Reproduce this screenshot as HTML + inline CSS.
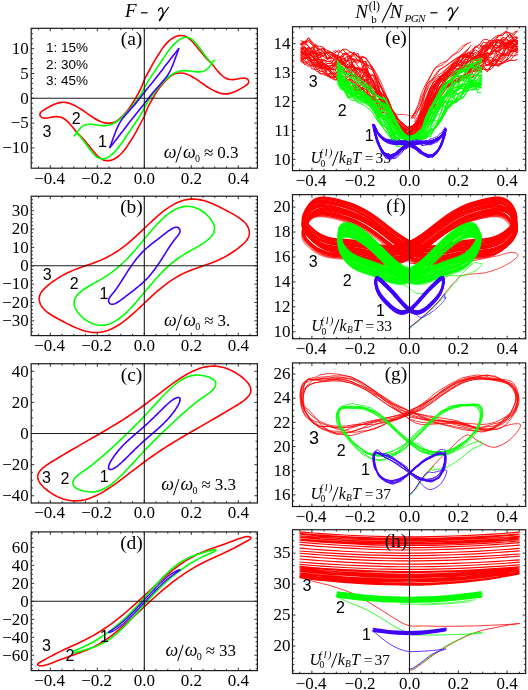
<!DOCTYPE html>
<html><head><meta charset="utf-8"><title>figure</title><style>
html,body{margin:0;padding:0;background:#fff}
svg{display:block;will-change:transform}
text{font-family:"Liberation Serif",serif;fill:#000}
.tk{font-size:17px}
.lg{font-family:"Liberation Sans",sans-serif;font-size:13.5px;fill:#000}
.nm{font-family:"Liberation Sans",sans-serif;font-size:16px;fill:#000}
.pl{font-size:19.5px}
.om{font-size:18px;font-style:italic}
.sl{font-size:20px}
.sub{font-size:10px}
.ti{font-size:19px;font-style:italic}
.tn{font-size:19px}
.tsup{font-size:12px}
.tsub{font-size:11px}
.tsubi{font-size:11.2px;font-style:italic;letter-spacing:-0.75px}
.tsl{font-size:25px}
.ui{font-size:16px;font-style:italic}
.usup{font-size:10px;font-style:italic;letter-spacing:1.5px}
.usub{font-size:9.5px}
.usubi{font-size:9.5px;font-style:italic}
.usl{font-size:17px}
.un{font-size:15.5px}
</style></head>
<body><svg width="528" height="690" viewBox="0 0 528 690">
<rect width="528" height="690" fill="#fff"/>
<g id="pa">
<clipPath id="clipa"><rect x="31.20" y="28.30" width="226.20" height="139.90"/></clipPath>
<g clip-path="url(#clipa)">
</g>
<path d="M144.30 80.00C145.20 77.97 146.00 76.62 147.00 74.70C148.00 72.78 149.05 70.82 150.30 68.50C151.55 66.18 153.10 63.18 154.50 60.80C155.90 58.42 157.32 56.35 158.70 54.20C160.08 52.05 161.42 49.78 162.80 47.90C164.18 46.02 165.60 44.35 167.00 42.90C168.40 41.45 169.82 40.23 171.20 39.20C172.58 38.17 173.92 37.30 175.30 36.70C176.68 36.10 178.10 35.75 179.50 35.60C180.90 35.45 182.73 35.69 183.70 35.80C184.67 35.91 184.47 35.83 185.30 36.25C186.13 36.67 187.58 37.47 188.70 38.30C189.82 39.13 190.90 40.13 192.00 41.25C193.10 42.37 194.18 43.67 195.30 45.00C196.42 46.33 197.58 47.82 198.70 49.20C199.82 50.58 200.90 51.98 202.00 53.30C203.10 54.62 204.18 55.87 205.30 57.10C206.42 58.33 207.58 59.55 208.70 60.70C209.82 61.85 210.90 62.75 212.00 64.00C213.10 65.25 214.18 66.83 215.30 68.20C216.42 69.57 217.58 70.98 218.70 72.20C219.82 73.42 220.90 74.53 222.00 75.50C223.10 76.47 224.18 77.38 225.30 78.00C226.42 78.62 227.58 78.93 228.70 79.20C229.82 79.47 230.90 79.58 232.00 79.60C233.10 79.62 234.18 79.44 235.30 79.30C236.42 79.16 237.58 78.93 238.70 78.75C239.82 78.57 240.90 78.29 242.00 78.20C243.10 78.11 244.40 78.03 245.30 78.20C246.20 78.37 246.83 78.69 247.40 79.20C247.97 79.71 248.60 80.49 248.70 81.25C248.80 82.01 248.57 82.99 248.00 83.75C247.43 84.51 246.30 85.11 245.30 85.80C244.30 86.49 243.10 87.24 242.00 87.90C240.90 88.56 239.82 89.17 238.70 89.75C237.58 90.33 236.42 90.90 235.30 91.40C234.18 91.90 233.10 92.38 232.00 92.75C230.90 93.12 229.82 93.41 228.70 93.60C227.58 93.79 226.42 93.90 225.30 93.90C224.18 93.90 223.10 93.80 222.00 93.60C220.90 93.40 219.82 93.09 218.70 92.70C217.58 92.31 216.42 91.77 215.30 91.25C214.18 90.73 213.38 90.36 212.00 89.60C210.62 88.84 208.53 87.67 207.00 86.70C205.47 85.73 204.18 84.73 202.80 83.75C201.42 82.77 200.08 81.74 198.70 80.80C197.32 79.86 195.90 78.95 194.50 78.10C193.10 77.25 191.68 76.38 190.30 75.70C188.92 75.02 187.30 74.40 186.20 74.00C185.10 73.60 184.68 73.47 183.70 73.30C182.72 73.13 181.42 73.00 180.30 73.00C179.18 73.00 178.10 73.08 177.00 73.30C175.90 73.52 174.82 73.78 173.70 74.30C172.58 74.82 171.42 75.57 170.30 76.40C169.18 77.23 168.10 78.25 167.00 79.30C165.90 80.35 164.82 81.45 163.70 82.70C162.58 83.95 161.42 85.35 160.30 86.80C159.18 88.25 158.10 89.73 157.00 91.40C155.90 93.07 154.82 94.92 153.70 96.80C152.58 98.68 151.42 100.62 150.30 102.70C149.18 104.78 148.00 107.05 147.00 109.30C146.00 111.55 145.20 114.17 144.30 116.20C143.40 118.23 142.60 119.58 141.60 121.50C140.60 123.42 139.55 125.38 138.30 127.70C137.05 130.02 135.50 133.02 134.10 135.40C132.70 137.78 131.28 139.85 129.90 142.00C128.52 144.15 127.18 146.42 125.80 148.30C124.42 150.18 123.00 151.85 121.60 153.30C120.20 154.75 118.78 155.97 117.40 157.00C116.02 158.03 114.68 158.90 113.30 159.50C111.92 160.10 110.50 160.45 109.10 160.60C107.70 160.75 105.87 160.51 104.90 160.40C103.93 160.29 104.13 160.37 103.30 159.95C102.47 159.53 101.02 158.73 99.90 157.90C98.78 157.07 97.70 156.07 96.60 154.95C95.50 153.83 94.42 152.52 93.30 151.20C92.18 149.88 91.02 148.38 89.90 147.00C88.78 145.62 87.70 144.22 86.60 142.90C85.50 141.58 84.42 140.33 83.30 139.10C82.18 137.87 81.02 136.65 79.90 135.50C78.78 134.35 77.70 133.45 76.60 132.20C75.50 130.95 74.42 129.37 73.30 128.00C72.18 126.63 71.02 125.22 69.90 124.00C68.78 122.78 67.70 121.67 66.60 120.70C65.50 119.73 64.42 118.82 63.30 118.20C62.18 117.58 61.02 117.27 59.90 117.00C58.78 116.73 57.70 116.62 56.60 116.60C55.50 116.58 54.42 116.76 53.30 116.90C52.18 117.04 51.02 117.27 49.90 117.45C48.78 117.63 47.70 117.91 46.60 118.00C45.50 118.09 44.20 118.17 43.30 118.00C42.40 117.83 41.77 117.51 41.20 117.00C40.63 116.49 40.00 115.71 39.90 114.95C39.80 114.19 40.03 113.21 40.60 112.45C41.17 111.69 42.30 111.09 43.30 110.40C44.30 109.71 45.50 108.96 46.60 108.30C47.70 107.64 48.78 107.03 49.90 106.45C51.02 105.87 52.18 105.30 53.30 104.80C54.42 104.30 55.50 103.82 56.60 103.45C57.70 103.08 58.78 102.79 59.90 102.60C61.02 102.41 62.18 102.30 63.30 102.30C64.42 102.30 65.50 102.40 66.60 102.60C67.70 102.80 68.78 103.11 69.90 103.50C71.02 103.89 72.18 104.43 73.30 104.95C74.42 105.47 75.22 105.84 76.60 106.60C77.98 107.36 80.07 108.52 81.60 109.50C83.13 110.47 84.42 111.47 85.80 112.45C87.18 113.43 88.52 114.46 89.90 115.40C91.28 116.34 92.70 117.25 94.10 118.10C95.50 118.95 96.92 119.82 98.30 120.50C99.68 121.18 101.30 121.80 102.40 122.20C103.50 122.60 103.92 122.73 104.90 122.90C105.88 123.07 107.18 123.20 108.30 123.20C109.42 123.20 110.50 123.12 111.60 122.90C112.70 122.68 113.78 122.42 114.90 121.90C116.02 121.38 117.18 120.63 118.30 119.80C119.42 118.97 120.50 117.95 121.60 116.90C122.70 115.85 123.78 114.75 124.90 113.50C126.02 112.25 127.18 110.85 128.30 109.40C129.42 107.95 130.50 106.47 131.60 104.80C132.70 103.13 133.78 101.28 134.90 99.40C136.02 97.52 137.18 95.58 138.30 93.50C139.42 91.42 140.60 89.15 141.60 86.90C142.60 84.65 143.40 82.03 144.30 80.00Z" fill="none" stroke="#ff0000" stroke-width="1.6" stroke-linejoin="round" stroke-linecap="round" />
<path d="M212.40 63.50C212.20 63.33 211.82 63.08 211.20 62.50C210.58 61.92 209.68 61.12 208.70 60.00C207.72 58.88 206.42 57.26 205.30 55.80C204.18 54.34 203.10 52.77 202.00 51.25C200.90 49.73 199.82 48.16 198.70 46.70C197.58 45.24 196.42 43.73 195.30 42.50C194.18 41.27 193.10 40.10 192.00 39.30C190.90 38.50 189.82 38.03 188.70 37.70C187.58 37.37 186.42 37.22 185.30 37.30C184.18 37.38 183.25 37.62 182.00 38.20C180.75 38.78 179.18 39.73 177.80 40.80C176.42 41.87 175.08 43.13 173.70 44.60C172.32 46.07 170.90 47.80 169.50 49.60C168.10 51.40 166.68 53.38 165.30 55.40C163.92 57.42 162.45 59.83 161.20 61.70C159.95 63.57 158.92 64.95 157.80 66.60C156.68 68.25 155.60 69.97 154.50 71.60C153.40 73.23 152.32 74.70 151.20 76.40C150.08 78.10 148.95 79.87 147.80 81.80C146.65 83.73 145.33 86.12 144.30 88.00C143.27 89.88 142.60 91.42 141.60 93.10C140.60 94.78 139.42 96.50 138.30 98.10C137.18 99.70 136.02 101.23 134.90 102.70C133.78 104.17 132.70 105.53 131.60 106.90C130.50 108.27 129.42 109.67 128.30 110.90C127.18 112.13 126.02 113.18 124.90 114.30C123.78 115.42 122.70 116.57 121.60 117.60C120.50 118.63 119.42 119.63 118.30 120.50C117.18 121.37 116.02 122.17 114.90 122.80C113.78 123.43 112.70 123.90 111.60 124.30C110.50 124.70 109.42 124.98 108.30 125.20C107.18 125.42 105.88 125.53 104.90 125.60C103.92 125.67 103.50 125.67 102.40 125.60C101.30 125.53 99.68 125.37 98.30 125.20C96.92 125.03 95.50 124.75 94.10 124.60C92.70 124.45 91.28 124.27 89.90 124.30C88.52 124.33 87.05 124.45 85.80 124.80C84.55 125.15 83.38 125.75 82.40 126.40C81.42 127.05 80.66 127.90 79.90 128.70C79.14 129.50 78.47 130.37 77.85 131.20C77.23 132.03 76.76 132.93 76.20 133.70C75.64 134.47 74.78 135.45 74.50 135.80" fill="none" stroke="#00ff00" stroke-width="1.6" stroke-linejoin="round" stroke-linecap="round" />
<path d="M76.20 132.70C76.40 132.87 76.78 133.12 77.40 133.70C78.02 134.28 78.92 135.08 79.90 136.20C80.88 137.32 82.18 138.94 83.30 140.40C84.42 141.86 85.50 143.43 86.60 144.95C87.70 146.47 88.78 148.04 89.90 149.50C91.02 150.96 92.18 152.47 93.30 153.70C94.42 154.93 95.50 156.10 96.60 156.90C97.70 157.70 98.78 158.17 99.90 158.50C101.02 158.83 102.18 158.98 103.30 158.90C104.42 158.82 105.35 158.58 106.60 158.00C107.85 157.42 109.42 156.47 110.80 155.40C112.18 154.33 113.52 153.07 114.90 151.60C116.28 150.13 117.70 148.40 119.10 146.60C120.50 144.80 121.92 142.82 123.30 140.80C124.68 138.78 126.15 136.37 127.40 134.50C128.65 132.63 129.68 131.25 130.80 129.60C131.92 127.95 133.00 126.23 134.10 124.60C135.20 122.97 136.28 121.50 137.40 119.80C138.52 118.10 139.65 116.33 140.80 114.40C141.95 112.47 143.27 110.08 144.30 108.20C145.33 106.32 146.00 104.78 147.00 103.10C148.00 101.42 149.18 99.70 150.30 98.10C151.42 96.50 152.58 94.97 153.70 93.50C154.82 92.03 155.90 90.67 157.00 89.30C158.10 87.93 159.18 86.53 160.30 85.30C161.42 84.07 162.58 83.02 163.70 81.90C164.82 80.78 165.90 79.63 167.00 78.60C168.10 77.57 169.18 76.57 170.30 75.70C171.42 74.83 172.58 74.03 173.70 73.40C174.82 72.77 175.90 72.30 177.00 71.90C178.10 71.50 179.18 71.22 180.30 71.00C181.42 70.78 182.72 70.67 183.70 70.60C184.68 70.53 185.10 70.53 186.20 70.60C187.30 70.67 188.92 70.83 190.30 71.00C191.68 71.17 193.10 71.45 194.50 71.60C195.90 71.75 197.32 71.93 198.70 71.90C200.08 71.87 201.55 71.75 202.80 71.40C204.05 71.05 205.22 70.45 206.20 69.80C207.18 69.15 207.94 68.30 208.70 67.50C209.46 66.70 210.13 65.83 210.75 65.00C211.37 64.17 211.84 63.27 212.40 62.50C212.96 61.73 213.82 60.75 214.10 60.40" fill="none" stroke="#00ff00" stroke-width="1.6" stroke-linejoin="round" stroke-linecap="round" />
<path d="M109.90 147.50C110.12 146.87 110.63 145.30 111.20 143.70C111.77 142.10 112.53 139.98 113.30 137.90C114.07 135.82 114.97 133.25 115.80 131.20C116.63 129.15 117.47 127.27 118.30 125.60C119.13 123.93 119.97 122.53 120.80 121.20C121.63 119.87 122.62 118.50 123.30 117.60C123.98 116.70 124.07 116.75 124.90 115.80C125.73 114.85 127.18 113.18 128.30 111.90C129.42 110.62 130.50 109.35 131.60 108.10C132.70 106.85 133.78 105.72 134.90 104.40C136.02 103.08 137.18 101.60 138.30 100.20C139.42 98.80 140.60 97.28 141.60 96.00C142.60 94.72 143.27 93.82 144.30 92.50C145.33 91.18 146.65 89.53 147.80 88.10C148.95 86.67 150.08 85.29 151.20 83.90C152.32 82.51 153.40 81.13 154.50 79.75C155.60 78.37 156.68 77.01 157.80 75.60C158.92 74.19 159.95 72.93 161.20 71.30C162.45 69.67 163.92 67.62 165.30 65.80C166.68 63.98 168.10 62.20 169.50 60.40C170.90 58.60 172.45 56.60 173.70 55.00C174.95 53.40 176.17 51.85 177.00 50.80C177.83 49.75 178.42 49.05 178.70 48.70" fill="none" stroke="#4000ff" stroke-width="1.6" stroke-linejoin="round" stroke-linecap="round" />
<path d="M178.70 48.70C178.48 49.33 177.97 50.90 177.40 52.50C176.83 54.10 176.07 56.22 175.30 58.30C174.53 60.38 173.63 62.95 172.80 65.00C171.97 67.05 171.13 68.93 170.30 70.60C169.47 72.27 168.63 73.67 167.80 75.00C166.97 76.33 165.98 77.70 165.30 78.60C164.62 79.50 164.53 79.45 163.70 80.40C162.87 81.35 161.42 83.02 160.30 84.30C159.18 85.58 158.10 86.85 157.00 88.10C155.90 89.35 154.82 90.48 153.70 91.80C152.58 93.12 151.42 94.60 150.30 96.00C149.18 97.40 148.00 98.92 147.00 100.20C146.00 101.48 145.33 102.38 144.30 103.70C143.27 105.02 141.95 106.67 140.80 108.10C139.65 109.53 138.52 110.91 137.40 112.30C136.28 113.69 135.20 115.07 134.10 116.45C133.00 117.83 131.92 119.19 130.80 120.60C129.68 122.01 128.65 123.27 127.40 124.90C126.15 126.53 124.68 128.58 123.30 130.40C121.92 132.22 120.50 134.00 119.10 135.80C117.70 137.60 116.15 139.60 114.90 141.20C113.65 142.80 112.43 144.35 111.60 145.40C110.77 146.45 110.18 147.15 109.90 147.50" fill="none" stroke="#4000ff" stroke-width="1.6" stroke-linejoin="round" stroke-linecap="round" />
<text x="46" y="51.6" class="lg">1: 15%</text>
<text x="46" y="68.6" class="lg">2: 30%</text>
<text x="46" y="85.4" class="lg">3: 45%</text>
<text x="102.5" y="147.3" class="nm" text-anchor="middle">1</text>
<text x="76.2" y="123.7" class="nm" text-anchor="middle">2</text>
<text x="47" y="136.5" class="nm" text-anchor="middle">3</text>
<path d="M38.55 168.20v-1.8M38.55 28.30v1.8M50.30 168.20v-3.0M50.30 28.30v3.0M62.05 168.20v-1.8M62.05 28.30v1.8M73.80 168.20v-1.8M73.80 28.30v1.8M85.55 168.20v-1.8M85.55 28.30v1.8M97.30 168.20v-3.0M97.30 28.30v3.0M109.05 168.20v-1.8M109.05 28.30v1.8M120.80 168.20v-1.8M120.80 28.30v1.8M132.55 168.20v-1.8M132.55 28.30v1.8M144.30 168.20v-3.0M144.30 28.30v3.0M156.05 168.20v-1.8M156.05 28.30v1.8M167.80 168.20v-1.8M167.80 28.30v1.8M179.55 168.20v-1.8M179.55 28.30v1.8M191.30 168.20v-3.0M191.30 28.30v3.0M203.05 168.20v-1.8M203.05 28.30v1.8M214.80 168.20v-1.8M214.80 28.30v1.8M226.55 168.20v-1.8M226.55 28.30v1.8M238.30 168.20v-3.0M238.30 28.30v3.0M250.05 168.20v-1.8M250.05 28.30v1.8M31.20 162.78h1.8M257.40 162.78h-1.8M31.20 157.82h1.8M257.40 157.82h-1.8M31.20 152.86h1.8M257.40 152.86h-1.8M31.20 147.90h3.0M257.40 147.90h-3.0M31.20 142.94h1.8M257.40 142.94h-1.8M31.20 137.98h1.8M257.40 137.98h-1.8M31.20 133.02h1.8M257.40 133.02h-1.8M31.20 128.06h1.8M257.40 128.06h-1.8M31.20 123.10h3.0M257.40 123.10h-3.0M31.20 118.14h1.8M257.40 118.14h-1.8M31.20 113.18h1.8M257.40 113.18h-1.8M31.20 108.22h1.8M257.40 108.22h-1.8M31.20 103.26h1.8M257.40 103.26h-1.8M31.20 98.30h3.0M257.40 98.30h-3.0M31.20 93.34h1.8M257.40 93.34h-1.8M31.20 88.38h1.8M257.40 88.38h-1.8M31.20 83.42h1.8M257.40 83.42h-1.8M31.20 78.46h1.8M257.40 78.46h-1.8M31.20 73.50h3.0M257.40 73.50h-3.0M31.20 68.54h1.8M257.40 68.54h-1.8M31.20 63.58h1.8M257.40 63.58h-1.8M31.20 58.62h1.8M257.40 58.62h-1.8M31.20 53.66h1.8M257.40 53.66h-1.8M31.20 48.70h3.0M257.40 48.70h-3.0M31.20 43.74h1.8M257.40 43.74h-1.8M31.20 38.78h1.8M257.40 38.78h-1.8M31.20 33.82h1.8M257.40 33.82h-1.8M31.20 28.86h1.8M257.40 28.86h-1.8" stroke="#1c1c1c" stroke-width="0.9" fill="none"/>
<path d="M144.30 28.30V168.20" stroke="#1c1c1c" stroke-width="1.1"/>
<path d="M31.20 98.30H257.40" stroke="#1c1c1c" stroke-width="1.1"/>
<rect x="31.20" y="28.30" width="226.20" height="139.90" fill="none" stroke="#1c1c1c" stroke-width="1.2"/>
<text x="49.60" y="183.50" text-anchor="middle" class="tk">−0.4</text>
<text x="96.60" y="183.50" text-anchor="middle" class="tk">−0.2</text>
<text x="144.30" y="183.50" text-anchor="middle" class="tk">0.0</text>
<text x="191.30" y="183.50" text-anchor="middle" class="tk">0.2</text>
<text x="238.30" y="183.50" text-anchor="middle" class="tk">0.4</text>
<text x="28.80" y="153.20" text-anchor="end" class="tk">−10</text>
<text x="28.80" y="128.40" text-anchor="end" class="tk">−5</text>
<text x="28.80" y="103.60" text-anchor="end" class="tk">0</text>
<text x="28.80" y="78.80" text-anchor="end" class="tk">5</text>
<text x="28.80" y="54.00" text-anchor="end" class="tk">10</text>
</g>
<g id="pb">
<clipPath id="clipb"><rect x="31.20" y="196.20" width="226.20" height="139.40"/></clipPath>
<g clip-path="url(#clipb)">
</g>
<path d="M144.30 228.38L148.43 224.46L152.55 220.60L156.65 216.89L160.74 213.39L164.80 210.18L168.84 207.31L172.83 204.84L176.78 202.79L180.68 201.20L184.52 200.05L188.30 199.35L192.01 199.06L195.65 199.17L199.21 199.61L202.69 200.35L206.08 201.32L209.37 202.48L212.56 203.78L215.64 205.15L218.62 206.57L221.48 207.99L224.22 209.40L226.84 210.78L229.33 212.12L231.69 213.41L233.91 214.66L236.00 215.89L237.94 217.10L239.75 218.31L241.40 219.53L242.90 220.76L244.26 222.02L245.45 223.31L246.50 224.63L247.38 225.97L248.11 227.34L248.67 228.71L249.08 230.09L249.32 231.45L249.40 232.80L249.32 234.13L249.08 235.43L248.67 236.71L248.11 237.98L247.38 239.22L246.50 240.47L245.45 241.72L244.26 242.99L242.90 244.28L241.40 245.61L239.75 246.97L237.94 248.38L236.00 249.82L233.91 251.28L231.69 252.77L229.33 254.25L226.84 255.73L224.22 257.17L221.48 258.58L218.62 259.93L215.64 261.23L212.56 262.47L209.37 263.67L206.08 264.83L202.69 265.98L199.21 267.17L195.65 268.41L192.01 269.75L188.30 271.23L184.52 272.90L180.68 274.79L176.78 276.93L172.83 279.34L168.84 282.04L164.80 285.02L160.74 288.28L156.65 291.77L152.55 295.46L148.43 299.30L144.30 303.22L140.17 307.14L136.05 311.00L131.95 314.71L127.86 318.21L123.80 321.42L119.76 324.29L115.77 326.76L111.82 328.81L107.92 330.40L104.08 331.55L100.30 332.25L96.59 332.54L92.95 332.43L89.39 331.99L85.91 331.25L82.52 330.28L79.23 329.12L76.04 327.82L72.96 326.45L69.98 325.03L67.12 323.61L64.38 322.20L61.76 320.82L59.27 319.48L56.91 318.19L54.69 316.94L52.60 315.71L50.66 314.50L48.85 313.29L47.20 312.07L45.70 310.84L44.34 309.58L43.15 308.29L42.10 306.97L41.22 305.63L40.49 304.26L39.93 302.89L39.52 301.51L39.28 300.15L39.20 298.80L39.28 297.47L39.52 296.17L39.93 294.89L40.49 293.62L41.22 292.38L42.10 291.13L43.15 289.88L44.34 288.61L45.70 287.32L47.20 285.99L48.85 284.63L50.66 283.22L52.60 281.78L54.69 280.32L56.91 278.83L59.27 277.35L61.76 275.87L64.38 274.43L67.12 273.02L69.98 271.67L72.96 270.37L76.04 269.13L79.23 267.93L82.52 266.77L85.91 265.62L89.39 264.43L92.95 263.19L96.59 261.85L100.30 260.37L104.08 258.70L107.92 256.81L111.82 254.67L115.77 252.26L119.76 249.56L123.80 246.58L127.86 243.32L131.95 239.83L136.05 236.14L140.17 232.30Z" fill="none" stroke="#ff0000" stroke-width="1.6" stroke-linejoin="round" stroke-linecap="round" />
<path d="M144.30 239.11L147.06 235.80L149.81 232.53L152.55 229.34L155.28 226.26L158.00 223.33L160.69 220.58L163.36 218.03L165.99 215.70L168.60 213.62L171.16 211.80L173.69 210.24L176.17 208.95L178.60 207.93L180.98 207.16L183.30 206.65L185.56 206.36L187.76 206.30L189.89 206.45L191.95 206.77L193.94 207.26L195.85 207.89L197.68 208.65L199.43 209.52L201.09 210.47L202.67 211.50L204.16 212.59L205.55 213.73L206.85 214.89L208.05 216.08L209.16 217.28L210.16 218.49L211.06 219.70L211.86 220.90L212.56 222.08L213.15 223.25L213.64 224.40L214.01 225.52L214.28 226.63L214.45 227.71L214.50 228.77L214.45 229.81L214.28 230.83L214.01 231.84L213.64 232.83L213.15 233.82L212.56 234.80L211.86 235.77L211.06 236.74L210.16 237.72L209.16 238.69L208.05 239.67L206.85 240.65L205.55 241.63L204.16 242.62L202.67 243.61L201.09 244.61L199.43 245.62L197.68 246.65L195.85 247.69L193.94 248.76L191.95 249.86L189.89 251.02L187.76 252.23L185.56 253.52L183.30 254.90L180.98 256.39L178.60 258.00L176.17 259.74L173.69 261.64L171.16 263.70L168.60 265.92L165.99 268.32L163.36 270.88L160.69 273.62L158.00 276.50L155.28 279.52L152.55 282.66L149.81 285.88L147.06 289.17L144.30 292.49L141.54 295.80L138.79 299.07L136.05 302.26L133.32 305.34L130.60 308.27L127.91 311.02L125.24 313.57L122.61 315.90L120.00 317.98L117.44 319.80L114.91 321.36L112.43 322.65L110.00 323.67L107.62 324.44L105.30 324.95L103.04 325.24L100.84 325.30L98.71 325.15L96.65 324.83L94.66 324.34L92.75 323.71L90.92 322.95L89.17 322.08L87.51 321.13L85.93 320.10L84.44 319.01L83.05 317.87L81.75 316.71L80.55 315.52L79.44 314.32L78.44 313.11L77.54 311.90L76.74 310.70L76.04 309.52L75.45 308.35L74.96 307.20L74.59 306.08L74.32 304.97L74.15 303.89L74.10 302.83L74.15 301.79L74.32 300.77L74.59 299.76L74.96 298.77L75.45 297.78L76.04 296.80L76.74 295.83L77.54 294.86L78.44 293.88L79.44 292.91L80.55 291.93L81.75 290.95L83.05 289.97L84.44 288.98L85.93 287.99L87.51 286.99L89.17 285.98L90.92 284.95L92.75 283.91L94.66 282.84L96.65 281.74L98.71 280.58L100.84 279.37L103.04 278.08L105.30 276.70L107.62 275.21L110.00 273.60L112.43 271.86L114.91 269.96L117.44 267.90L120.00 265.68L122.61 263.28L125.24 260.72L127.91 257.98L130.60 255.10L133.32 252.08L136.05 248.94L138.79 245.72L141.54 242.43Z" fill="none" stroke="#00ff00" stroke-width="1.6" stroke-linejoin="round" stroke-linecap="round" />
<path d="M144.30 250.30L145.70 248.98L147.10 247.73L148.50 246.52L149.88 245.36L151.26 244.24L152.63 243.15L153.99 242.09L155.33 241.05L156.66 240.03L157.96 239.03L159.25 238.04L160.51 237.07L161.74 236.11L162.95 235.18L164.13 234.26L165.28 233.38L166.40 232.53L167.49 231.72L168.53 230.96L169.54 230.25L170.52 229.61L171.45 229.03L172.34 228.53L173.18 228.11L173.98 227.78L174.74 227.52L175.45 227.36L176.11 227.28L176.72 227.28L177.28 227.36L177.79 227.52L178.25 227.74L178.66 228.02L179.01 228.35L179.31 228.73L179.56 229.14L179.75 229.57L179.89 230.03L179.97 230.51L180.00 230.99L179.97 231.47L179.89 231.97L179.75 232.46L179.56 232.96L179.31 233.46L179.01 233.98L178.66 234.51L178.25 235.07L177.79 235.66L177.28 236.30L176.72 236.99L176.11 237.74L175.45 238.56L174.74 239.45L173.98 240.44L173.18 241.51L172.34 242.68L171.45 243.94L170.52 245.30L169.54 246.75L168.53 248.30L167.49 249.92L166.40 251.63L165.28 253.40L164.13 255.22L162.95 257.09L161.74 258.99L160.51 260.91L159.25 262.83L157.96 264.74L156.66 266.63L155.33 268.48L153.99 270.29L152.63 272.06L151.26 273.76L149.88 275.40L148.50 276.98L147.10 278.48L145.70 279.93L144.30 281.30L142.90 282.62L141.50 283.87L140.10 285.08L138.72 286.24L137.34 287.36L135.97 288.45L134.61 289.51L133.27 290.55L131.94 291.57L130.64 292.57L129.35 293.56L128.09 294.53L126.86 295.49L125.65 296.42L124.47 297.34L123.32 298.22L122.20 299.07L121.11 299.88L120.07 300.64L119.06 301.35L118.08 301.99L117.15 302.57L116.26 303.07L115.42 303.49L114.62 303.82L113.86 304.08L113.15 304.24L112.49 304.32L111.88 304.32L111.32 304.24L110.81 304.08L110.35 303.86L109.94 303.58L109.59 303.25L109.29 302.87L109.04 302.46L108.85 302.03L108.71 301.57L108.63 301.09L108.60 300.61L108.63 300.13L108.71 299.63L108.85 299.14L109.04 298.64L109.29 298.14L109.59 297.62L109.94 297.09L110.35 296.53L110.81 295.94L111.32 295.30L111.88 294.61L112.49 293.86L113.15 293.04L113.86 292.15L114.62 291.16L115.42 290.09L116.26 288.92L117.15 287.66L118.08 286.30L119.06 284.85L120.07 283.30L121.11 281.68L122.20 279.97L123.32 278.20L124.47 276.38L125.65 274.51L126.86 272.61L128.09 270.69L129.35 268.77L130.64 266.86L131.94 264.97L133.27 263.12L134.61 261.31L135.97 259.54L137.34 257.84L138.72 256.20L140.10 254.62L141.50 253.12L142.90 251.67Z" fill="none" stroke="#4000ff" stroke-width="1.6" stroke-linejoin="round" stroke-linecap="round" />
<text x="104" y="299.4" class="nm" text-anchor="middle">1</text>
<text x="74.1" y="288.7" class="nm" text-anchor="middle">2</text>
<text x="47.2" y="280.1" class="nm" text-anchor="middle">3</text>
<path d="M38.55 335.60v-1.8M38.55 196.20v1.8M50.30 335.60v-3.0M50.30 196.20v3.0M62.05 335.60v-1.8M62.05 196.20v1.8M73.80 335.60v-1.8M73.80 196.20v1.8M85.55 335.60v-1.8M85.55 196.20v1.8M97.30 335.60v-3.0M97.30 196.20v3.0M109.05 335.60v-1.8M109.05 196.20v1.8M120.80 335.60v-1.8M120.80 196.20v1.8M132.55 335.60v-1.8M132.55 196.20v1.8M144.30 335.60v-3.0M144.30 196.20v3.0M156.05 335.60v-1.8M156.05 196.20v1.8M167.80 335.60v-1.8M167.80 196.20v1.8M179.55 335.60v-1.8M179.55 196.20v1.8M191.30 335.60v-3.0M191.30 196.20v3.0M203.05 335.60v-1.8M203.05 196.20v1.8M214.80 335.60v-1.8M214.80 196.20v1.8M226.55 335.60v-1.8M226.55 196.20v1.8M238.30 335.60v-3.0M238.30 196.20v3.0M250.05 335.60v-1.8M250.05 196.20v1.8M31.20 331.86h1.8M257.40 331.86h-1.8M31.20 328.19h1.8M257.40 328.19h-1.8M31.20 324.52h1.8M257.40 324.52h-1.8M31.20 320.85h3.0M257.40 320.85h-3.0M31.20 317.18h1.8M257.40 317.18h-1.8M31.20 313.51h1.8M257.40 313.51h-1.8M31.20 309.84h1.8M257.40 309.84h-1.8M31.20 306.17h1.8M257.40 306.17h-1.8M31.20 302.50h3.0M257.40 302.50h-3.0M31.20 298.83h1.8M257.40 298.83h-1.8M31.20 295.16h1.8M257.40 295.16h-1.8M31.20 291.49h1.8M257.40 291.49h-1.8M31.20 287.82h1.8M257.40 287.82h-1.8M31.20 284.15h3.0M257.40 284.15h-3.0M31.20 280.48h1.8M257.40 280.48h-1.8M31.20 276.81h1.8M257.40 276.81h-1.8M31.20 273.14h1.8M257.40 273.14h-1.8M31.20 269.47h1.8M257.40 269.47h-1.8M31.20 265.80h3.0M257.40 265.80h-3.0M31.20 262.13h1.8M257.40 262.13h-1.8M31.20 258.46h1.8M257.40 258.46h-1.8M31.20 254.79h1.8M257.40 254.79h-1.8M31.20 251.12h1.8M257.40 251.12h-1.8M31.20 247.45h3.0M257.40 247.45h-3.0M31.20 243.78h1.8M257.40 243.78h-1.8M31.20 240.11h1.8M257.40 240.11h-1.8M31.20 236.44h1.8M257.40 236.44h-1.8M31.20 232.77h1.8M257.40 232.77h-1.8M31.20 229.10h3.0M257.40 229.10h-3.0M31.20 225.43h1.8M257.40 225.43h-1.8M31.20 221.76h1.8M257.40 221.76h-1.8M31.20 218.09h1.8M257.40 218.09h-1.8M31.20 214.42h1.8M257.40 214.42h-1.8M31.20 210.75h3.0M257.40 210.75h-3.0M31.20 207.08h1.8M257.40 207.08h-1.8M31.20 203.41h1.8M257.40 203.41h-1.8M31.20 199.74h1.8M257.40 199.74h-1.8" stroke="#1c1c1c" stroke-width="0.9" fill="none"/>
<path d="M144.30 196.20V335.60" stroke="#1c1c1c" stroke-width="1.1"/>
<path d="M31.20 265.80H257.40" stroke="#1c1c1c" stroke-width="1.1"/>
<rect x="31.20" y="196.20" width="226.20" height="139.40" fill="none" stroke="#1c1c1c" stroke-width="1.2"/>
<text x="49.60" y="350.90" text-anchor="middle" class="tk">−0.4</text>
<text x="96.60" y="350.90" text-anchor="middle" class="tk">−0.2</text>
<text x="144.30" y="350.90" text-anchor="middle" class="tk">0.0</text>
<text x="191.30" y="350.90" text-anchor="middle" class="tk">0.2</text>
<text x="238.30" y="350.90" text-anchor="middle" class="tk">0.4</text>
<text x="28.80" y="326.15" text-anchor="end" class="tk">−30</text>
<text x="28.80" y="307.80" text-anchor="end" class="tk">−20</text>
<text x="28.80" y="289.45" text-anchor="end" class="tk">−10</text>
<text x="28.80" y="271.10" text-anchor="end" class="tk">0</text>
<text x="28.80" y="252.75" text-anchor="end" class="tk">10</text>
<text x="28.80" y="234.40" text-anchor="end" class="tk">20</text>
<text x="28.80" y="216.05" text-anchor="end" class="tk">30</text>
</g>
<g id="pc">
<clipPath id="clipc"><rect x="31.20" y="363.75" width="226.20" height="139.25"/></clipPath>
<g clip-path="url(#clipc)">
</g>
<path d="M144.30 405.00L148.49 401.88L152.66 398.71L156.83 395.52L160.98 392.33L165.10 389.19L169.19 386.12L173.24 383.16L177.24 380.35L181.20 377.72L185.09 375.31L188.93 373.15L192.70 371.26L196.39 369.65L200.00 368.34L203.52 367.34L206.96 366.65L210.30 366.25L213.53 366.14L216.66 366.29L219.68 366.68L222.58 367.28L225.36 368.07L228.01 369.02L230.54 370.10L232.93 371.27L235.19 372.52L237.31 373.82L239.28 375.15L241.11 376.50L242.79 377.84L244.31 379.18L245.68 380.50L246.90 381.80L247.95 383.07L248.85 384.32L249.59 385.55L250.16 386.75L250.57 387.93L250.82 389.09L250.90 390.24L250.82 391.36L250.57 392.48L250.16 393.58L249.59 394.68L248.85 395.77L247.95 396.86L246.90 397.95L245.68 399.05L244.31 400.17L242.79 401.31L241.11 402.48L239.28 403.70L237.31 404.95L235.19 406.26L232.93 407.63L230.54 409.06L228.01 410.56L225.36 412.13L222.58 413.76L219.68 415.46L216.66 417.22L213.53 419.05L210.30 420.93L206.96 422.86L203.52 424.84L200.00 426.86L196.39 428.94L192.70 431.06L188.93 433.22L185.09 435.45L181.20 437.73L177.24 440.08L173.24 442.50L169.19 445.01L165.10 447.60L160.98 450.29L156.83 453.08L152.66 455.97L148.49 458.94L144.30 462.00L140.11 465.12L135.94 468.29L131.77 471.48L127.62 474.67L123.50 477.81L119.41 480.88L115.36 483.84L111.36 486.65L107.40 489.28L103.51 491.69L99.67 493.85L95.90 495.74L92.21 497.35L88.60 498.66L85.08 499.66L81.64 500.35L78.30 500.75L75.07 500.86L71.94 500.71L68.92 500.32L66.02 499.72L63.24 498.93L60.59 497.98L58.06 496.90L55.67 495.73L53.41 494.48L51.29 493.18L49.32 491.85L47.49 490.50L45.81 489.16L44.29 487.82L42.92 486.50L41.70 485.20L40.65 483.93L39.75 482.68L39.01 481.45L38.44 480.25L38.03 479.07L37.78 477.91L37.70 476.76L37.78 475.64L38.03 474.52L38.44 473.42L39.01 472.32L39.75 471.23L40.65 470.14L41.70 469.05L42.92 467.95L44.29 466.83L45.81 465.69L47.49 464.52L49.32 463.30L51.29 462.05L53.41 460.74L55.67 459.37L58.06 457.94L60.59 456.44L63.24 454.87L66.02 453.24L68.92 451.54L71.94 449.78L75.07 447.95L78.30 446.07L81.64 444.14L85.08 442.16L88.60 440.14L92.21 438.06L95.90 435.94L99.67 433.78L103.51 431.55L107.40 429.27L111.36 426.92L115.36 424.50L119.41 421.99L123.50 419.40L127.62 416.71L131.77 413.92L135.94 411.03L140.11 408.06Z" fill="none" stroke="#ff0000" stroke-width="1.6" stroke-linejoin="round" stroke-linecap="round" />
<path d="M144.30 416.19L147.10 413.20L149.90 410.19L152.69 407.15L155.47 404.12L158.23 401.12L160.97 398.18L163.68 395.31L166.36 392.56L169.01 389.96L171.62 387.51L174.19 385.26L176.71 383.22L179.19 381.41L181.61 379.83L183.97 378.50L186.27 377.40L188.50 376.53L190.67 375.88L192.77 375.43L194.79 375.16L196.73 375.05L198.59 375.07L200.37 375.21L202.06 375.43L203.67 375.73L205.18 376.07L206.60 376.45L207.92 376.87L209.14 377.30L210.26 377.76L211.29 378.23L212.21 378.73L213.02 379.25L213.73 379.79L214.33 380.38L214.82 380.99L215.21 381.65L215.48 382.35L215.64 383.08L215.70 383.85L215.64 384.64L215.48 385.46L215.21 386.29L214.82 387.14L214.33 387.99L213.73 388.83L213.02 389.68L212.21 390.52L211.29 391.36L210.26 392.21L209.14 393.07L207.92 393.96L206.60 394.88L205.18 395.85L203.67 396.88L202.06 398.00L200.37 399.19L198.59 400.49L196.73 401.89L194.79 403.40L192.77 405.03L190.67 406.76L188.50 408.60L186.27 410.54L183.97 412.58L181.61 414.71L179.19 416.91L176.71 419.18L174.19 421.52L171.62 423.91L169.01 426.35L166.36 428.85L163.68 431.40L160.97 434.00L158.23 436.66L155.47 439.37L152.69 442.14L149.90 444.98L147.10 447.87L144.30 450.81L141.50 453.80L138.70 456.81L135.91 459.85L133.13 462.88L130.37 465.88L127.63 468.82L124.92 471.69L122.24 474.44L119.59 477.04L116.98 479.49L114.41 481.74L111.89 483.78L109.41 485.59L106.99 487.17L104.63 488.50L102.33 489.60L100.10 490.47L97.93 491.12L95.83 491.57L93.81 491.84L91.87 491.95L90.01 491.93L88.23 491.79L86.54 491.57L84.93 491.27L83.42 490.93L82.00 490.55L80.68 490.13L79.46 489.70L78.34 489.24L77.31 488.77L76.39 488.27L75.58 487.75L74.87 487.21L74.27 486.62L73.78 486.01L73.39 485.35L73.12 484.65L72.96 483.92L72.90 483.15L72.96 482.36L73.12 481.54L73.39 480.71L73.78 479.86L74.27 479.01L74.87 478.17L75.58 477.32L76.39 476.48L77.31 475.64L78.34 474.79L79.46 473.93L80.68 473.04L82.00 472.12L83.42 471.15L84.93 470.12L86.54 469.00L88.23 467.81L90.01 466.51L91.87 465.11L93.81 463.60L95.83 461.97L97.93 460.24L100.10 458.40L102.33 456.46L104.63 454.42L106.99 452.29L109.41 450.09L111.89 447.82L114.41 445.48L116.98 443.09L119.59 440.65L122.24 438.15L124.92 435.60L127.63 433.00L130.37 430.34L133.13 427.63L135.91 424.86L138.70 422.02L141.50 419.13Z" fill="none" stroke="#00ff00" stroke-width="1.6" stroke-linejoin="round" stroke-linecap="round" />
<path d="M144.30 426.36L145.71 425.10L147.11 423.82L148.51 422.53L149.90 421.22L151.28 419.90L152.66 418.58L154.02 417.26L155.36 415.93L156.69 414.62L158.00 413.31L159.29 412.03L160.55 410.76L161.79 409.53L163.01 408.34L164.19 407.18L165.34 406.08L166.46 405.03L167.55 404.03L168.60 403.10L169.61 402.24L170.59 401.44L171.52 400.71L172.41 400.06L173.26 399.48L174.07 398.98L174.82 398.55L175.54 398.20L176.20 397.91L176.81 397.70L177.37 397.56L177.89 397.48L178.35 397.47L178.76 397.52L179.11 397.63L179.41 397.80L179.66 398.02L179.85 398.31L179.99 398.64L180.07 399.03L180.10 399.47L180.07 399.96L179.99 400.50L179.85 401.08L179.66 401.72L179.41 402.40L179.11 403.13L178.76 403.91L178.35 404.72L177.89 405.58L177.37 406.48L176.81 407.42L176.20 408.40L175.54 409.41L174.82 410.45L174.07 411.51L173.26 412.60L172.41 413.71L171.52 414.84L170.59 415.98L169.61 417.13L168.60 418.29L167.55 419.45L166.46 420.62L165.34 421.79L164.19 422.95L163.01 424.12L161.79 425.28L160.55 426.43L159.29 427.59L158.00 428.74L156.69 429.90L155.36 431.06L154.02 432.22L152.66 433.39L151.28 434.56L149.90 435.75L148.51 436.95L147.11 438.17L145.71 439.40L144.30 440.64L142.89 441.90L141.49 443.18L140.09 444.47L138.70 445.78L137.32 447.10L135.94 448.42L134.58 449.74L133.24 451.07L131.91 452.38L130.60 453.69L129.31 454.97L128.05 456.24L126.81 457.47L125.59 458.66L124.41 459.82L123.26 460.92L122.14 461.97L121.05 462.97L120.00 463.90L118.99 464.76L118.01 465.56L117.08 466.29L116.19 466.94L115.34 467.52L114.53 468.02L113.78 468.45L113.06 468.80L112.40 469.09L111.79 469.30L111.23 469.44L110.71 469.52L110.25 469.53L109.84 469.48L109.49 469.37L109.19 469.20L108.94 468.98L108.75 468.69L108.61 468.36L108.53 467.97L108.50 467.53L108.53 467.04L108.61 466.50L108.75 465.92L108.94 465.28L109.19 464.60L109.49 463.87L109.84 463.09L110.25 462.28L110.71 461.42L111.23 460.52L111.79 459.58L112.40 458.60L113.06 457.59L113.78 456.55L114.53 455.49L115.34 454.40L116.19 453.29L117.08 452.16L118.01 451.02L118.99 449.87L120.00 448.71L121.05 447.55L122.14 446.38L123.26 445.21L124.41 444.05L125.59 442.88L126.81 441.72L128.05 440.57L129.31 439.41L130.60 438.26L131.91 437.10L133.24 435.94L134.58 434.78L135.94 433.61L137.32 432.44L138.70 431.25L140.09 430.05L141.49 428.83L142.89 427.60Z" fill="none" stroke="#4000ff" stroke-width="1.6" stroke-linejoin="round" stroke-linecap="round" />
<text x="104.1" y="482.3" class="nm" text-anchor="middle">1</text>
<text x="65" y="484.0" class="nm" text-anchor="middle">2</text>
<text x="46.5" y="482.9" class="nm" text-anchor="middle">3</text>
<path d="M38.55 503.00v-1.8M38.55 363.75v1.8M50.30 503.00v-3.0M50.30 363.75v3.0M62.05 503.00v-1.8M62.05 363.75v1.8M73.80 503.00v-1.8M73.80 363.75v1.8M85.55 503.00v-1.8M85.55 363.75v1.8M97.30 503.00v-3.0M97.30 363.75v3.0M109.05 503.00v-1.8M109.05 363.75v1.8M120.80 503.00v-1.8M120.80 363.75v1.8M132.55 503.00v-1.8M132.55 363.75v1.8M144.30 503.00v-3.0M144.30 363.75v3.0M156.05 503.00v-1.8M156.05 363.75v1.8M167.80 503.00v-1.8M167.80 363.75v1.8M179.55 503.00v-1.8M179.55 363.75v1.8M191.30 503.00v-3.0M191.30 363.75v3.0M203.05 503.00v-1.8M203.05 363.75v1.8M214.80 503.00v-1.8M214.80 363.75v1.8M226.55 503.00v-1.8M226.55 363.75v1.8M238.30 503.00v-3.0M238.30 363.75v3.0M250.05 503.00v-1.8M250.05 363.75v1.8M31.20 495.74h3.0M257.40 495.74h-3.0M31.20 487.96h1.8M257.40 487.96h-1.8M31.20 480.18h1.8M257.40 480.18h-1.8M31.20 472.40h1.8M257.40 472.40h-1.8M31.20 464.62h3.0M257.40 464.62h-3.0M31.20 456.84h1.8M257.40 456.84h-1.8M31.20 449.06h1.8M257.40 449.06h-1.8M31.20 441.28h1.8M257.40 441.28h-1.8M31.20 433.50h3.0M257.40 433.50h-3.0M31.20 425.72h1.8M257.40 425.72h-1.8M31.20 417.94h1.8M257.40 417.94h-1.8M31.20 410.16h1.8M257.40 410.16h-1.8M31.20 402.38h3.0M257.40 402.38h-3.0M31.20 394.60h1.8M257.40 394.60h-1.8M31.20 386.82h1.8M257.40 386.82h-1.8M31.20 379.04h1.8M257.40 379.04h-1.8M31.20 371.26h3.0M257.40 371.26h-3.0" stroke="#1c1c1c" stroke-width="0.9" fill="none"/>
<path d="M144.30 363.75V503.00" stroke="#1c1c1c" stroke-width="1.1"/>
<path d="M31.20 433.50H257.40" stroke="#1c1c1c" stroke-width="1.1"/>
<rect x="31.20" y="363.75" width="226.20" height="139.25" fill="none" stroke="#1c1c1c" stroke-width="1.2"/>
<text x="49.60" y="518.30" text-anchor="middle" class="tk">−0.4</text>
<text x="96.60" y="518.30" text-anchor="middle" class="tk">−0.2</text>
<text x="144.30" y="518.30" text-anchor="middle" class="tk">0.0</text>
<text x="191.30" y="518.30" text-anchor="middle" class="tk">0.2</text>
<text x="238.30" y="518.30" text-anchor="middle" class="tk">0.4</text>
<text x="28.80" y="501.04" text-anchor="end" class="tk">−40</text>
<text x="28.80" y="469.92" text-anchor="end" class="tk">−20</text>
<text x="28.80" y="438.80" text-anchor="end" class="tk">0</text>
<text x="28.80" y="407.68" text-anchor="end" class="tk">20</text>
<text x="28.80" y="376.56" text-anchor="end" class="tk">40</text>
</g>
<g id="pd">
<clipPath id="clipd"><rect x="31.20" y="531.90" width="226.20" height="138.70"/></clipPath>
<g clip-path="url(#clipd)">
</g>
<path d="M144.30 595.66L148.49 591.74L152.67 587.83L156.84 583.96L160.99 580.18L165.12 576.52L169.21 573.02L173.26 569.71L177.27 566.61L181.23 563.75L185.13 561.15L188.97 558.79L192.74 556.68L196.44 554.79L200.05 553.12L203.58 551.63L207.02 550.28L210.36 549.06L213.60 547.92L216.73 546.84L219.75 545.79L222.65 544.77L225.44 543.77L228.09 542.78L230.62 541.81L233.02 540.89L235.28 540.01L237.40 539.21L239.37 538.50L241.20 537.90L242.88 537.41L244.41 537.04L245.78 536.80L246.99 536.67L248.05 536.66L248.95 536.73L249.69 536.88L250.26 537.09L250.67 537.35L250.92 537.64L251.00 537.95L250.92 538.28L250.67 538.64L250.26 539.02L249.69 539.44L248.95 539.91L248.05 540.44L246.99 541.03L245.78 541.71L244.41 542.47L242.88 543.31L241.20 544.23L239.37 545.23L237.40 546.30L235.28 547.42L233.02 548.59L230.62 549.80L228.09 551.04L225.44 552.31L222.65 553.61L219.75 554.94L216.73 556.31L213.60 557.74L210.36 559.23L207.02 560.82L203.58 562.51L200.05 564.33L196.44 566.29L192.74 568.41L188.97 570.69L185.13 573.15L181.23 575.79L177.27 578.62L173.26 581.62L169.21 584.80L165.12 588.14L160.99 591.64L156.84 595.27L152.67 599.01L148.49 602.84L144.30 606.74L140.11 610.66L135.93 614.57L131.76 618.44L127.61 622.22L123.48 625.88L119.39 629.38L115.34 632.69L111.33 635.79L107.37 638.65L103.47 641.25L99.63 643.61L95.86 645.72L92.16 647.61L88.55 649.28L85.02 650.77L81.58 652.12L78.24 653.34L75.00 654.48L71.87 655.56L68.85 656.61L65.95 657.63L63.16 658.63L60.51 659.62L57.98 660.59L55.58 661.51L53.32 662.39L51.20 663.19L49.23 663.90L47.40 664.50L45.72 664.99L44.19 665.36L42.82 665.60L41.61 665.73L40.55 665.74L39.65 665.67L38.91 665.52L38.34 665.31L37.93 665.05L37.68 664.76L37.60 664.45L37.68 664.12L37.93 663.76L38.34 663.38L38.91 662.96L39.65 662.49L40.55 661.96L41.61 661.37L42.82 660.69L44.19 659.93L45.72 659.09L47.40 658.17L49.23 657.17L51.20 656.10L53.32 654.98L55.58 653.81L57.98 652.60L60.51 651.36L63.16 650.09L65.95 648.79L68.85 647.46L71.87 646.09L75.00 644.66L78.24 643.17L81.58 641.58L85.02 639.89L88.55 638.07L92.16 636.11L95.86 633.99L99.63 631.71L103.47 629.25L107.37 626.61L111.33 623.78L115.34 620.78L119.39 617.60L123.48 614.26L127.61 610.76L131.76 607.13L135.93 603.39L140.11 599.56Z" fill="none" stroke="#ff0000" stroke-width="1.6" stroke-linejoin="round" stroke-linecap="round" />
<path d="M144.30 597.91L147.11 594.71L149.93 591.51L152.73 588.33L155.52 585.20L158.29 582.15L161.04 579.21L163.76 576.39L166.46 573.72L169.12 571.21L171.74 568.89L174.32 566.75L176.85 564.81L179.33 563.06L181.76 561.49L184.13 560.10L186.44 558.88L188.69 557.79L190.87 556.84L192.97 556.00L195.00 555.26L196.95 554.59L198.82 553.99L200.61 553.44L202.31 552.92L203.92 552.45L205.43 552.00L206.86 551.58L208.19 551.19L209.41 550.83L210.54 550.50L211.57 550.22L212.49 549.98L213.31 549.79L214.02 549.66L214.62 549.57L215.12 549.55L215.50 549.57L215.78 549.65L215.94 549.77L216.00 549.94L215.94 550.15L215.78 550.39L215.50 550.65L215.12 550.95L214.62 551.26L214.02 551.60L213.31 551.96L212.49 552.34L211.57 552.75L210.54 553.19L209.41 553.67L208.19 554.19L206.86 554.77L205.43 555.40L203.92 556.09L202.31 556.86L200.61 557.70L198.82 558.62L196.95 559.62L195.00 560.71L192.97 561.89L190.87 563.16L188.69 564.53L186.44 565.99L184.13 567.56L181.76 569.22L179.33 570.99L176.85 572.87L174.32 574.87L171.74 576.98L169.12 579.21L166.46 581.57L163.76 584.05L161.04 586.66L158.29 589.39L155.52 592.23L152.73 595.18L149.93 598.22L147.11 601.33L144.30 604.49L141.49 607.69L138.67 610.89L135.87 614.07L133.08 617.20L130.31 620.25L127.56 623.19L124.84 626.01L122.14 628.68L119.48 631.19L116.86 633.51L114.28 635.65L111.75 637.59L109.27 639.34L106.84 640.91L104.47 642.30L102.16 643.52L99.91 644.61L97.73 645.56L95.63 646.40L93.60 647.14L91.65 647.81L89.78 648.41L87.99 648.96L86.29 649.48L84.68 649.95L83.17 650.40L81.74 650.82L80.41 651.21L79.19 651.57L78.06 651.90L77.03 652.18L76.11 652.42L75.29 652.61L74.58 652.74L73.98 652.83L73.48 652.85L73.10 652.83L72.82 652.75L72.66 652.63L72.60 652.46L72.66 652.25L72.82 652.01L73.10 651.75L73.48 651.45L73.98 651.14L74.58 650.80L75.29 650.44L76.11 650.06L77.03 649.65L78.06 649.21L79.19 648.73L80.41 648.21L81.74 647.63L83.17 647.00L84.68 646.31L86.29 645.54L87.99 644.70L89.78 643.78L91.65 642.78L93.60 641.69L95.63 640.51L97.73 639.24L99.91 637.87L102.16 636.41L104.47 634.84L106.84 633.18L109.27 631.41L111.75 629.53L114.28 627.53L116.86 625.42L119.48 623.19L122.14 620.83L124.84 618.35L127.56 615.74L130.31 613.01L133.08 610.17L135.87 607.22L138.67 604.18L141.49 601.07Z" fill="none" stroke="#00ff00" stroke-width="1.6" stroke-linejoin="round" stroke-linecap="round" />
<path d="M144.30 599.95L145.71 598.41L147.11 596.87L148.51 595.34L149.90 593.83L151.28 592.34L152.66 590.87L154.02 589.44L155.36 588.03L156.69 586.67L158.00 585.35L159.29 584.08L160.55 582.85L161.79 581.68L163.01 580.56L164.19 579.50L165.34 578.49L166.46 577.55L167.55 576.66L168.60 575.83L169.61 575.07L170.59 574.36L171.52 573.71L172.41 573.12L173.26 572.59L174.07 572.10L174.82 571.67L175.54 571.30L176.20 570.96L176.81 570.68L177.37 570.43L177.89 570.23L178.35 570.06L178.76 569.93L179.11 569.84L179.41 569.77L179.66 569.73L179.85 569.73L179.99 569.74L180.07 569.79L180.10 569.86L180.07 569.95L179.99 570.06L179.85 570.20L179.66 570.36L179.41 570.55L179.11 570.77L178.76 571.01L178.35 571.27L177.89 571.57L177.37 571.90L176.81 572.27L176.20 572.66L175.54 573.10L174.82 573.58L174.07 574.10L173.26 574.66L172.41 575.27L171.52 575.93L170.59 576.63L169.61 577.39L168.60 578.20L167.55 579.06L166.46 579.98L165.34 580.95L164.19 581.98L163.01 583.06L161.79 584.19L160.55 585.37L159.29 586.60L158.00 587.87L156.69 589.19L155.36 590.56L154.02 591.96L152.66 593.39L151.28 594.85L149.90 596.34L148.51 597.85L147.11 599.37L145.71 600.91L144.30 602.45L142.89 603.99L141.49 605.53L140.09 607.06L138.70 608.57L137.32 610.06L135.94 611.53L134.58 612.96L133.24 614.37L131.91 615.73L130.60 617.05L129.31 618.32L128.05 619.55L126.81 620.72L125.59 621.84L124.41 622.90L123.26 623.91L122.14 624.85L121.05 625.74L120.00 626.57L118.99 627.33L118.01 628.04L117.08 628.69L116.19 629.28L115.34 629.81L114.53 630.30L113.78 630.73L113.06 631.10L112.40 631.44L111.79 631.72L111.23 631.97L110.71 632.17L110.25 632.34L109.84 632.47L109.49 632.56L109.19 632.63L108.94 632.67L108.75 632.67L108.61 632.66L108.53 632.61L108.50 632.54L108.53 632.45L108.61 632.34L108.75 632.20L108.94 632.04L109.19 631.85L109.49 631.63L109.84 631.39L110.25 631.13L110.71 630.83L111.23 630.50L111.79 630.13L112.40 629.74L113.06 629.30L113.78 628.82L114.53 628.30L115.34 627.74L116.19 627.13L117.08 626.47L118.01 625.77L118.99 625.01L120.00 624.20L121.05 623.34L122.14 622.42L123.26 621.45L124.41 620.42L125.59 619.34L126.81 618.21L128.05 617.03L129.31 615.80L130.60 614.53L131.91 613.21L133.24 611.84L134.58 610.44L135.94 609.01L137.32 607.55L138.70 606.06L140.09 604.55L141.49 603.03L142.89 601.49Z" fill="none" stroke="#4000ff" stroke-width="1.3" stroke-linejoin="round" stroke-linecap="round" />
<text x="104.5" y="641.5" class="nm" text-anchor="middle">1</text>
<text x="70" y="660.5" class="nm" text-anchor="middle">2</text>
<text x="46.5" y="650.5" class="nm" text-anchor="middle">3</text>
<path d="M38.55 670.60v-1.8M38.55 531.90v1.8M50.30 670.60v-3.0M50.30 531.90v3.0M62.05 670.60v-1.8M62.05 531.90v1.8M73.80 670.60v-1.8M73.80 531.90v1.8M85.55 670.60v-1.8M85.55 531.90v1.8M97.30 670.60v-3.0M97.30 531.90v3.0M109.05 670.60v-1.8M109.05 531.90v1.8M120.80 670.60v-1.8M120.80 531.90v1.8M132.55 670.60v-1.8M132.55 531.90v1.8M144.30 670.60v-3.0M144.30 531.90v3.0M156.05 670.60v-1.8M156.05 531.90v1.8M167.80 670.60v-1.8M167.80 531.90v1.8M179.55 670.60v-1.8M179.55 531.90v1.8M191.30 670.60v-3.0M191.30 531.90v3.0M203.05 670.60v-1.8M203.05 531.90v1.8M214.80 670.60v-1.8M214.80 531.90v1.8M226.55 670.60v-1.8M226.55 531.90v1.8M238.30 670.60v-3.0M238.30 531.90v3.0M250.05 670.60v-1.8M250.05 531.90v1.8M31.20 668.72h1.8M257.40 668.72h-1.8M31.20 664.23h1.8M257.40 664.23h-1.8M31.20 659.73h1.8M257.40 659.73h-1.8M31.20 655.24h3.0M257.40 655.24h-3.0M31.20 650.75h1.8M257.40 650.75h-1.8M31.20 646.25h1.8M257.40 646.25h-1.8M31.20 641.75h1.8M257.40 641.75h-1.8M31.20 637.26h3.0M257.40 637.26h-3.0M31.20 632.76h1.8M257.40 632.76h-1.8M31.20 628.27h1.8M257.40 628.27h-1.8M31.20 623.77h1.8M257.40 623.77h-1.8M31.20 619.28h3.0M257.40 619.28h-3.0M31.20 614.78h1.8M257.40 614.78h-1.8M31.20 610.29h1.8M257.40 610.29h-1.8M31.20 605.79h1.8M257.40 605.79h-1.8M31.20 601.30h3.0M257.40 601.30h-3.0M31.20 596.80h1.8M257.40 596.80h-1.8M31.20 592.31h1.8M257.40 592.31h-1.8M31.20 587.81h1.8M257.40 587.81h-1.8M31.20 583.32h3.0M257.40 583.32h-3.0M31.20 578.82h1.8M257.40 578.82h-1.8M31.20 574.33h1.8M257.40 574.33h-1.8M31.20 569.83h1.8M257.40 569.83h-1.8M31.20 565.34h3.0M257.40 565.34h-3.0M31.20 560.84h1.8M257.40 560.84h-1.8M31.20 556.35h1.8M257.40 556.35h-1.8M31.20 551.85h1.8M257.40 551.85h-1.8M31.20 547.36h3.0M257.40 547.36h-3.0M31.20 542.87h1.8M257.40 542.87h-1.8M31.20 538.37h1.8M257.40 538.37h-1.8M31.20 533.88h1.8M257.40 533.88h-1.8" stroke="#1c1c1c" stroke-width="0.9" fill="none"/>
<path d="M144.30 531.90V670.60" stroke="#1c1c1c" stroke-width="1.1"/>
<path d="M31.20 601.30H257.40" stroke="#1c1c1c" stroke-width="1.1"/>
<rect x="31.20" y="531.90" width="226.20" height="138.70" fill="none" stroke="#1c1c1c" stroke-width="1.2"/>
<text x="49.60" y="685.90" text-anchor="middle" class="tk">−0.4</text>
<text x="96.60" y="685.90" text-anchor="middle" class="tk">−0.2</text>
<text x="144.30" y="685.90" text-anchor="middle" class="tk">0.0</text>
<text x="191.30" y="685.90" text-anchor="middle" class="tk">0.2</text>
<text x="238.30" y="685.90" text-anchor="middle" class="tk">0.4</text>
<text x="28.80" y="660.54" text-anchor="end" class="tk">−60</text>
<text x="28.80" y="642.56" text-anchor="end" class="tk">−40</text>
<text x="28.80" y="624.58" text-anchor="end" class="tk">−20</text>
<text x="28.80" y="606.60" text-anchor="end" class="tk">0</text>
<text x="28.80" y="588.62" text-anchor="end" class="tk">20</text>
<text x="28.80" y="570.64" text-anchor="end" class="tk">40</text>
<text x="28.80" y="552.66" text-anchor="end" class="tk">60</text>
</g>
<g id="pe">
<clipPath id="clipe"><rect x="292.50" y="26.70" width="233.20" height="143.90"/></clipPath>
<text x="310.40" y="163.30" class="ui">U</text><text x="320.00" y="156.00" class="usup">(l)</text><text x="320.60" y="166.60" class="usub">0</text><path d="M338.10 151.40L332.50 166.00" stroke="#000" stroke-width="1"/><text x="338.70" y="163.30" class="ui">k</text><text x="346.00" y="165.30" class="usubi">B</text><text x="352.00" y="163.30" class="ui">T</text><text x="364.70" y="163.30" class="un">=</text><text x="375.50" y="163.30" class="un">33</text>
<g clip-path="url(#clipe)">
<path d="M300.5 40.6l4.3 1.5 3.7 4.1 3.6 4.6 3.5-5 4.1 8.4 3.8 2.6 3.7 2.4 4.3-3.6 3.3 1.5 3.6 3.7 4.3-.3 3.9 5.4 3.4 1.9 3.9 3.4 4.2-3.6 3.9 11.8 3.2 1.4 4.2-1.8 4 7.6 3.1-1.2 4.3 1.7 3.6 6.6 4.1 8.1 3.2 7.8 3.9 7.8 4.3 4.5 3.8 2.3 3.7 3.2 3.4-1 4.2-2.3 3.5-2.3 3.9-9.1 3.7-5.6 3.7-8.6 4.2-7.5 4-4.8 3.5-5.5 4.1-5.5 3.7-4.3 3.6-6.8 4.1-2.3 3.7-4.6 3.9-2.3 3.3 1.1 4-4.3 3.6-5 4.3-2 3.9 4.5 3.7-1.8 3.8-4.2 3.3-3.7 4-3.5 3.7-2.2 4-2.7 3.5 2.6 3.9 4.3 3.6-1.3M517.7 43.2l-4.1-4 -3.6-5.3 -3.8 4.2 -3.8 5.1 -3.8 6.4 -3.9 4.2 -4 0 -3.7-1.1 -3.3 1.6 -3.8 1.5 -4.3 4.2 -3.9-7.7 -3.9 7 -3.5 .9 -3.5 4 -4.1 1 -3.5 1 -4.3 5.2 -3.9 9.3 -3.6-2.6 -3.3 4 -4.6 2.2 -3.5 8.6 -3.4 11.7 -4.2 10.3 -3.8 5.4 -3.4 7.9 -4.2 3.6 -3.4 1.1 -4.3-2.9 -3.8-5.3 -3.8-3.9 -3.4-5.4 -4.2-3.4 -4-6.1 -3.4 3.1 -3.7-7.4 -3.9-5.9 -3.8-5.3 -3.7-5.9 -3.7-10.2 -3.9-6 -3.8 .9 -3.7-7.2 -4.4 4.4 -3.1-2.1 -4-3.7 -4 1.5 -4.1 3.5 -3.6 .3 -3.9 2.9 -3.9-5.7 -3.8 3.5 -3.5-6.7 -3.6-3.4 -3.9 4 -4.3-2.6M300.4 55.2l3.8-.4 3.8 1.3 3.9-.6 3.8 4.3 4.2 8.5 3.5 3.8 4.3 4.1 3.7 .1 3.4 .6 4.3 3.6 3.7-.7 3.9 .5 3.4-1.3 3.8 7.4 4 3.6 3.7 5.2 3.8 1 3.5-8.9 4.4 3 3.2 9.3 4.3 .1 3.7 4.4 3.5 6.6 4.4 4.4 3.3 8 4 3.5 4.1 2.7 3.6 4 4-.2 3.2-3.8 4.1-.9 4.2-8 3.6-12.8 3.5-5.8 3.8-2.1 3.7-4.3 4-1.4 3.6-4.9 3.9-6.4 4-1.2 3.8-1.5 3.4-.9 4-4.8 4.2 2.1 3.3-1.7 4.1-10 3.7-.7 3.9-2.6 3.9 .7 3.8 2.6 3.3 .7 4.3-.8 3.6-1.6 3.7-2.3 4.1-3.5 3.6-5.6 3.8-.5M517.8 54.4l-3.9 1.6 -4.3 4.8 -3.5 1.1 -3.5 1.5 -4.3 .3 -3.7-2.8 -3.9 1.1 -3.3 2.9 -3.7-2.3 -4.3 5.8 -3.4 .2 -4.1 4 -3.5-4.5 -4.1 .9 -3.5 1.6 -4.2 2.2 -3.8 5.5 -4 3.2 -3.6 1.5 -3.6 2.5 -4.2 4.5 -3.7 8.9 -3.9 10.4 -3.5-2.7 -3.4 12.2 -3.9 5.2 -4.1 1 -4.2 4.6 -3.2 1 -4-1.1 -3.9-3.7 -4.1-3.2 -3.2-8.3 -4-9 -3.7-5 -4.3-4.4 -3.5-2.1 -3.6-1.1 -4.3-5.4 -3.3-.1 -4-4.1 -3.9 5.2 -3.9-6.8 -3.6-3.2 -3.7 3.4 -4.1-1.2 -3.6-.7 -3.8 .1 -3.6-1.5 -4.2-3 -3.3-.5 -4.5-2.2 -3.7-2.1 -3.3-5.1 -4.4 .8 -3.6-3.2 -4-1.7M300.6 52.1l3.7 1.1 4.3 7.8 3.3-.5 3.7-.4 4 6.3 3.9-3.6 3.9 3 3.7 6.9 3.7 4.2 4.4 3 3.3 1.2 4-.5 3.9 7.7 4-6.3 3.4 1.2 4.2 6.1 3.7-1.9 3.5 4.2 4 1.8 3.3-.7 4.2 8.4 3.6 4.3 4 9.2 4 7.5 3.9 4 3.5 3.3 3.8 3.4 4.1 1.7 3.1 .1 4.4-.6 3.8-5.6 3.5-3.6 4.3-12 3.1-9.4 4.3-9.4 3.7-2.6 3.4-4.7 4.2-2.6 3.8-3.8 3.8-1.2 3.5 2.9 4-2.2 4.2-2.7 3.8 1.5 3.4-1.7 3.8-1.6 3.7-2.5 4.3-6.2 3.4 3.5 4-1 3.8-4 3.7 .7 3.7-2.3 3.9-4 3.8 1 3.9 .1 3.5-1.1M517.9 38.3l-4.1-1.7 -3.4 3.8 -4.1 .9 -4.2-2.7 -3.3 4.2 -4.4-2.8 -3.8 2.8 -3.7 8.4 -3.3 7.5 -4.4-4.2 -3.7 2.3 -3.2 1.7 -3.9-1.7 -4.2 .7 -3.3-.8 -4 6.8 -3.6 .4 -4.4 7.8 -3.9 1.6 -3.4 4.6 -4.2 2.9 -3.3 9.8 -4 7.4 -4 12.1 -3.6 8.2 -3.9 5.4 -3.8 4.5 -3.4 1.7 -4.1-.7 -4.2-.4 -3.4-4.2 -4.1-6.1 -3.4-6.5 -4.3-5.2 -3.1-6.4 -3.8-1.4 -4-5.8 -4.3-6.5 -3.3-1.1 -4-2.1 -3.4-1.5 -4 1.4 -3.8-10.7 -4-6.1 -3.9 1.7 -3.5-4.2 -4.1-8.4 -4-.8 -3.7 3 -4-3.9 -3.1-4.9 -4.4 5.5 -3.7-1.6 -3.7-1.9 -3.9 1.4 -3.5 1.7 -3.9 1.1M301.1 49.7l3.7 .7 3.5 1.6 4.2 4.7 3.6 7.4 3.9 .5 3.3 1.5 4.1 7.3 4.1 4.1 3.6-1.5 3.7 4.4 3.4 .7 4.1 3 4.2-4.6 3.6 8 3.5 .1 4.4 .6 3.1-2.7 4.5 12.6 3.4-.4 3.6 5.9 4.2 9.2 3.7-.5 4 2.8 3.4 5 4 4.4 3.7 6.4 3.5 4.7 4.1 .9 3.9-2.3 3.5-3.9 3.7-1 4.5-8.3 3.2-5.9 3.9-13 4.1-5.3 3.9 .2 3.9-5.8 3.4-6.2 3.8 2.3 4-4.4 3.9-1.6 3.5-5.9 3.8 .7 3.9 .7 4-6.5 3.6-2 4.1-.9 3.8-3.7 3.9-3.8 3.1 .2 4.2-.6 4.1-.4 3.2-4.8 4.3 .8 3.9-.2 3.3 1.2 4.4-4.8M517.8 40.5l-4.2-.4 -3.8 2.3 -3.3-4 -3.7 4.1 -4.3-2.5 -3.7 5.8 -3.8 .5 -3.7 2.5 -3.6 5 -4.2 4.9 -4 7.1 -3.6-.3 -4 7.1 -3.2-2.8 -4.5-1.4 -3.2 3.1 -3.8 7 -4.2 5.3 -3.4 3.6 -4.1 3.3 -3.5 3.1 -3.8 12.1 -4 5 -3.6 8.1 -4.1 7.5 -4.1 5.4 -3.3-.3 -4 4.1 -3.7-2.3 -3.7 0 -4.3-2.9 -3.7-6.4 -3.5-6.5 -4.2-6.2 -3.8-.9 -3.4-.7 -4-1.6 -3.4-5.5 -4.4-2 -3.8-.3 -3.8-4.3 -3.2-11 -4.3 .2 -3.4-10.2 -4.3 3.8 -3.5 1.6 -3.6-1.3 -4.3-6.4 -3.4 .3 -4.2-4.5 -3.4-3.8 -3.8 2.1 -4.2-9.1 -3.3-5 -4.1 1.5 -4.1-.1 -3.2-4.5M300.6 52.5l4.2-.8 3.2 8.2 3.9 1.6 4.2 4.7 3.5 1.2 3.7-1.7 4.5 3.2 3.6-1 3.6-2.6 3.7 3.7 3.7 2.9 3.6 .8 4.4-8.7 3.4 3.3 4.1 2.3 3.7 .5 3.9 7.9 3.7 5.3 4-2.7 4 6.2 3.7 8 3.6 7.5 3.5 3.6 4.4 8.4 3.2 7.3 4.3 5.1 3.7 1.3 3.8 2.5 3.3 .7 4-1.8 3.7 .5 4.3-6.8 3.8-2.3 3.3-11.8 4-8.9 4.1-5.2 3.9-3.1 3.1-3.7 4.3-2.2 3.6-1.2 3.9-3.3 3.8-1.8 4.1-3.6 3.6-4.9 3.7-.2 3.7 .7 3.8-2 4.3-4.5 3.6-.3 4 1.2 3.7-1.7 3.5-4.4 4.1-8 3.3-6.2 4-1.2 4-5.8 4.1 3.5M517.9 46.6l-4.1 4.8 -3.5-6.6 -4.4 3.8 -3.7 7.8 -4-1.9 -3.7 5.8 -3.6 2.6 -3.4-3.9 -4.2-1.7 -3.7 .3 -4 2.6 -3.7-.9 -3.9 3.7 -3.4 3 -3.8 3.9 -4.3 5 -3.5 2.8 -3.9 3.4 -3.8 7.6 -3.5 2.1 -4.2 5.7 -3.9 11.7 -3.9 7.6 -3.8 4.5 -3.2 10.5 -4.2 1.9 -4 3.9 -3.7 .3 -3.4-.5 -4-.4 -4.2-6.1 -3.4-1.9 -4-8.4 -3.4-7.2 -4.1-7.6 -3.6-6.3 -4.2-9.4 -3.5-8 -4-5.9 -3.8-2.2 -3.3-.6 -4.2-3.8 -3.7 8.4 -3.8-6.8 -4 2.2 -4.1-6.7 -3.4 3 -4-.6 -3.4 .2 -4-1.2 -3.7 1 -3.9-2.7 -4-10.9 -4 2.8 -3.1-.1 -3.8 .5 -4.5-2.7M300.6 57.2l4.3-.7 3.7-2.4 3.7 2.8 3.8-1 3.6-1.3 4.1 10.2 3.7-1.1 3.7-.7 3.8 2.3 3.8-5.3 3.9 4.9 3.5 1.8 4 1.1 3.8-8 3.6 6.1 4.1 4.3 3.7-.8 3.9 12.4 3.5 5.7 4 2.3 3.6 3.2 4.1 3.2 3.7 5.8 3.5 7.5 4.1 6.3 3.7 6.4 3.9 4.2 3.9 3.2 4.1-.1 3.3-6.1 3.7-4.7 4.1-3.9 4-15.6 3.3-6.4 4.3-4.6 3.4-7.4 4.2-3.5 3.6-3.1 3.7-2.6 4.2-2.2 3.7-6.4 3.7-6.8 3.9-2 3.9-1.8 3.2 .3 4.1-2.9 4.1 3.4 3.6 3.2 3.6-2.5 3.8-.1 4-4.1 4.1-2.1 3.8 .8 3.2-3.1 4.4-5.6 3.6 2.1 3.4-3.5M517.5 43.7l-3.7-2.9 -3.7 2.1 -3.6 .3 -3.9 4.8 -3.8 2.9 -4.3 0 -3.2-1.2 -4-4.7 -4.3 4.4 -3.6 12.7 -3.6 2.9 -4 .7 -3.4-1.3 -3.7-2.7 -4.3 6.1 -3.7 1.2 -4.1-2.2 -3.3 1.4 -4.1 7.9 -3.5-.9 -4.3 5.1 -3.8 7.6 -3.6 9.6 -3.3 6.4 -4 11 -3.8 10.7 -3.8 2 -4.1 3.8 -3.4 1.1 -4.1-2.7 -3.5-5.2 -4.3-5.2 -3.6-6.7 -3.9-5.1 -3.4-6.4 -4.2-7.6 -3.4-.8 -4.3-7.6 -3.9-9.6 -3.2-7.8 -3.9-8.9 -4.1-1.8 -3.5-4.7 -3.9 5.4 -4-5.1 -4 1.9 -4 4.1 -3.2-1.9 -3.9-4.1 -3.6-1.2 -3.9 3.3 -4.2 2.9 -3.5-6.6 -4.1 .2 -3.8-5.2 -3.6-3.2 -3.7 1.1M300.6 49.6l3.9-2 4.2 1.6 3.7-2 3.2 6.1 4.2 6.9 4.1 4.5 3.1 .5 3.8 3 4.5 4.8 3.3 2.4 4.3 .4 3.6 2.5 3.8 8.9 4 2.3 3.1-.5 4.4 2 3.2 1.3 4.3 4.2 3.6 0 3.8 4 3.9 4.5 3.7 5 3.9 2.2 3.8 6.9 3.5 3.9 4.2 4 3.6 5.1 4 2.8 3.7 .9 4-1.4 3.4-6.2 3.8-4.7 4.3-7.4 4-8.3 3.3-15.2 3.6-10 4.2-5.4 3.7-2.8 3.6 1.9 3.8-5.4 4.2-4.6 3.3-1.6 4.4 1.6 3.7 1.1 3.5-4 4.1 7.8 3.6-7.9 4.1-8.7 3.2 .8 4.4-3.3 3.9-6.7 3.5 .5 3.8 .3 3.6 .2 3.7-6.6 3.9 5 4.3-3.9M517.2 42.6l-3.8 5.1 -3.5 .1 -3.5-2.5 -3.7 12.3 -4 1.8 -4.3 .4 -3.6 6.8 -3.6 5.3 -3.6-3.7 -4.2-1.4 -3.4 3.3 -4.3-2 -3.2-.1 -4.1 6.8 -3.6 1.7 -4 5.1 -3.5 4 -3.8-1.2 -4.1 3.7 -3.6 4.4 -4 1.4 -3.6 5.9 -4.3 10.5 -3.4 9.8 -4.1 4.1 -3.4 3.7 -3.9 2.7 -3.8 2.7 -3.9-.1 -4.1-3.2 -3.3-3.6 -3.8-.8 -4.4-8.6 -3.3-8.7 -4.4-8.9 -3.8-4 -3.6-5.4 -4.1 7.4 -3.4-2.5 -3.4-3.2 -4-3 -3.9 4.6 -3.8-6.5 -4.3 .8 -3.5-3.3 -3.6-1.1 -3.8-2.5 -3.8-5 -4.1-4.9 -3.3-1.9 -4.2-4.1 -3.5-1.3 -4.1 4.4 -3.5-2.7 -3.8-7.9 -3.9 .7 -3.8 2.9M301 53.1l3.3 2.4 4.3 .5 3.3 4 4-.4 3.7 2.7 4.1 1.7 4 2 3.5 3 4 .8 3.7-3.6 3.7-2.3 3.4-3.2 4.2-4 3.7 12.3 3.8 7.8 4.1 2.4 3.7-9.9 3.3 8.4 3.9-3.1 4.1 6 3.8 11.8 4 10.8 3.5 4.1 4.1 4.1 3.7 10.2 3.7 5 3.5 5.6 4 1.7 3.6-1 4.2 .3 3.6-9.2 3.9-1.3 3.9-5.9 3.7-5.9 4-7.8 3.8-7.5 3.8-7.1 3.3-8.1 4.1-2.4 4.1-3 3.6-6.2 3.5 3.1 4.2-3.9 4-5.8 3.4-3.6 4.2-3.2 3.4 0 4.3-10 3.7-.8 3.7-1.1 3.5-1.6 3.7-1.7 3.7 3.1 3.9-1.2 4.2 6.5 3.7-2.7 4.2-3.6M517.7 50.1l-3.7-.6 -4.3-4.3 -3.8 3.7 -3.6-6.6 -3.8 4.8 -3.8 .8 -3.6-.1 -3.8 1.2 -3.7 3.4 -4.2 3.2 -3.3 6.1 -3.8 3.8 -4 4.4 -4 .1 -3.7-.8 -3.9 .7 -3.7 2.4 -3.7 4.1 -3.7 3.8 -3.7 4.2 -4.6 4.9 -3 12.6 -4.2 2.1 -3.9 9.3 -3.8 5.6 -3.5 5.5 -3.8 8.7 -3.9 1.3 -3.9-1.5 -3.6-4 -4.4-3.4 -3.4-5.6 -3.9-2.7 -3.4-8.2 -4.3-5.5 -3.6 3.4 -4-5 -3.5-7.2 -4-5.7 -4.1-2.8 -3.2-5.8 -3.7 .3 -3.9-4.7 -3.7-.2 -4.4 1.3 -3.2-7.4 -4.3 .3 -3.8-6.8 -3.4 5.4 -3.8 .1 -3.9 .3 -3.7-.9 -3.8-2.6 -4.4 .3 -3.9-1.3 -3.2-4.1 -4.2-2.3M301.1 43.4l3.7-2.2 3.7 .7 4.1 3.2 3.1 2 3.8 2.1 4.5 3.2 3.1 6.7 3.9-1.9 4.2 3.2 3.6-2 4 5 3.3-.6 4-5.9 4.3-1.3 3.8 5.2 3.7 1.8 3.2 1.1 4.1 10.1 4.1 2 3.2 8.8 3.9 11.3 4.2 6.4 3.8 1.8 3.5 5.2 4.2 8.5 3.8 3.8 3.3 2.5 4 3.4 4.1-.1 3.8-.7 3.4-3.7 4-10 3.8-6.8 3.8-9.1 4-10.3 3.6-.2 3.7-9 4-3.9 4.1-5.5 3-3.2 4-1.5 3.9 1.6 3.8-3.9 4.1-4 4 3.4 3.3-3.7 3.6-4.4 4.3-2.7 3.9 .9 3.6-4.7 3.7-3.7 3.8-6.3 4.1-.7 3.2-3.2 3.9 6.2 4.4-6 3.4-1.3M517.9 52.8l-4.3-1.9 -3.9-1.3 -3.5 3.6 -3.9 2.4 -3.5 2.3 -4.2-7.9 -3.9 5.4 -3.5-3.2 -3.6 10.1 -3.7-1.8 -3.9 5.6 -4.2-4.2 -4-2.3 -3.4 7.8 -4.3 1.5 -3.6 2.7 -3.8 .9 -3.6 3.7 -4-1.5 -3.4 5.1 -3.6 .1 -4 1.8 -4.3 6.8 -3.2 8.1 -4.2 9.6 -3.7 11.3 -3.7 9.2 -4.2 3.2 -3.5 .1 -4-2.1 -4 1 -3.3-4.8 -3.7-4.7 -3.7-7.9 -3.8-1.9 -4.2-1.7 -4-7 -3.9-4.8 -3.3 0 -4.3 .7 -3.4-2.2 -4.1-6.1 -3.7-3.7 -3.4-1.7 -3.8-.5 -4.2 .5 -3.9-5.5 -3.4 0 -3.8 .2 -4.2-2.1 -3.6-2.5 -3.6 .7 -4.1-6.7 -3.8-4.1 -3.9-5.3 -3.4 .9 -4.3-2M301 47.6l3.8 4 4 3.7 3.2 7 3.9 .7 3.6 .3 4.5-3 3.4 1.1 3.5 .3 4.1 2.7 3.6-11.3 4.4-3.9 3 0 4.4 2.8 3.6 1.8 3.8 2.2 3.8 1.4 3.5 .3 4.3 5.6 3.4 7.5 4 7.1 3.9 7.5 3.4 7.2 4.1 6.6 3.5 9.4 4 6.9 4.3 6.9 3.2 1.7 3.8 2.8 3.8 .1 4.2-1.9 3.8-4.9 3.5-10.2 4.3-9.9 3.3-11.3 4.1-3.3 4.1-5.3 3.6-4.7 3.2-2 3.9-3 3.8-6.2 4.2-2.8 3.9-1 4-5.8 3.6 1.2 3.4-3.3 3.8 1.9 4.3-4.5 3.5-3.4 3.8-3.1 4.1-3.5 3.7-3 3.9-2 3.3 .7 4.2-3.8 3.6 .9 4 2.4 3.8-4.7M517.9 49.1l-4.5-6.4 -3.3-.7 -4 4.9 -3.8-1.5 -3.7 5.4 -3.9 4.4 -3.4 7.7 -4.5 2.9 -3.3-6.1 -3.7 1.5 -4.3 3.8 -3.2 3.7 -4 3.4 -3.9-1 -3.6 1.6 -4.2 .4 -3.9 3.6 -3.7 4.4 -3.6 2.7 -4 5.2 -3.7 9.7 -4-2.1 -3.8 4.2 -3.4 5.1 -3.9 6.1 -3.9 10.9 -3.5 5.7 -3.9 2.2 -3.7-.8 -4.3 .4 -3.8-3.9 -4-7.6 -3.5-4.6 -3.6-2.2 -3.7-7 -3.7-5.2 -4.2-4.5 -3.6-13.4 -4.3-4.8 -3.7-1.8 -3.8-7.6 -3.2 .9 -4.2-1.4 -3.6 .3 -4.1 .3 -3.9 2.3 -3.7 5.7 -3.7-6.2 -4-.5 -3.9 1.2 -3.1-5.9 -4 .3 -4.1-4.6 -4-4.6 -3.4-2.5 -4 .1 -3.8 .9M300.5 51.2l3.9 1.4 4-5.7 3.6 4.9 3.9 3 4.1 5.6 3.3 3.5 4.3 6.1 3.5-5 3.9 2 3.8-.6 3.9 3.2 3.3 2.6 3.9 3.7 4-7.2 4.3 3.5 3.4 9.5 3.8-.1 4 2.3 3.3 3 3.9 5.2 3.7 7 4.5 4.3 3.2 5.5 3.7 6.2 4.2 5.2 4 6 3.2 1.9 4.5 1.4 3.2-.5 4.2-4.1 3.8-1.5 3.9-3.6 3.6-7.9 3.5-10.6 3.9-4.8 4-6.1 4.1-4.7 3.3-2.9 3.9-7.2 3.8-1.6 4.2-2.2 3.4-6.7 3.6-5 4.3-4.4 3.6-.6 3.9 3.7 3.5 3.3 4.4-1 3.5-1.3 3.7-8.6 4.3-7.3 3.3-1.5 3.9 1.8 3.8-1.2 4 .8 3.2 1.9 4.5-1.5M517.4 45.6l-3.7-2.1 -3.9 1.1 -3.3-6 -4.2-1.4 -4 5.7 -3.8-3.3 -3.3 4.8 -4.3 3.8 -3.8-2.9 -3.6 6.8 -3.7 7 -4.2 2.3 -3.2 .2 -4.4 .3 -3.7 6.9 -3.8 2.4 -3.3 3.6 -4.1 1.7 -3.6 3.5 -3.9 1.2 -4 2.2 -3.3 5.2 -4.1 4.4 -4.3 11.8 -3.5 14.5 -3.7 4.9 -3.7 3.4 -3.9 5 -4 .5 -3.5-4.2 -4.1-5 -3.8-2.9 -3.4-5.9 -3.9-3.4 -4.2-12 -3.9-1.7 -3.7-1.8 -3.2-6 -4-3.9 -4.2-15.1 -3.9-13.2 -3.1 3.1 -4.2-2.1 -4-1.8 -3.2 4.3 -4.2-3.6 -3.5 4.7 -4.4-4.1 -3.9 5.1 -3.7-.1 -3.9-3.5 -3.5-.6 -3.3-.6 -4.3-5.8 -3.9-2.7 -3.4-2.7 -4.1 3.3M300.9 48.7l3.9-1.5 3.3 2.6 4 3.4 4.2-.1 3.7-.8 3.9 1.4 3.7 3.7 3.7 1.7 4-1.5 3.3 4.8 4 1.6 3.7-7.2 3.8-.6 3.7-4 4.4 5.6 3.5 3 3.9 4.9 3.5-.3 3.8 3.6 4.1 14.4 3.6 9.8 4.1 4.1 3.8 9.6 3.2 3.8 3.9 9.4 3.8 3.7 4.1 4.6 3.4 1.7 4.2 2.2 3.8-2.7 3.5-4.5 4.1-4.7 3.8-7 3.6-14 3.9-2.3 3.6-2.7 3.7-6.5 4 1 3.7-4.3 4.3 1.5 3.5-3.8 3.9-1.7 3.6-3.5 4.1 .4 4.1 .2 3.1-5.1 4.5-2.5 3.6-3.5 3.6-1.6 3.6-1.5 4.3 .9 3.9-7.5 3.7-4 3.2-3.4 4.1-6.6 3.8-1.6 4 1M517.5 49.6l-3.7 .8 -4.1 1.8 -3.4 2.2 -3.9-1.1 -3.6 .7 -3.9 2.7 -3.6 5.3 -4.2-5 -3.6 1.8 -4.2 3.6 -3.9 1.2 -3.5 2.6 -3.6-1 -4.1 5 -3.3-1.5 -3.8 2.8 -4.5 7.7 -3.5 1.7 -3.6 5.9 -3.8 2 -3.6 1.9 -3.8 11.2 -3.8 9.5 -3.9 10.5 -4.3 8 -3.3 5.3 -4.1 1.4 -4.2-1.1 -3.6-.6 -3.8-3.6 -3.2-4.2 -4.1-2.7 -3.7-5.7 -4.4-7.8 -3.6-5.6 -3.4-4.2 -3.7-7.3 -3.8-12.8 -3.9-5 -3.8-.6 -4.3 2.9 -4-5.9 -3.6-2.9 -3.6 3.1 -3.7-6 -4.1-5.7 -3.3 2.4 -4.3 1.9 -3.6 .5 -3.7 3.1 -3.7-5.2 -3.7-1.8 -3.8-8.3 -4.2-3 -4.1 1.7 -3.4-5.5 -3.8 .6M300.6 44.6l4.2 .4 3.4-4.7 3.8 2.2 3.7 4.1 4.1 4.8 3.6 5.3 3.8-4 4.3 2.6 3.2 1.4 4 .5 4.3 4.2 3 7.6 4.4 .5 3.5 2.7 3.6 6 3.9 3.2 3.7 14.6 4.3 5.2 3.3-2.6 4.4 4.3 3.4-.2 3.6 3.8 4.2 7 3.6 6.5 4.4 6.8 3 4.9 4.2 4 4-.8 3.3-1.2 4.1-6.1 3.7-3.5 4.1-2.1 3.9-10.1 3.3-11 4-.3 3.5-7.6 4.4-9.6 3.5-5 4-3 3.8-4.7 3.4-4.9 4.4 .2 3.8 3.9 3.5-3 4-7.5 3.9-2.3 3.4-3.3 3.8 4 3.9-1.6 3.8-3.9 3.5-2.4 4.3 2.5 3.2-3.9 4-.3 4.3 2.1 3.8-3.6 3.7-.3M517.7 49.1l-4 2.5 -4-.5 -3.9 3.8 -3.8 4.9 -3.5 .7 -4.1-.1 -3.3-3.3 -4 .6 -4 3 -3.8-2 -3.6-.7 -3.5 4.8 -3.9 13.4 -4.1 3.1 -3.8-1.5 -3.9-2.2 -3.3 1.7 -4.3 5.1 -3.8 2.4 -3.9-.2 -3.4 4.9 -3.9 4.3 -3.9 5.6 -3.9 10.7 -3.7 8.4 -3.6 5.1 -4.1 3.4 -3.5 2.9 -4.2-.1 -3.6-1.3 -4-1.4 -3.6-1 -3.9-9.4 -3.7-6.5 -4 .5 -3.4-3 -3.7-1.1 -4.1-4.9 -3.9-9.4 -4.1-3.3 -3.2 .4 -4.3 1.6 -3.2-2.1 -4.4-1.3 -3.8-3.4 -3.8-2.8 -3.5-2.2 -3.9 .7 -4-5.9 -3.3 2.2 -4-9.1 -4.1 .8 -3.2 1.7 -4.5-.8 -3.1-6.5 -4.1 2.4 -3.7-5.4M300.7 43.7l3.6 6.2 4 4.3 3.9 1.2 4 4.2 3.5 2.4 3.6-2.8 4.2 2.3 4-.8 3.2 .2 3.8 3.8 4.4-9.2 3.5 6.5 4.2-2.3 3.6-.2 3.4 3.9 4.1-7 3.9 1.1 3.5 5.1 4.3 6.4 3.7 7.1 3.6 10.3 3.5 6.1 3.7 6.9 3.9 9.4 4.2 5.9 4 7.2 3.3 3.9 4.1 2.4 3.8-.7 3.8-3.9 3.7-6.7 4-7.9 3.7-7.4 4-12.4 3.2-3.2 4.3-1.6 3.9-3.3 3.2-1.2 4.2-5.9 3.8-5.1 3.5-4.4 4.3-2.2 3.9-6.1 3.4 1.1 3.9-1.1 3.4-4.3 4.4 5.2 3.8-3.1 3.2-11.4 4-1.9 3.7-.2 3.7-1 4.3 1.5 4-3.6 3.5-3.2 3.7 6.9 3.7 2.4M517.7 49.7l-3.8-5.3 -3.7 3.2 -4 .1 -4-8.1 -3.3 8.4 -4.5-5.8 -3.4 3.5 -3.6 .4 -4 1.4 -3.6 9.7 -4.1 1.3 -3.5-1 -4.4 4.8 -3.2 1.4 -3.9-1.4 -3.8-1.2 -4.1 5.9 -4 6.3 -3.6-1.3 -3.7 3.7 -4.1 1.5 -3.9 4.1 -3.7 8.5 -3.9 10 -3.5 12.2 -3.3 9.7 -4.4 3.5 -3.2 2.4 -4-.2 -4-3.8 -3.6-3.1 -4.4-3.4 -3.8-5 -3.5-8.1 -3.8-8.1 -3.6-9.2 -3.7-6.4 -4.5-10 -3.7-2.3 -3.1-6.4 -4.5-.3 -3.8-1.6 -3.5 2.6 -3.9-6.8 -3.9-1.4 -3.6 2.3 -3.9 1 -3.6-.1 -3.7-5.1 -4.3-2 -3.5-2 -3.8 1.2 -4.2 1.8 -3.4-6.9 -3.5-6.2 -4.1 3.7 -4 2.1M300.7 48.8l3.8-.1 4.1 3.1 3.7 .8 4 1.6 3.7 .5 3.6 1.3 3.9-3.6 3.8 2.5 3.7-2 3.5-2.8 4.2 3.6 3.9 .8 3.6-2.6 4 3.2 3.9-1.7 3.2 10.1 4.4 11.3 3.8 11.1 3.2 3.5 3.7 5.5 3.9 5.1 3.9 7.4 4.4 7.5 3.3 7.2 4.1 6 4 4.7 3.6 2.9 3.6 2 3.6-.4 4.2-1.1 3.7-5.2 3.7-5.3 4-13 3.8-7.4 3.6-9.2 3.8-8.6 3.8-8.2 3.8-2.2 4.1-.9 3.7-2.7 3.9-.9 3.5-4 4.1-4.6 3.5 2.4 4.1 .3 3.5 0 3.8-.8 3.8-1.3 4.4-8.8 3.4-1.9 3.5-3.1 3.7 .4 4.4 3.9 3.7 .5 3.4-1.9 4.2-3.7 3.5-.2M517.6 37.2l-3.5 4.1 -4.1 3.3 -4 12.1 -3.3 3.5 -4.5 6.3 -3.8-3.6 -3.5 1.8 -4.1-5.8 -3.6-.8 -3.9-3 -3.3 1.7 -3.7-1.1 -3.8 2.9 -4.2 8.4 -4.1 5.6 -3.6 3.6 -3.5 2.4 -3.9 7.2 -4.1 4.7 -3.7 5.3 -3.4 3.7 -4 7.9 -3.9 2.8 -3.7 11.9 -4.2 9.3 -3.7 3.3 -3.2-1.6 -4.1 1.6 -4.1-.9 -3.3-3.3 -4.1-2.1 -4-5 -4-3.8 -3.3-7.6 -4.3-7.3 -3.8 3 -3.3-2.7 -4.1-5.8 -3.9-1.2 -3.4-3.1 -4-7.9 -3.5 5.8 -4.2-2.5 -4-2.2 -3.1-.2 -4.5-9.8 -3.5-1.7 -3.5-1.5 -4.5-1.8 -3.4 1.1 -4-2.4 -3.6-.7 -3.6-7.1 -4.1 .7 -3.8-3.7 -3.8 1.6 -3.6-4.9M300.7 53l3.9-1.3 4-2.8 3.5-.5 3.7-4 4.1 5.4 3.9-1.4 3.6 4.5 4.1-.5 3.2 2.3 3.8 5.2 3.9 3 3.6 .6 4.4 2.8 3.5 0 3.7 2.6 4.4 1.3 3.8-9 3.2 15.6 4.1 3.9 3.9 13.2 3.9 4.8 3.5 1.3 3.7 7.2 4.3 9.5 3.8 3.9 3.4 6.6 4.2 3.7 3.8 2.6 3.5 .8 3.8-4.1 3.7-3.7 3.7-10.5 4-6.3 3.5-7 3.8-4.8 4.4-13.2 3.5-9.4 3.9-4.7 3.7-3.3 3.8-4.1 3.5-2.8 3.8-3.2 4.5-2.2 3.4-1.5 3.9-3.9 3.9-2.2 3.6-3 3.9-4.7 4-.1 3.4 2.3 4.1 8 4.1-3.3 3.7-.8 3.3-2.1 4.1-1.2 3.4 6.3 3.7-.1M517.8 43.4l-4.4 2.5 -3.6 7.1 -3.4 7.1 -4.1 2.4 -3.6-1.7 -4 4.7 -3.7 .6 -3.7 3.9 -3.9-.6 -4 .9 -3.6 .4 -3.6-2.8 -4.2 5 -3.5 4 -4.2 .4 -3.5 1 -4 3.6 -3.8 3.1 -3.7 1.1 -3.8 4.4 -3.9 5.3 -3.6 7.3 -3.6 6.1 -3.8 3.7 -4 12.6 -3.9 5.9 -3.9 5.2 -3.4 1 -4.3 0 -3.9-1.2 -3.9-4.4 -3.8-3.7 -3.1-5.5 -3.9-6 -4.3-4.5 -3.9-1.1 -3.1-3 -4.2-1.3 -3.7-11.4 -3.6-.7 -4-10.3 -4.2 2.3 -3.5-8.2 -4.2-6.5 -3.3 1.8 -3.6-2.8 -4 .2 -3.9 2.6 -4.1-.3 -3.2-4 -4.1 1.8 -4-5.7 -3.6-5.1 -3.8-.6 -3.5-2.3 -4.5 .6 -3.8 1.8M300.8 52.2l3.4 2.3 4.4 0 3.6-.3 3.6-1.9 3.9 3.1 4.2-3.3 3.3 7 3.9-5.1 4.2-3.5 3.5 1.9 4.1-3 3.9 5 3.8 12.5 3.3-2.2 3.8 10.7 4.2 4.6 3.9-.7 3.7 9.2 3.4 5.6 4.3 9.8 3.5 .6 3.9 1.6 3.3 3.2 4 6.1 3.9 5.9 3.9 4.5 4.1 3.1 3.6 3.2 4.1-.3 3.5-3.1 3.3-5 4.3-4.5 3.5-9.8 4-12.4 4.1-12.3 3.5-6 3.7 1 4.3-1.8 3.2-6.5 3.7-4.7 4.3-.9 3.7-4.7 4.1-5.2 3.8-2.1 3.7-.6 3.2-7.2 3.9 2.6 3.9-6.4 4 1 3.9-.2 3.6-.6 4.1 .2 3.6 1.7 3.5 1.4 4.2 6.9 3.8-6.6 3.6 5.3M517.8 41.2l-4.3-.4 -3.6 .8 -3.8 1.8 -3.9-1.8 -3.9 6.3 -3.3-.4 -3.9-2.9 -4.2 1.9 -3.1 9 -4.1 1.8 -4 2.5 -3.9-2.4 -3.3-.7 -4.4 .6 -3.8 5 -3.9 2.4 -3.8 4.2 -3.8 .3 -3.3 2.9 -3.8 3.8 -3.9 3.1 -4.3 7.2 -3.2 3 -3.8 9.8 -4.4 11.9 -3.6 9.4 -3.8 4.2 -3.9 3.6 -3.4 .8 -3.9-1.2 -3.9-3.5 -3.9-3.4 -4-9.6 -3.7-8.7 -3.2-6.2 -4.4-4.5 -3.4-1.6 -4-10.4 -4-6 -3.6-5.3 -4 2.3 -3.5-3.2 -4.1 1.4 -3.3-11.4 -3.9 3 -4-1.2 -3.6-3.4 -4.1-1.6 -3.7 3.6 -4.2 1.5 -3.5-12.2 -3.8-1 -3.8-.6 -3.6-3.7 -3.9-4.2 -3.9 5.9 -3.9 1" fill="none" stroke="#ff0000" stroke-width="0.95" stroke-linejoin="round"/>
<path d="M372.00 66.00C373.33 68.33 377.33 74.33 380.00 80.00C382.67 85.67 385.87 94.72 388.00 100.00C390.13 105.28 391.30 109.33 392.80 111.70C394.30 114.07 394.92 113.72 397.00 114.20C399.08 114.68 403.22 114.37 405.30 114.60C407.38 114.83 408.38 115.37 409.50 115.60C410.62 115.83 411.08 116.48 412.00 116.00C412.92 115.52 413.67 113.92 415.00 112.70C416.33 111.48 418.67 110.82 420.00 108.70C421.33 106.58 421.67 103.45 423.00 100.00C424.33 96.55 427.17 90.00 428.00 88.00" fill="none" stroke="#ff0000" stroke-width="0.7" stroke-linejoin="round" stroke-linecap="round" />
<path d="M414.29 118.86L418.88 109.31L421.47 102.50L424.63 89.94L428.65 80.50L433.92 69.17L440.04 63.56L446.87 61.03L454.90 53.60L462.28 46.18L470.83 42.15" fill="none" stroke="#ff0000" stroke-width="0.8" stroke-linejoin="round" stroke-linecap="round" />
<path d="M411.15 118.16L415.17 111.76L418.45 104.02L421.02 94.24L426.10 83.30L430.82 75.16L436.04 67.33L443.02 64.74L451.57 55.77L459.46 51.72L467.59 42.83" fill="none" stroke="#ff0000" stroke-width="0.8" stroke-linejoin="round" stroke-linecap="round" />
<path d="M414.65 121.51L419.75 113.10L422.72 104.14L424.85 93.88L429.47 85.18L434.05 77.97L439.63 69.98L446.63 65.38L455.77 58.32L463.77 54.78L471.41 45.05" fill="none" stroke="#ff0000" stroke-width="0.8" stroke-linejoin="round" stroke-linecap="round" />
<path d="M413.09 118.22L416.62 110.70L420.27 106.70L423.37 96.35L426.95 83.82L431.84 79.52L438.16 70.42L444.27 66.69L453.37 60.80L460.73 55.39L469.32 47.90" fill="none" stroke="#ff0000" stroke-width="0.8" stroke-linejoin="round" stroke-linecap="round" />
<path d="M412.13 118.18L415.40 110.91L419.36 104.58L421.81 95.97L426.39 88.43L430.93 80.70L436.53 76.49L443.33 71.54L451.56 64.02L459.75 56.63L467.92 50.11" fill="none" stroke="#ff0000" stroke-width="0.8" stroke-linejoin="round" stroke-linecap="round" />
<path d="M337.4 60.2l3.8 7.2 3.7 .9 3.6 1.6 3.7 1.7 3.9 3.5 3 3.5 3.8 3.6 3.6 3.9 3.9 2.7 4.1 4.1 3.5 2.8 3.4 2.4 3.9 2.4 3.4 7.4 4 6.6 3.4 7.6 3.9 6.7 3.5 4.7 4.2 3.8 4 .3 3.3-1.8 3.6-3.1 4.1-4.8 3.7-11.3 3.2-7.8 4.3-6.8 3.6-7.5 3.8-7.1 3.2-4.9 3.5-3.8 3.8-4.4 4-2.9 3.9-1.8 3.2-.1 4.2-1 3.4-3.3 4.2-1.4 3.2-1.7 3.4-2.9M482 72.5l-3.7-8.1 -3.9 3.4 -4.2 7.7 -2.9 8.9 -4 .4 -3.4-.7 -4.5-.1 -3.6-.9 -3.1 9.3 -3.9 3.1 -4 3.4 -3.9 8.8 -3.1 4.1 -3.7 5.1 -3.9 5.7 -4.1 6.6 -3.4 2.5 -3.9 3.2 -3.9 2.4 -3.1 .2 -3.5-1.3 -4.1-1.9 -3.9 5.6 -3.5-10.1 -3.7-.4 -3.4-9.3 -4.2-7.1 -3.5 .5 -3.6-5.4 -3.8-5.9 -3.9 0 -3.3 .2 -3.9-2.1 -3.6-5.6 -4 2 -3.8-5.6 -3.8-8.2 -3.5-3.3 -3.9-6.5M337.2 76.6l3.8 7.2 4 2.2 3.5 6.2 3.7 .9 3.2 1.8 3.9-1.5 3.5 1.6 3.7 3.5 3.8 2.8 3.7 3.9 4 1.7 3.4 .6 3.9 5.5 3.8 7.6 4 10.7 3.6 2.2 3.8 7.3 3.6-1.1 3.5-.5 3.6-1.1 3.6-1.1 3.6-1.7 3.8-4.8 3.8-8 3.5-2.1 3.8-5.9 3.7-4.2 3.8-5.8 4.1-7.2 3.6-3.1 3.3-5 4.3-6.7 3.6-.1 3.1-7 4.2 2.1 3.4 2.3 3.5 2.8 4.2-3 3.3-2M481.9 72.5l-3.8-.3 -3.7-3.2 -3.8-2.2 -3.5 .3 -4.1 8.8 -3.7-.2 -3.9-.1 -3.4 3.2 -3.6 2.4 -3.7 8.3 -4 5.6 -3.6 5.2 -3.8 5.2 -3.4 9.6 -3.9 7.7 -3.3 6.3 -4.2 4.4 -3.3 2.7 -4 .7 -3.3 .2 -3.6-3.1 -4.2-4.7 -3.8-6.4 -3.3-5.9 -3.8-.9 -3.6-9.7 -4.3-3.4 -3.5-1.5 -3.2-3.1 -4.3-2.2 -3.1 .1 -4.3-2.6 -3.5-.6 -3.5-2.1 -4.2 .1 -3.6-5.3 -3.8-4.7 -3.3-8 -3.6-8.8M336.9 66.3l3.6 7.3 4.2 4.7 3.6 7.1 3.7 3.1 3.9-3.4 3.7 7.1 3.7 5.2 3.6-1 3.4 2.3 3.8 2.8 3.9 1.6 3.3 2.5 4.1 .9 3.9 7.7 3.1 5.8 3.7 9.8 4.2 .6 3.5 4.2 3.6 2.8 3.7-1 4-.8 3.7-3 3.5-4.1 4.2-7.5 3.3-11.6 4-4.5 3.2-3 3.8-7.1 3.6-9 4-5.7 3.4 1.1 4-3.6 3.8-4.3 3.2-2.4 4.3 .7 3.8-4.8 3.2-.6 4.1 3.9 3.1-1.7M482 73.6l-3.7 4.4 -3.8 6 -3.8 2.1 -4.2-1.3 -3.6-.8 -3.8 2.3 -3.5 .1 -3.3 1.3 -4.2 9.9 -3.8 4.2 -3.6 1.6 -3.4 6.8 -4.2 9.4 -3.5 1.2 -3.2 7.1 -4.1 5.3 -3.5 2.3 -4.1 .2 -3.1 1.6 -3.9 1.2 -3.5 .7 -4.3-2.5 -3.3-2.2 -3.8-4.4 -3.8-4.9 -3.5-8.4 -4-2.6 -3.9-4.9 -3.4-1.5 -3.5-2.8 -3.6-3.3 -3.8-2.7 -4-3.7 -3.7-2.4 -3.7 1.3 -3.3-1.9 -4.3-5.4 -3.3-7.9 -3.5-4.3M337.5 79.5l3.6 6.2 3.3 3.2 4-1.3 3.4 4 3.9 1.4 3.6-.4 3.8 2.1 3.6 1.4 3.9 2.4 3.3 4.1 4.2 5.3 3.3 8.2 4.3 2 3.6 6.9 3.3 7.6 3.6 6.4 4.1-.4 3.4-.9 3.8-.3 3.5 .3 3.9-1.8 3.8-2.2 3.5-3.7 4.3-6.9 2.9-7.3 3.9-4.2 4.3-2.8 3.4-10.8 3.6 .6 3.5-5.6 4.3 2 3.5-4.9 3.3-.1 3.6-4.6 4.4-7 3.2-4.3 3.5 1.1 4.2 .2 3.7-.1M481.9 85.3l-4.1-2.9 -3.5 3 -3.8-.1 -3.9 .2 -3.7 6.2 -3.6 7.6 -3.2 .2 -3.9 4.7 -3.9 4 -3.7 4.5 -3.3 6.9 -4.1 3.5 -3.9 6.5 -3.1 .3 -4 5.9 -3.5 3.7 -4.2-1.8 -3.6 .9 -3.8 .4 -3.7 .6 -3.2 1 -4.4-.2 -3.5-.6 -3.3-7 -3.8-.7 -3.7-7.2 -3.6-1 -3.6-7.1 -4.2-4.8 -3.9-5.9 -3.7-4.8 -3.5-3.1 -3.7-3.8 -3.2 .4 -4.2 .1 -3.4-3 -3.8-1.5 -3.5-2.3 -4.2-9.1M337.6 63.3l3.6 7 3.2 7.2 3.9 4.3 4 6.5 3.2 3.5 4.1 2.5 3.5 2 3.9 4.6 3.6 4 3.5 3.5 3.6 11.1 4 5.2 4 2.5 3 1.7 3.7 4 4.3-1.7 3.6 6.3 3.5 .7 3.5 0 4.3-.2 3.5-1.9 3.7-1.6 4-3.4 3.1-6.7 4-2.3 3.3-2 3.8-7.4 4.2-6.3 3.6 .9 3.6-7.3 3.7-6.5 3.4 6.9 4.1-7.6 3.4-.7 3.8-1.3 3.9-11.5 4 7.5 3.4 3.3 3.5-7M481.7 87.9l-4.1-.6 -3.5-3.6 -3.7-6.8 -3.3 1.6 -3.8 .8 -3.4-3.7 -3.9 5.6 -3.6 4 -3.9 6.9 -3.7 1.5 -4 8.2 -3.8 5.8 -3.1 6.7 -3.7 4.5 -4.3 3.5 -3.2 8.5 -4 3.1 -3.5 1.9 -3.6 1.3 -4.4 .8 -3.1-2.9 -4-1.6 -3.3-4 -3.9-4.5 -4.1-7.5 -3.7-1.3 -3.1 1 -4.3-3.9 -3.3-6.2 -3.7-4 -3.5-4.2 -4.1 .1 -3.8 .2 -3.8-2.9 -3.6-2.3 -3.2-3.6 -4.4-3.5 -3.8-5.6 -3.2-7.8M337 69.3l4.2 11.4 3.7 6.2 3.2-2.2 3.7 6.6 3.7 3.2 3.7 .6 4.2 2.6 3.4 2.4 4 2.4 3.7 5.1 3.6 4.9 3.6 .7 4 6.4 3.5 4.7 3.2 15.3 4.2 4.4 3.3 .3 4.3-2.5 3.2-2.1 4.3-.2 3.6-1.5 3.6-1.5 3.5-.3 3.5-6.6 4.2-5.1 3.3-6.1 3.5-10.9 3.8-.3 4.3-6 3.5 .9 3.2-.7 4.1 .7 3.6-3.1 3.8-1.9 3.8-5.9 3.5-4.4 4.1 0 3.1-.7 4-5.5M481.6 71.5l-4 1.7 -3.1 7 -4.2 6.6 -3.5 1.3 -3.5 4.8 -3.8 6.8 -3.5 3.2 -3.8-2.6 -4.1 3.2 -3.7-1.5 -3.7 11.4 -3.3 .9 -3.8 7 -3.4 5.7 -4.2 6.7 -3.6 3.6 -3.7 .4 -3.5 1.3 -4.1 1.1 -3.7 .5 -3.3 .6 -4.1-.9 -3.9-2.9 -3.3-7.6 -3.8-.6 -3.4-6.7 -4.2-.7 -3.1-3.4 -4.1-9.5 -3.4-6.9 -3.8-2 -4.2-4.7 -3.6-.8 -3.9-.4 -2.9-6 -4.1-5.8 -3.5 2.6 -3.9-6 -3.9-5.3M337.3 79l3.7 6 4 1.3 3.4 3.8 3.6-.8 3.7 3.5 4 1.3 3.2 3.3 4.1-.3 3.4 5.6 3.8 3.2 3.8 6.9 3.3-1.4 4.3-1.1 3.6 3.6 3.5 13.8 3.8 5.4 3.5 1.4 3.8 .6 3.4 3.2 3.7-.4 4-1.4 4.2-3.1 3.6-2.7 3.2-13.3 3.7-2.7 4-5.7 3.6-2.7 3.5-2.3 3.9-8.7 3.4 1.2 4.5-2.8 2.9-3.6 3.8-1.1 3.9-2.2 3.8-.6 3.7-2.2 3.7-.5 4 2.9 3-2.2M481.7 60.2l-3.5 1.5 -3.7 2.5 -3.9 .7 -3.4 2.8 -4 2.8 -4 .6 -3.3 2.6 -4.2 4.7 -3.4 3.9 -3.6 5.1 -4.1 3.2 -3.7 8.2 -3.7 4.7 -3.6 7.8 -3.6 7 -3.4 9.6 -3.9 5 -3.7 2.9 -3.3 1.1 -3.9 .3 -3.8-2 -3.6-4.4 -4.2-6.4 -3.8-7.2 -3.4-6.6 -3.5-5.7 -4.2-.7 -3.1-3.2 -4.2-5 -3.1-5.1 -4.4-2.2 -3.3-1.3 -3.4-4.9 -3.8-3.8 -4.3 .2 -3.7-2.2 -3.5-1.9 -3.6-7 -3.4-5.2M337.3 60.5l3.3 5.6 3.8 6.3 4.3 2.1 3.1-1.9 3.8 3.9 3.6 3.8 3.8 5.4 3.9-2.1 3.6 3.6 4.1 5.7 3 4 4 2 4.2 .4 3.7 7.2 3.5 7.3 3.5 7.1 3.9 7.2 3.2 4.6 4 3.3 3.7 .6 4-2.3 3.4-1.9 3.8-4.6 3.9-10.8 3.5-7.8 3.8-6.9 3.7-6 3.9-7.1 3.6-4.4 3.3-3.5 3.8-1.8 3.9-2.7 3.8-3.6 3.8-1.9 3.1-1 3.7-2.2 3.8-3.7 3.9-2.6 3.8-1.7M481.7 60.2l-3.5 1.3 -4 2.1 -3.6 2.6 -3.5 3.2 -3.6 2.2 -4.1 1.8 -3.9 3.7 -3.7 3.6 -3.7 2.3 -3.7 4.2 -3.7 3.4 -3.8 7.6 -3.6 5.3 -3.6 7.4 -3.9 7.1 -3.2 10.2 -3.6 4.7 -4.2 1.9 -3.7 2.8 -3.1 .8 -4.5-2.6 -3-4.6 -4.4-6.1 -3.1-6.7 -3.5-7 -4.1-7.5 -3.6-1.7 -4.2-2.3 -3.2-3.6 -3.8-3.2 -3.4-4.2 -3.7-2.7 -3.8-2.4 -3.7-1.2 -3.7-3.5 -4-3.3 -3.7-4.4 -3.9-5.8 -3.5-5.4M337.1 60.4l4 8.3 3.6 5.8 3.4-1.7 3.8 1.9 4.1 6.2 3.5 1.6 3.3 2.6 3.8 2 4-.8 4 6.4 3.2 3.2 4.2 2.3 3.6 0 3.4 8.1 3.4 8.9 4 7.9 4.1 6.8 3.7 4 3.6 2.8 3.2 .5 4.1-1.5 3.5-2 4.1-4.6 3.7-10.6 3.3-8.2 3.5-6.1 3.9-4.7 3.7-7.6 3.9-5.7 3.4-3.9 3.9-3.7 4.1-3.3 3.3-4 3.4-2.4 3.8-3.1 3.6-1.7 3.8-1.4 4.1-1.5 3.6-1.5M481.4 75.7l-3.2 5.8 -4 4.7 -3.4 0 -3.9 1.7 -3.8-1.4 -3.3 .5 -3.7 .6 -3.8 1.4 -4.3 .9 -3.4 5.8 -3.6 5.9 -3.5 5.5 -4.1 2 -3.4 5.5 -4 9.9 -3.5 9.8 -4.1 1.9 -3.4 2.6 -4 .3 -3.6 .6 -3.1 0 -3.9-5.3 -4.1-6.5 -3.5-4 -3.6-8.5 -3.7-5.4 -3.7-1.2 -4.1-4.5 -3.1 1.1 -3.8-2.6 -4.3-4.7 -3-5.2 -4.2-.9 -3.9-4.7 -3.7-4.1 -3.1-1.2 -4.1 1 -3.5-6.4 -3.9-7.4M337 63.9l3.6 6.4 4 2.2 3.5 3.4 4.1 1.2 3.5 .2 3.9 .6 3.2 3.4 3.9 3.1 3.8 7.2 3.6 1.2 4 4.8 3.5-.3 3.9 2.6 3.4 7.6 4.1 8.1 3.5 7 3.4 7.1 4.1 4.7 3.7 3.6 3.2 0 4.3-2.3 3.3-3 3.7-5.1 3.6-11 4.4-8 3.6-7.4 3.6-6.4 3.9-7.3 3.3-5 3.8-4.1 3.9-4 3.7-2.7 3.5-1.5 3.6-4 3.8-2 3.4-2.7 3.7-1.4 4.3-1.1 3.8-1.3M482 67.5l-3.8 .2 -3.5 6.2 -4.1 1.7 -4-1.5 -3.6 7.5 -3.7 8.3 -3.8 1.3 -3.2-1.4 -4.3 1.6 -3.3 5.1 -3.5 2.2 -4.2 .8 -3.1 3.9 -4 11.1 -3.9 4.1 -3.6 9.2 -3.4 3.9 -3.6 2.6 -3.8 1.7 -4 .1 -3.7-1.3 -3.4-1.3 -3.9-5.9 -4.1-11.4 -3.6-2.7 -3.6-8.6 -3.6-.4 -3.7-3.7 -3.9 .1 -3.9-1 -3.6-2.5 -3.5-3.3 -3.4 1.4 -4.3-4.5 -3.2-3.1 -3.8-3.1 -3.4-4.6 -4.1-2.3 -3.9-8.3M337.3 77.6l3.3 5.4 4.3 8.4 3.7 3.3 3.4 .7 3.4 3.4 4.2-1.4 3.8 .9 3.4 3.9 4.1 2.3 3.5 4 3.4 7.3 3.7-.6 3.9-.6 3.8 6.4 3.4 4.9 4.1 7.4 3.8 3.8 3.4-1.1 3.6 2.5 4-.9 3.3-2.4 3.8-1.6 3.9-3 3.7-12.2 3.6-5 3.8-5.7 3.3-2 4.3-11.1 3.6-5.3 3.4-6.4 3.6-1.9 3.8-6.6 4.2-1.8 3.7-3.1 3.2 1.6 4.2-6.3 3.4 3.7 3.9-2.3 3.6-3.5M481.4 77.1l-3.4 7.8 -3.7 4.6 -3.8-.5 -3.5 2.9 -3.5 5.9 -4 1.6 -3.8 2 -4 4.3 -3.3 .9 -3.6 5.7 -4.2 5 -3.4 8.9 -4.1 4.2 -3.4 4.1 -3.6 4.2 -3.7-.5 -3.5 .5 -3.6-.3 -4.2 1.4 -3.9 .9 -3.6 1.7 -3.7 1.9 -3.5-2.2 -3.7-3.5 -3.8-2.6 -3.7-5.1 -3.8-5.4 -3.2-3.8 -4.3-6.5 -3.1-4.9 -4.1-3.1 -3.8-2.7 -3.2-1 -3.6-1.8 -3.9-4.1 -3.8-.8 -4.1-9 -3.3-.4 -3.7-9.8M337.1 68.7l3.9 8 3.3 1.2 4.2 2.9 3.4 2.5 3.5 1.8 4.2 2.8 3.4 4 3.7 3.1 4.1 4.3 3.1 5.4 4 1.7 4.1-.1 3.2 3 3.6 2.3 3.9 7.2 4 4.8 3.3 8.5 3.9 1.7 3.7 2.2 3.7 0 3.5-1.7 3.6-2.7 4.3-4.3 3.3-8.3 4.1-7.6 3.3-1.9 3.9-6.1 3.5-4.4 3.8-4.4 4-6.7 3.8-4.9 3.4-8.2 4-3.5 3.2 .3 3.8 1.4 3.8-8 4 1.7 3.8-3.4 3.7-2.1M481.9 78.8l-4.2 4.2 -3.1-3.1 -3.7 1.4 -4.4 2.9 -3.1 4.8 -3.9-1.4 -3.3 3.7 -4.5-.9 -3.1 6 -4 6.3 -3.5 2.6 -3.5 7.3 -4.1 .5 -4 9.4 -3.1 8.2 -4.1 4.7 -3.5 1.7 -3.4 .7 -3.9 1 -3.9 2 -3.6 .1 -4.2-.5 -3.1 0 -3.8-6.5 -4.1-12.7 -3.4-5.4 -3.6-3.2 -3.8-4.7 -3.6-1 -3.5-5.4 -4.4-.5 -3.6-2.4 -3.5-1.7 -3.7-1.3 -4-3.4 -3.1-4.3 -3.9-5.6 -4.2-4.8 -3.1-10.2M337.4 69.2l3.7 8.3 3.6 6.9 3.8 4.3 3.5 4.6 3.9-.5 3.7 1.9 3.8 3.5 3.6 .8 3.5 3.1 3.8 6.8 3.4 7.5 4.3 9 3.2 1.5 4.2 5.5 3.1 9.7 4.3 4.2 3.5 .1 3.8-2.2 3.9-3 3.4-1.8 3.5-1.1 3.4 .1 4 .1 3.8-3.4 4.1 2 3.1-6.6 4.1-4.6 3.8-5.1 3.4-8.7 3.7-10.5 3.5-7.1 4.3-3.9 3.3-1.8 3.9-4.7 3.5-1.1 3.9 1.7 3.5-1.3 4.1 2.3 3.8-10.5M481.8 68.6l-3.7 4.4 -4.1 7 -3.2 5.1 -4.3 4 -2.9 .7 -4.5-4 -3 7.3 -4.4 9.1 -3.4 3.6 -3.7 9 -3.8 5.7 -3.9 5 -3.4 4.9 -3.5 4.4 -3.8 2.5 -3.5-.8 -3.8 .4 -4.2 .1 -3.2 2 -3.7 1.5 -4 2.2 -3.2 .2 -4.4-.4 -3.2-7.3 -3.7-10.7 -4.1-4.7 -3.3-2.7 -3.7-3.3 -4-4.3 -3.6-2.9 -3.9-2.3 -3.2-2 -3.7 0 -4.3-2.7 -3.2-4 -4 1 -3.8-6.8 -3.7-.4 -3.7-6.1M336.8 76.8l4.3 8.9 3.9 3.7 3.4 3.8 3.9 2.2 3.7-1 3.5 4.7 4 2.1 3.2 2 3.5 .5 3.7 3.9 3.7 8.4 4.1 .9 3.4 3.5 4.1 2.7 3.7 11.5 3.3 2.5 4.2 0 3.1 2.3 3.8 .7 4.1-1.3 3.5-.6 4.2-.1 3.5-3.8 3.4 .1 3.8-3.6 3.4-1.2 3.8-4.1 3.7-6.5 3.9-7.4 4.1-9.6 3.7-3.7 3.6-9.9 3.7-6.8 3.6-3.4 3.5-2.5 4 9.6 3.3 1.9 4.3-2.4 3.7-4.6M481.9 67.2l-4.1 8.5 -3.3 1.7 -3.7-.1 -3.6 4.3 -3.7-.5 -3.7-3.5 -3.9-1.8 -3.9 6.3 -3.3 0 -4 7.8 -4.1 3.4 -3.4 6.2 -3.9 6.6 -3.7 8.5 -3.3 10.4 -3.8 6.8 -3.9 2.2 -3.9 1.6 -3.6 1.3 -3.8 .4 -3.5 .5 -3.8-1.9 -3.4-7.2 -3.6-5.3 -3.9-5.2 -3.7-10.4 -4 3.7 -3.2-2 -3.8-2 -4.2-5.7 -3.6-1.3 -3.4-2.5 -4-4.5 -3.7-1.2 -3.4-5.3 -3.6-.3 -4-2.5 -3.5-9.8 -4-3.9M336.8 68.7l4.5 8 3.2 5 3.8 5.6 4.1-.6 3 5 4.3 3 3.6 2.5 3.3 4.1 3.8 1.5 3.5 7.5 3.9 3.7 3.9 8.1 3.3 4.2 4.4 7.3 3.7 9.4 3.6 2 3.2-.5 4-.8 3.6-3.2 4-.7 3.5-.3 3.9-.2 3.1 .3 4.1-1.4 3.7-4.6 3.3-3.3 3.9-6.5 4.1-6.8 3.7-8.1 3.9-9.3 3.7-3.1 3.2-1.3 4.3-2.4 3-2.1 4.2-3.2 3.5-.8 3.6 2.7 3.5-4.3 4.2-.3M481.8 81.9l-4.1 3.5 -3.2-1.7 -3.7-1.1 -3.7 .9 -3.8 8.2 -3.7 6.6 -4 3.4 -3.8 1.2 -3.5 4.4 -3.5 6.8 -3.6 5.5 -3.9 1.6 -3.6-.8 -4.1 .8 -3.4 0 -3.5 7.2 -4.2 4.4 -3.9 2.4 -3.2 .8 -3.6 1.3 -3.8-.1 -4-4.7 -3.6-.5 -3.8-8.2 -3.4-11.5 -3.6-6.3 -4.2-3.3 -3.4-.6 -3.4-.5 -4.2-3.9 -3.6-2.7 -3.7-2.8 -3.4-2.1 -3.6 2.1 -4-2.4 -3.8-7.4 -4 2.8 -3.3-3.2 -3.7-10.8M336.9 76.6l3.9 4.9 4.1 4.1 3.6 3.4 3.2 4.2 4.1 4.3 3.4 0 3.7 2.7 3.7 2.5 4.2 2.8 3.6 3.1 3.6 2.9 3.8 6.2 3.9 2.2 3.8 4.9 3 14 4.2 5.2 3.4 .2 4-2.3 3.5-.8 4-1.3 3.6-.5 3.5 .1 3.9-1.3 3.7-2.9 3.9-6.2 3-10.3 4.3-6.1 3.3-9.3 3.5-4.8 3.9-4.8 3.7-1.1 3.6 .9 3.6 .1 3.9-2.7 3.5-4.4 4.3-3.9 3.4-4.7 3.6-2.1 3.5-.5M481.6 83.1l-3.4 .3 -4.2-.8 -3.6-1.1 -3.4 0 -3.8-2.3 -3.7 3.2 -3.4 7.9 -4.3 1.9 -3.4 1.5 -3.9 2.4 -3.9 3.4 -3.8 9.4 -3.5 .6 -3.9 5.7 -3.1 2 -3.7 10.1 -3.9 6 -3.9 1.3 -3.4 2.3 -3.9-.6 -3.8-1.4 -3.6-2.3 -4-2.8 -3.5-2.5 -3.7-.5 -3.7-3.6 -3.6-5.6 -3.6-7.1 -4-.5 -3.6-7.3 -3.6-2.6 -3.6-4.6 -4.1 1.2 -3.7-.5 -3.5-.9 -3.2 3 -4.2-6.7 -3.3-5.7 -4.3-10.5M337.1 73.5l3.6 7.6 3.5 4.3 3.9-1.4 3.7-1.2 4.1 2.4 3.4 5.3 3.6 5 4.3 2 3.5 2.9 3.6 3.3 4 6.6 3.4 4.5 3.7 9.4 3.5 .4 4.3 9.3 3.3 1.2 3.8 2.2 3.9 1.6 3.4 0 3.8-1 3.3-.2 3.8-.3 3.8-2.4 4.2-2.9 3.6-.7 3.3-2.4 3.9-4.5 3.7-3.8 3.4-10.7 4.2-4.9 3.4-2.4 4-2.5 3.3-4.2 3.6-1.6 4-6.5 3.5-.3 4.1-2.6 3.2 7.6 3.6 .2M481.7 84.5l-4-.8 -3.2-4 -3.9 4 -4-8.8 -3.6 2.3 -3.6 2.7 -3.6 1.9 -3.9 4.5 -3.3 3.1 -4 9.8 -3.9-2.6 -3.4 9.5 -3.4 5.5 -3.8 11.2 -4.1 2.3 -3.2 7.3 -4.5 3.2 -3.5 .9 -3.7 1.3 -3.8 .5 -3.2-.8 -3.9-2.4 -3.8-4.2 -3.5-6.4 -3.9-4.7 -3.5-11.3 -3.6-4 -4.1 .2 -3.3-.5 -4.2-4.9 -3.3-4.8 -3.8-4 -3.5 1.5 -4.1-3.3 -3.7-5.8 -3.4-.7 -3.5-1.5 -3.9-6.2 -3.8-7.4M337.2 81.1l4 7 3.5 3.8 3.4 6.2 3.7 2.2 4.2-.2 3.5-.4 3.9 1.1 3.6 3.5 3.7 3.5 3.9 4.3 3.2 8.9 4.1 5 3.2 4.2 4.2 4 3.8 7.9 3.8-1.8 3.5 2.2 3.5 1.3 3.7-3 4-.9 3.4-.5 3.6-1.4 4-.4 3.4-5.2 3.6-8.2 3.8-3.1 3.8-8.8 3.7-6.8 3.7 .6 3.6 3.1 3.9-5.1 3.3-4.2 4.4-7.7 3.2-.6 3.6-.9 4-.7 4.1 0 2.9-3.4 4.5 1.5M481.3 87.5l-3.3-2.2 -3.9-.5 -3.1 .2 -4.2 .7 -3.6 3.4 -4-.8 -3.6-1 -3.9 1.5 -3.4 3.7 -3.6 4.7 -3.4 14.3 -4.2 11.1 -3.2 1.5 -4.2 7.8 -3.9 5.8 -3.2 .6 -4.1 .8 -3.6 .5 -3.6 .2 -3.5 1.3 -4 1.8 -3.3 1.4 -4.1-.1 -4-9.1 -3.4-10.9 -3.6-4 -4.1-1.4 -3.4-7.9 -3.6-3.8 -3.7-4.1 -3.9-1.6 -3.6-.5 -3.7-3.5 -3.9 1.1 -3.6-2.9 -3.7-3.2 -3.9-2.2 -3.4-4.4 -3.9-7.3" fill="none" stroke="#00ff00" stroke-width="0.95" stroke-linejoin="round"/>
<path d="M409.5 144.5l2.5-1.2 2.5 0 2.5 .5 2.5-1.3 2.4-.1 2.3 .3 2.3-.7 2.1 0 2.1-.9 2-.2 1.9-.7 1.7 .4 1.7-.9 1.4-2 1.4-1.3 1.2-1.7 1-.6 .8-2.1 .7-1.6 .6-.7 .3-.4 .2-.4 0 .9 -.2 1.1 -.3 1.5 -.6 2.3 -.7 2.5 -.8 2.2 -1 2.6 -1.2 3.2 -1.4 2.5 -1.4 2.8 -1.7 3.1 -1.7 1.3 -1.9 1.3 -2 .1 -2.1 .7 -2.1-.8 -2.3-1.2 -2.3-1.8 -2.4-1.9 -2.5-2.1 -2.5-1.7 -2.5-1 -2.5-1.6 -2.5-.8 -2.5-.5 -2.5 .3 -2.5-1.2 -2.4 .4 -2.3-.1 -2.3-.1 -2.1-1 -2.1 .1 -2-.7 -1.9-1.1 -1.7-.9 -1.7-1.5 -1.4-2.1 -1.4-1.7 -1.2-2.2 -1-1.2 -.8-2.5 -.7-1.7 -.6-1.3 -.3-.4 -.2 0 0 .6 .2 1 .3 2 .6 2.3 .7 3 .8 2.7 1 3.3 1.2 3.8 1.4 1.8 1.4 3.6 1.7 2.8 1.7 1.6 1.9 2.7 2 .2 2.1 .3 2.1-.6 2.3-1 2.3-2.8 2.4-2 2.5-2.2 2.5-1.6 2.5 .3zM409.5 144.6l2.5-.7 2.5-.8 2.5 .5 2.4-1 2.4 .3 2.3 .7 2.3 .8 2.1-.2 2.1-.8 2-.8 1.8-1.4 1.8 .3 1.6-1.8 1.5-.4 1.3-2.4 1.2-2.2 1-.6 .8-1.8 .7-1.6 .5-.8 .4-.7 .2 0 0 .1 -.2 1.4 -.4 1.8 -.5 1.8 -.7 3.2 -.8 2.3 -1 2.3 -1.2 4.1 -1.3 2 -1.5 2.6 -1.6 2 -1.8 2.5 -1.8 .2 -2 0 -2.1-.3 -2.1-.4 -2.3-1.4 -2.3-2.4 -2.4-1.1 -2.4-2.8 -2.5-1.3 -2.5-1.2 -2.5-1.3 -2.5-.7 -2.5-.4 -2.5-.5 -2.4 .5 -2.4 .2 -2.3-.7 -2.3-.1 -2.1 .7 -2.1-.6 -2-.6 -1.8-.7 -1.8-1.3 -1.6-1.7 -1.5-1.1 -1.3-2.2 -1.2-.9 -1-2.1 -.8-2 -.7-1.7 -.5-1 -.4-1 -.2-.4 0 .7 .2 1.2 .4 1.9 .5 2.1 .7 3.3 .8 2.9 1 2 1.2 2.9 1.3 3.4 1.5 3.7 1.6 2.2 1.8 1.8 1.8 1.5 2 .2 2.1 .8 2.1-1 2.3-.4 2.3-1.7 2.4-1.8 2.4-1.9 2.5-1.1 2.5-.8zM409.5 143.9l2.5-.2 2.5-.6 2.5-.3 2.4 .3 2.4 .2 2.3 0 2.2-.4 2.2 .7 2.1-.5 2-.4 1.8-1.3 1.8-1.2 1.6-.6 1.5-1.2 1.3-1 1.2-2.4 1-1 .8-1.3 .7-.6 .5-2.1 .4 .1 .2-.5 0 .4 -.2 1.4 -.4 1.6 -.5 1.1 -.7 2.8 -.8 2.9 -1 2.5 -1.2 3.1 -1.3 1.8 -1.5 2.4 -1.6 1.1 -1.8 2.7 -1.8 .8 -2 .9 -2.1-.8 -2.2 .7 -2.2-2.3 -2.3-.2 -2.4-1.6 -2.4-3.3 -2.5-1.2 -2.5-2 -2.5-1.9 -2.5 .3 -2.5-.8 -2.5 .5 -2.4 .2 -2.4-1.5 -2.3 1 -2.2 .5 -2.2 .2 -2.1-.6 -2-1.1 -1.8-.6 -1.8-.7 -1.6-2.2 -1.5-1.6 -1.3-1.8 -1.2-1.6 -1-1.4 -.8-2.4 -.7-1.4 -.5-1.2 -.4-1 -.2-.5 0 .4 .2 1.2 .4 1.7 .5 2.3 .7 3.2 .8 3.4 1 2.8 1.2 3.3 1.3 3.5 1.5 2.8 1.6 2.8 1.8 1.6 1.8 1.3 2-.2 2.1 .3 2.2-.6 2.2-1.4 2.3-1.1 2.4-2.1 2.4-2.4 2.5-1.1 2.5-1.1zM409.5 145.5l2.5-.9 2.6-1 2.5 .4 2.4-.2 2.4 1.7 2.4 0 2.3-.8 2.2 0 2.1 .2 2-1.1 1.8-.8 1.8-.6 1.6-1.1 1.5-1.7 1.4-1.1 1.2-2.1 1-1.6 .9-1.6 .7-1.4 .5-1.2 .3-.3 .2-.3 0 .2 -.2 1.1 -.3 1.5 -.5 2.4 -.7 2.3 -.9 2.7 -1 2.7 -1.2 2.3 -1.4 3 -1.5 3.1 -1.6 1 -1.8 1.5 -1.8 1.2 -2 .1 -2.1-.3 -2.2-.8 -2.3-1 -2.4-1.1 -2.4-3 -2.4-1.4 -2.5-1.8 -2.6-1 -2.5-1.9 -2.5-.4 -2.6-1.4 -2.5 .5 -2.4-1.7 -2.4 1.8 -2.4-1.7 -2.3 .3 -2.2-.7 -2.1-.2 -2 0 -1.8-1.3 -1.8-1.8 -1.6-1 -1.5-1 -1.4-2 -1.2-2 -1-1.4 -.9-1.5 -.7-1.9 -.5-.8 -.3-.5 -.2 .3 0 .3 .2 1.1 .3 1.4 .5 2.7 .7 2.6 .9 3.7 1 3.2 1.2 3.9 1.4 3.1 1.5 3.1 1.6 2.7 1.8 2.5 1.8 .9 2 .8 2.1 .5 2.2 1 2.3-2.9 2.4-1.6 2.4-1.1 2.4-2.9 2.5-.6 2.6-2.6zM409.5 144l2.5-.7 2.5-1.6 2.5 .7 2.5-.6 2.4 .2 2.3 .3 2.3 .7 2.2-2 2.1-.7 2 .6 1.8-1.4 1.8-.7 1.6-1.6 1.5 0 1.3-1.5 1.2-1.9 1-.6 .9-1.6 .7-1.4 .5-1.2 .4 .3 .2-.6 0 .8 -.2 .9 -.4 1.7 -.5 2.7 -.7 2.6 -.9 2.8 -1 2.6 -1.2 3.1 -1.3 2.7 -1.5 2.7 -1.6 1.4 -1.8 1.8 -1.8 1.3 -2-.8 -2.1 1.2 -2.2 0 -2.3-1.5 -2.3-1.7 -2.4-1.6 -2.5-1.6 -2.5-3.4 -2.5-.9 -2.5-1.2 -2.5-1 -2.5 .9 -2.5-1 -2.5 .7 -2.4 .4 -2.3 .3 -2.3-1.5 -2.2-.4 -2.1-.9 -2 .1 -1.8-1.7 -1.8-.8 -1.6-1.2 -1.5-1.3 -1.3-2.8 -1.2-1.4 -1-1.9 -.9-2.5 -.7-.9 -.5-1.2 -.4-1.5 -.2 .2 0 .4 .2 1.2 .4 1.5 .5 2.4 .7 3.8 .9 2.9 1 2.9 1.2 3.6 1.3 2.3 1.5 3.6 1.6 2 1.8 1.2 1.8 2.3 2 1.7 2.1 .4 2.2-.5 2.3-1.4 2.3-1.4 2.4-3 2.5-1.4 2.5-.4 2.5-3.5zM409.5 143.9l2.6-1.5 2.5-.6 2.5 .6 2.5-2.1 2.5 2.1 2.4-.4 2.3-.1 2.2-.6 2.1-.5 2-.1 2-1.6 1.7 .3 1.7-2.2 1.5-.3 1.4-1.4 1.2-.7 1-1.6 .9-2 .7-.7 .5-1.2 .4-.2 .2-.1 0 .4 -.2 1.2 -.4 2.1 -.5 2.3 -.7 2.7 -.9 2.5 -1 3.4 -1.2 2.4 -1.4 2.1 -1.5 2.3 -1.7 3.4 -1.7 .7 -2 .8 -2 .6 -2.1 .3 -2.2-.4 -2.3-1.1 -2.4-1.1 -2.5-2.7 -2.5-1.5 -2.5-2.2 -2.5-2 -2.6-.8 -2.6-1 -2.5-1.2 -2.5 .6 -2.5-.7 -2.5-.6 -2.4 1.6 -2.3-.7 -2.2-2.2 -2.1 .3 -2-1 -2-1.3 -1.7-1.3 -1.7-.7 -1.5-1.3 -1.4-1.7 -1.2-1.2 -1-2.4 -.9-2 -.7-.6 -.5-1.1 -.4-1.5 -.2 0 0 1.1 .2 .9 .4 2.3 .5 2.6 .7 2.8 .9 3 1 4.3 1.2 3 1.4 2.7 1.5 3 1.7 3.1 1.7 1.5 2 3.5 2 .2 2.1 .5 2.2-1.1 2.3-.8 2.4-3.3 2.5-1.5 2.5-1.9 2.5-3.4 2.5-1.9zM409.5 142.7l2.5-1.9 2.5 .3 2.5-.4 2.4 .9 2.4-.5 2.3 .6 2.2-1.5 2.2 1.2 2.1-.7 2-.2 1.8-.8 1.7-1.4 1.7 .5 1.4-1 1.4-1.6 1.1-.9 1-1.7 .9-.8 .7-2 .5-.5 .4-.8 .1-.4 0 .7 -.1 1.4 -.4 1.3 -.5 2.3 -.7 2.6 -.9 2.6 -1 2.9 -1.1 2.6 -1.4 2.6 -1.4 2 -1.7 2.2 -1.7 1.2 -1.8 2.4 -2 0 -2.1 .6 -2.2-.7 -2.2-.2 -2.3-2 -2.4-.3 -2.4-2.6 -2.5-2 -2.5-.8 -2.5-1.5 -2.5-1.3 -2.5-1.2 -2.5 .6 -2.4 0 -2.4-.6 -2.3 .5 -2.2-.7 -2.2-.1 -2.1-1.2 -2-1.4 -1.8-1.7 -1.7-.7 -1.7-1.9 -1.4 0 -1.4-2.1 -1.1-1.9 -1-2.3 -.9-1.8 -.7-2.3 -.5-1 -.4-1 -.1 .2 0 .4 .1 1.5 .4 1.4 .5 2.9 .7 3.2 .9 2.9 1 3.7 1.1 3.7 1.4 2.2 1.4 3.5 1.7 2.4 1.7 2 1.8 .5 2 1.5 2.1-.8 2.2 1.1 2.2-2.3 2.3-1.7 2.4-2.7 2.4-1.9 2.5-2.8 2.5-1.5zM409.5 144.3l2.5-1 2.5-1 2.4 .2 2.4 .9 2.4 .6 2.3-.6 2.3-.8 2.1-.4 2.1 .4 1.9 .6 1.9-1.3 1.7-1.6 1.6-.8 1.5-1.3 1.3-.9 1.2-1.4 1-1.6 .8-2.3 .7-.5 .6-.9 .3-1.1 .2 .1 0 .5 -.2 .8 -.3 1.7 -.6 2.4 -.7 2.6 -.8 3.1 -1 2.5 -1.2 2.8 -1.3 2.8 -1.5 3.2 -1.6 1.4 -1.7 2.3 -1.9 1 -1.9-.1 -2.1 .2 -2.1-1.3 -2.3-.9 -2.3-1.4 -2.4-2.4 -2.4-1.9 -2.4-1.9 -2.5-1.9 -2.5-.4 -2.5-2.5 -2.5 .2 -2.4-1 -2.4 .1 -2.4 .2 -2.3 1.2 -2.3-1.5 -2.1-.4 -2.1-.3 -1.9-1.1 -1.9-1.3 -1.7-.3 -1.6-1.4 -1.5-1.8 -1.3-1.6 -1.2-1.2 -1-2.3 -.8-1.9 -.7-1.4 -.6-1.7 -.3 .1 -.2-.2 0 .5 .2 .7 .3 2.4 .6 2.1 .7 2.9 .8 3.5 1 3.1 1.2 2.4 1.3 3.5 1.5 3 1.6 2.5 1.7 1.8 1.9 1.9 1.9 .8 2.1-.1 2.1 .2 2.3-2.1 2.3-1.2 2.4-2.4 2.4-1.3 2.4-1.4 2.5-1.1zM409.5 145.8l2.5 .2 2.5-.5 2.5-1.5 2.5-.3 2.4-.5 2.4 .4 2.2-.9 2.2 .4 2.1-1.3 2-.6 1.9-.6 1.8-1.6 1.6-1.4 1.5-.1 1.3-1.5 1.2-1.6 1-.8 .9-1.1 .7-1.6 .5-.7 .4-1 .2-.1 0 .1 -.2 1.1 -.4 1.8 -.5 2 -.7 2 -.9 3.2 -1 3.7 -1.2 2.3 -1.3 2.4 -1.5 2 -1.6 2.1 -1.8 2.3 -1.9 .9 -2 1.5 -2.1-.9 -2.2-.3 -2.2-1.5 -2.4-1.6 -2.4-2.4 -2.5-2.2 -2.5-1.9 -2.5-1.5 -2.5-1.7 -2.5-1.5 -2.5-.4 -2.5 .2 -2.5 .2 -2.4 .5 -2.4 .6 -2.2 1 -2.2-1 -2.1-.7 -2-.2 -1.9-1 -1.8-1.6 -1.6-1.9 -1.5-1.3 -1.3-1.5 -1.2-2.8 -1-1.4 -.9-1.8 -.7-1.2 -.5-1 -.4-1.1 -.2 0 0 .8 .2 1.5 .4 2.2 .5 2.1 .7 3.7 .9 2.7 1 3.5 1.2 3 1.3 3.5 1.5 2.3 1.6 3 1.8 1.4 1.9 1.7 2 .2 2.1 .2 2.2 .2 2.2-.7 2.4-1.3 2.4-1.9 2.5-2.5 2.5-1.1 2.5-.5zM409.5 142.7l2.5 .6 2.4-.9 2.5-.3 2.4 .4 2.3-1.2 2.3 1 2.2 .3 2.2-.9 2-.6 2 .1 1.8-1.6 1.7-.6 1.6-.4 1.5-.6 1.3-1.4 1.2-1.6 1-1.1 .8-1.9 .7-1.4 .5-.6 .4-.8 .1 0 0 .5 -.1 1.1 -.4 1.5 -.5 2.2 -.7 3.1 -.8 2.7 -1 2.8 -1.2 3 -1.3 2.8 -1.5 1.9 -1.6 1.6 -1.7 2.5 -1.8 2.1 -2-.2 -2 .4 -2.2-.7 -2.2-1.7 -2.3-1.1 -2.3-2.1 -2.4-2.1 -2.5-.7 -2.4-2.8 -2.5-1.4 -2.5-1.2 -2.4 .3 -2.5 1 -2.4-.9 -2.3 1.1 -2.3-1 -2.2-.7 -2.2-.9 -2-.3 -2-.4 -1.8-2.5 -1.7-.2 -1.6-1.1 -1.5-1.7 -1.3-2.7 -1.2-1.7 -1-1.5 -.8-2.3 -.7-1.1 -.5-1.5 -.4-.5 -.1-.3 0 .5 .1 1.1 .4 2 .5 2.4 .7 2.4 .8 3.8 1 3.2 1.2 2.6 1.3 3.4 1.5 3.2 1.6 1.8 1.7 2.5 1.8 .7 2 1.4 2 1.2 2.2-.7 2.2-1.1 2.3-1.5 2.3-2.7 2.4-2.2 2.5-1.5 2.4-2.4zM409.5 141.5l2.5-.1 2.5-1.4 2.4-.2 2.5 .9 2.4 .4 2.3-.1 2.2 1 2.2-.4 2.1-1.3 1.9-.2 1.9-.6 1.7 .8 1.6-2.3 1.5-.8 1.3-.7 1.2-1.1 1-1.6 .9-.8 .7-2.1 .5-.4 .3-1.1 .2 .4 0 .5 -.2 .8 -.3 1.9 -.5 2.1 -.7 2.5 -.9 3.2 -1 2.1 -1.2 4 -1.3 1.5 -1.5 3.7 -1.6 1.1 -1.7 1.2 -1.9 1 -1.9 1.3 -2.1-1.3 -2.2 .9 -2.2-1.8 -2.3-1.6 -2.4-1.8 -2.5-1.9 -2.4-1.3 -2.5-1.5 -2.5-1.3 -2.5-2 -2.5 1.4 -2.4-.6 -2.5 .2 -2.4-.6 -2.3 1.2 -2.2-.7 -2.2-.1 -2.1-.6 -1.9-.5 -1.9-1.9 -1.7-2.1 -1.6-.7 -1.5-2.3 -1.3-1.3 -1.2-2.2 -1-1.2 -.9-1.6 -.7-3 -.5-1 -.3-.8 -.2-.6 0 .7 .2 1.4 .3 1.9 .5 1.8 .7 3.4 .9 3.3 1 3.3 1.2 2.5 1.3 3 1.5 2.7 1.6 3.3 1.7 1.6 1.9 .5 1.9 1.6 2.1-.2 2.2-.7 2.2-.4 2.3-2 2.4-1.4 2.5-1.9 2.4-3.3 2.5-1.2zM409.5 145.4l2.5-.3 2.5-1 2.5 .4 2.5-.4 2.4-1.3 2.3 0 2.3 .3 2.2 0 2.1 .4 2-1.7 1.9-.2 1.7-1.4 1.7-.6 1.4-1.5 1.4-1.3 1.2-1.5 1-1.9 .9-.8 .7-1.6 .5-1.3 .3-.7 .2 .1 0 .5 -.2 1.1 -.3 1.6 -.5 2.7 -.7 2.1 -.9 2.4 -1 3 -1.2 2.7 -1.4 2.6 -1.4 2 -1.7 2 -1.7 1.2 -1.9 1.7 -2 1.1 -2.1-.7 -2.2 .2 -2.3-.9 -2.3-2.1 -2.4-2 -2.5-1.6 -2.5-2.9 -2.5-1.4 -2.5-.7 -2.5-.8 -2.5-.3 -2.5-1.7 -2.5 1.7 -2.4-1.2 -2.3 .4 -2.3-.8 -2.2-.1 -2.1-1.2 -2-.4 -1.9-.9 -1.7-.8 -1.7-1.6 -1.4-1.6 -1.4-2.1 -1.2-1.5 -1-1.6 -.9-1.6 -.7-1.1 -.5-1.7 -.3-.4 -.2 0 0 .7 .2 1.1 .3 2.1 .5 2.7 .7 3.1 .9 3.6 1 2.8 1.2 3.4 1.4 3.4 1.4 2.3 1.7 3.8 1.7 2.1 1.9 1.1 2 1.7 2.1-.2 2.2 .3 2.3-.7 2.3-2.1 2.4-1.8 2.5-1.9 2.5-2.8 2.5-2.2zM409.5 146.1l2.5-2.5 2.5 1.3 2.4-3 2.4 .1 2.4 0 2.3-1.1 2.2 0 2.2-.6 2-1.6 2 0 1.9-.9 1.7-.7 1.6-.6 1.4-2 1.4-.9 1.1-1 1-1.7 .9-.8 .7-1.3 .5-.3 .3-1.2 .2 .4 0 .3 -.2 1.4 -.3 1.6 -.5 2.1 -.7 2.3 -.9 3.5 -1 2.7 -1.1 2.9 -1.4 3.6 -1.4 2.9 -1.6 1 -1.7 1.4 -1.9 2.2 -2 1.3 -2 .5 -2.2-.7 -2.2-1.5 -2.3-1.1 -2.4-1.8 -2.4-2.2 -2.4-1.2 -2.5-2.1 -2.5-1 -2.5-.7 -2.5-.5 -2.4-1.5 -2.4 .8 -2.4-.3 -2.3 .6 -2.2-1.5 -2.2 0 -2 .2 -2-2.1 -1.9-1.6 -1.7-1 -1.6-1.5 -1.4-1.4 -1.4-1.7 -1.1-1.7 -1-2.2 -.9-1.9 -.7-1.4 -.5-.9 -.3-.5 -.2-.3 0 1.1 .2 .9 .3 2.2 .5 2.8 .7 3 .9 3.5 1 3.2 1.1 3.8 1.4 2.9 1.4 4.1 1.6 2.1 1.7 2.4 1.9 2.1 2 .2 2 .7 2.2-1.5 2.2 .5 2.3-1.5 2.4-2.5 2.4-2.5 2.4-3.5 2.5-.6zM409.5 144.4l2.5-1.9 2.5 .5 2.4-.2 2.5-.4 2.3 .2 2.4 .4 2.2-.6 2.2 .9 2-1.8 2-.2 1.9-.7 1.7-1.2 1.6-1.3 1.5-.7 1.3-1.3 1.2-.9 1-2.4 .8-.7 .7-1.6 .5-.8 .4-.3 .2-.2 0 .5 -.2 1.6 -.4 .9 -.5 2.5 -.7 2.9 -.8 2.1 -1 2.9 -1.2 2.8 -1.3 2.7 -1.5 2.2 -1.6 1.6 -1.7 2 -1.9 1.6 -2-.5 -2 .6 -2.2-.4 -2.2-1.5 -2.4-.9 -2.3-2.5 -2.5-.8 -2.4-3.3 -2.5-.2 -2.5-.9 -2.5-2 -2.5-1.1 -2.4 .2 -2.5 .4 -2.3-1 -2.4 .8 -2.2-.1 -2.2 0 -2-1.5 -2-.5 -1.9-1.1 -1.7-1.2 -1.6-1.3 -1.5-1.1 -1.3-1.3 -1.2-1.6 -1-2 -.8-2.2 -.7-1.2 -.5-1.3 -.4-.7 -.2-.6 0 .6 .2 1.5 .4 1.9 .5 2.6 .7 3.2 .8 2.7 1 3.4 1.2 3.6 1.3 3 1.5 2.7 1.6 2.3 1.7 3 1.9 .5 2 .8 2 1.1 2.2-1.2 2.2-.6 2.4-2.1 2.3-1.5 2.5-3.5 2.4-.3 2.5-2.7zM409.5 144.4l2.5-1.8 2.5-.8 2.4 .6 2.5-1.1 2.3 .4 2.3 .5 2.3-.1 2.2-.1 2 .3 2-.7 1.8-.2 1.8-1.1 1.6-1.5 1.4-.6 1.4-1 1.1-1.7 1.1-1.8 .8-1.4 .7-.9 .5-1.2 .4-.8 .1 .7 0 .1 -.1 1.3 -.4 1.9 -.5 2.1 -.7 2.2 -.8 2.8 -1.1 2.5 -1.1 2.9 -1.4 1.6 -1.4 3 -1.6 2.4 -1.8 1.3 -1.8 1.7 -2-.6 -2 .2 -2.2-1.9 -2.3-.1 -2.3-2.2 -2.3-2.2 -2.5-.8 -2.4-3.2 -2.5-.6 -2.5-1.9 -2.5 .4 -2.5-1.2 -2.4 .5 -2.5-.7 -2.3 0 -2.3 .1 -2.3 .7 -2.2-1 -2 .2 -2-1.4 -1.8-.1 -1.8-1.2 -1.6-1.3 -1.4-2.1 -1.4-1.8 -1.1-1.4 -1.1-2.2 -.8-1.9 -.7-1.2 -.5-1.5 -.4-.5 -.1 0 0-.1 .1 1.6 .4 1.8 .5 1.9 .7 2.8 .8 3.4 1.1 3.4 1.1 2.9 1.4 3.5 1.4 3.5 1.6 1.4 1.8 3 1.8 1.3 2 1.6 2 .5 2.2-1.9 2.3-1.1 2.3-1.5 2.3-2.6 2.5-1.5 2.4-2.8 2.5-.6zM409.5 143l2.5 .4 2.5-.5 2.5-1.5 2.5 1.7 2.4-.8 2.3 .3 2.3 .4 2.2-.9 2.1-.1 2 0 1.9 .2 1.7-1.5 1.7-1 1.5-1 1.3-.9 1.2-1.8 1-1.7 .9-1.1 .7-1.1 .5-1.4 .4-1.1 .1 .2 0 .1 -.1 1.1 -.4 1.9 -.5 2.2 -.7 2.8 -.9 2.9 -1 2.2 -1.2 3 -1.3 1.8 -1.5 3.3 -1.7 1.5 -1.7 1.9 -1.9 1.1 -2 .3 -2.1-.2 -2.2-.2 -2.3-2.3 -2.3-.2 -2.4-1.5 -2.5-3.1 -2.5-1 -2.5-2 -2.5-1.3 -2.5-.5 -2.5 .1 -2.5 .3 -2.5-1.3 -2.4 .9 -2.3 .4 -2.3-.1 -2.2-1 -2.1-1.4 -2-.9 -1.9-.5 -1.7-2.1 -1.7-1.3 -1.5-1.6 -1.3-1.9 -1.2-1.6 -1-1.9 -.9-2.3 -.7-.8 -.5-1.4 -.4-1 -.1-.3 0 .6 .1 1.3 .4 1.9 .5 2.7 .7 2.7 .9 3 1 3.2 1.2 2.6 1.3 3.3 1.5 2.8 1.7 3.3 1.7 1.7 1.9 1.6 2 1 2.1-.5 2.2-.1 2.3-1 2.3-.4 2.4-2.7 2.5-1.9 2.5-2.3 2.5-.6zM409.5 142.6l2.5-1.1 2.5 .2 2.5-.7 2.5 .5 2.4 .4 2.3-.5 2.3 1.4 2.2-.8 2.1 0 1.9-.7 1.9-1.7 1.8-.3 1.6-1.7 1.5-.1 1.3-1.8 1.2-1.1 1-1.9 .9-1 .7-1 .5-.6 .4-.8 .1-.1 0 .8 -.1 1 -.4 1.8 -.5 2.6 -.7 2.7 -.9 2.4 -1 3 -1.2 3.3 -1.3 2.4 -1.5 2 -1.6 2.3 -1.8 1.7 -1.9 1.6 -1.9-.7 -2.1 1.3 -2.2-2.4 -2.3-.6 -2.3 0 -2.4-2.5 -2.5-1.9 -2.5-1.9 -2.5-1 -2.5-1.9 -2.5-.4 -2.5-1.7 -2.5 1.5 -2.5-.7 -2.4-.4 -2.3-.2 -2.3-1.3 -2.2 1.3 -2.1-1.3 -1.9-1.3 -1.9-.2 -1.8-2.4 -1.6-1 -1.5-.5 -1.3-2.5 -1.2-1.3 -1-1.8 -.9-2.1 -.7-1.6 -.5-1.5 -.4-.8 -.1-.2 0 .2 .1 1.5 .4 1 .5 3.1 .7 2.2 .9 3.3 1 3.6 1.2 2.5 1.3 4.1 1.5 2.3 1.6 3.2 1.8 1.6 1.9 1.2 1.9 .9 2.1 .1 2.2-.5 2.3-.4 2.3-3.2 2.4-2.8 2.5-1.5 2.5-2.5 2.5-.8zM409.5 143.7l2.6 .4 2.5-.9 2.5-1.4 2.5 .1 2.5 .7 2.4 .4 2.3 .1 2.2-.7 2.1-.9 2 .2 1.9-.7 1.8-1.6 1.7-1.8 1.5-.1 1.3-1.9 1.2-1.4 1.1-1 .9-1.5 .7-.9 .5-1.4 .4-.5 .1-.1 0 .5 -.1 1.3 -.4 1.5 -.5 2 -.7 2.9 -.9 2.8 -1.1 3.1 -1.2 2.6 -1.3 2.9 -1.5 2.3 -1.7 1.5 -1.8 2.4 -1.9 .5 -2-.1 -2.1 .9 -2.2-1 -2.3-.8 -2.4 0 -2.5-3.1 -2.5-2.2 -2.5-1.5 -2.5-1.1 -2.6-.5 -2.6-1.4 -2.5-1.5 -2.5 .7 -2.5 .3 -2.5 0 -2.4-.8 -2.3 .3 -2.2-.5 -2.1-1.4 -2-.5 -1.9-.1 -1.8-2.4 -1.7-1.1 -1.5-1.1 -1.3-2.3 -1.2-1.4 -1.1-2 -.9-1.8 -.7-.8 -.5-2.3 -.4-.9 -.1 .1 0 .7 .1 .5 .4 1.9 .5 2.7 .7 2.9 .9 3.1 1.1 3.1 1.2 3.6 1.3 2.5 1.5 3.9 1.7 2.2 1.8 2.8 1.9 1.6 2 .2 2.1 .9 2.2-2.1 2.3 0 2.4-1.1 2.5-2.2 2.5-2.8 2.5-1.5 2.5-1.5zM409.5 141.9l2.5-.2 2.5 1.2 2.5-1.9 2.5-.1 2.4 0 2.3 1.6 2.3-.9 2.2 .2 2.1 .3 2-.3 1.9-1.2 1.7-1.3 1.7-.7 1.4-.7 1.4-1.2 1.2-1.1 1-1.6 .9-1.3 .7-1.6 .5-.8 .3-.8 .2-.2 0 .7 -.2 1.1 -.3 1.7 -.5 2.5 -.7 2.4 -.9 3.2 -1 2.7 -1.2 3.1 -1.4 2.1 -1.4 3 -1.7 1.3 -1.7 1.8 -1.9 1 -2 .4 -2.1-.2 -2.2 0 -2.3-2.3 -2.3-1.1 -2.4-2.9 -2.5-2.3 -2.5-1.4 -2.5-1.1 -2.5-1.9 -2.5-.8 -2.5 .8 -2.5-.7 -2.5 .9 -2.4-.2 -2.3-.6 -2.3 .1 -2.2-.7 -2.1-.8 -2-.7 -1.9-.7 -1.7-.9 -1.7-1.7 -1.4-1.6 -1.4-1.5 -1.2-1.2 -1-2.3 -.9-1.6 -.7-1.3 -.5-1.8 -.3-1 -.2-.3 0 .9 .2 .9 .3 1.1 .5 2.9 .7 3.4 .9 3.2 1 3.2 1.2 3.4 1.4 1.9 1.4 3.7 1.7 2 1.7 1.9 1.9 2.3 2 .5 2.1-.2 2.2 0 2.3-.8 2.3-2.1 2.4-1.5 2.5-2.2 2.5-2.3 2.5-1.5zM409.5 144.9l2.5-1.1 2.6 .3 2.5-.2 2.5-1.2 2.4 1.1 2.3-.7 2.3 0 2.2 1.1 2.2-1.6 2-.2 1.9-.9 1.7-.1 1.7-.8 1.5-2.3 1.3-.9 1.2-.8 1-1.6 .9-2 .7-1.6 .5-.7 .4-1.4 .2 .2 0 .4 -.2 .8 -.4 2.1 -.5 2.4 -.7 2.4 -.9 3.2 -1 2.2 -1.2 4 -1.3 2.2 -1.5 1.9 -1.7 2.2 -1.7 1.2 -1.9 .4 -2 1.5 -2.2-.6 -2.2-.5 -2.3-1.1 -2.3-1.3 -2.4-3.3 -2.5-.6 -2.5-3.1 -2.6-.4 -2.5-2.3 -2.5-1.4 -2.6 .5 -2.5-.9 -2.5 1.3 -2.4 .4 -2.3-.3 -2.3 0 -2.2-.1 -2.2-.9 -2-1.6 -1.9-.5 -1.7-2.2 -1.7-1.1 -1.5-1.7 -1.3-1.5 -1.2-1.5 -1-1.9 -.9-1.6 -.7-1.8 -.5-.9 -.4-1 -.2-.3 0 .6 .2 .9 .4 1.9 .5 2.2 .7 3.6 .9 2.5 1 3.7 1.2 2.4 1.3 3.2 1.5 2 1.7 3.4 1.7 2.4 1.9 .1 2 2.4 2.2 1 2.2-1.4 2.3-1 2.3-.2 2.4-2.4 2.5-2.4 2.5-1.1 2.6-.8zM409.5 143.2l2.5-.9 2.4-.2 2.4 .5 2.4 .1 2.4 0 2.3 .9 2.2-.5 2.1 .8 2 .5 2-1.2 1.8-1 1.7-1 1.6-1.4 1.5-1.3 1.3-1.1 1.1-.9 1-1.6 .9-2 .6-.8 .6-1.5 .3-.4 .2-.4 0 .8 -.2 .5 -.3 2 -.6 2.5 -.6 2.3 -.9 2.6 -1 3 -1.1 2.2 -1.3 2.6 -1.5 2.9 -1.6 .9 -1.7 1.1 -1.8 1.8 -2 .2 -2 .5 -2.1 0 -2.2-1 -2.3-1.7 -2.4-1.9 -2.4-2.1 -2.4-1.7 -2.4-1.2 -2.5-1.7 -2.5-1.7 -2.4 .3 -2.4-1.7 -2.4 .9 -2.4 .5 -2.3-1.1 -2.2 .8 -2.1-.7 -2-.7 -2 .6 -1.8-1.6 -1.7-1.4 -1.6-1 -1.5-1.2 -1.3-2.2 -1.1-2 -1-1.9 -.9-1.7 -.6-1.7 -.6-.8 -.3-1.4 -.2-.5 0 .7 .2 1.1 .3 1.8 .6 2.3 .6 2.8 .9 3.4 1 3.1 1.1 4.1 1.3 2.3 1.5 3.6 1.6 2 1.7 2.4 1.8 .4 2 2.2 2-1 2.1-1.5 2.2-.6 2.3-2.8 2.4-.6 2.4-3 2.4-1.2 2.4-1.2zM409.5 145.3l2.5-.5 2.5-.6 2.4 0 2.4-1.2 2.4 1.5 2.3-.9 2.3 1.2 2.1-2.1 2.1-.6 1.9-.5 1.9-.9 1.7-.2 1.6-1.4 1.5-.8 1.3-2 1.2-1.8 1-1.5 .9-.4 .6-1.9 .6-.9 .3-.7 .2-.1 0 .6 -.2 1.3 -.3 1.8 -.6 1.9 -.6 2.3 -.9 3.4 -1 2.6 -1.2 3.1 -1.3 2.9 -1.5 2.5 -1.6 2.9 -1.7 1.6 -1.9 1.6 -1.9-1.1 -2.1 1.3 -2.1-1.3 -2.3-1.4 -2.3-2.6 -2.4-2.7 -2.4-2 -2.4-1.5 -2.5-2.1 -2.5-1 -2.5-1.9 -2.5-.6 -2.4 1.7 -2.4-.8 -2.4-.3 -2.3 .4 -2.3-.2 -2.1 0 -2.1-.2 -1.9-1.6 -1.9-.2 -1.7-1 -1.6-1.2 -1.5-1.4 -1.3-2.8 -1.2-1.2 -1-1.5 -.9-1.8 -.6-1.8 -.6-.9 -.3-.8 -.2 0 0 .4 .2 1.4 .3 2.2 .6 1.8 .6 2.7 .9 3.4 1 3.3 1.2 2.4 1.3 3.6 1.5 2.1 1.6 2.4 1.7 2.7 1.9 1.5 1.9 .5 2.1 .7 2.1-.5 2.3-1.2 2.3-2 2.4-1.3 2.4-1.4 2.4-.8 2.5-2.3zM409.5 142.8l2.5-.1 2.6-.6 2.5-.3 2.4 0 2.4 .4 2.4 1 2.3-.5 2.2-.3 2.1-.2 2-.2 1.9-1.7 1.7-.6 1.7-.5 1.5-2.5 1.3-.9 1.2-1.7 1-1.3 .9-1.4 .7-1.5 .5-.7 .4-.3 .2-.1 0 .7 -.2 1.2 -.4 1.6 -.5 2.2 -.7 2.6 -.9 3.1 -1 2.8 -1.2 2.3 -1.3 2.9 -1.5 2.3 -1.7 2.6 -1.7 1.7 -1.9 .7 -2 .3 -2.1-.7 -2.2-.2 -2.3-.2 -2.4-1.4 -2.4-2.8 -2.4-1.4 -2.5-2.3 -2.6-1 -2.5-2 -2.5 .5 -2.6 .1 -2.5-.4 -2.4-1.2 -2.4 2 -2.4-1.8 -2.3 1.4 -2.2-1.5 -2.1-.1 -2-1.3 -1.9-.8 -1.7-.8 -1.7-2.6 -1.5-1.3 -1.3-1.6 -1.2-2 -1-.8 -.9-2.6 -.7-1.8 -.5-1.3 -.4-.5 -.2-.5 0 .4 .2 1.1 .4 2.4 .5 2.2 .7 2.9 .9 2.6 1 3.4 1.2 3.7 1.3 2.9 1.5 2.9 1.7 3.5 1.7 1.5 1.9 .9 2 .7 2.1 .5 2.2 0 2.3-1.9 2.4-2.7 2.4-1.8 2.4-2.1 2.5-1.6 2.6-1.7zM409.5 144.5l2.5-2.4 2.4 .2 2.4-.8 2.4 .2 2.4-.2 2.2 .5 2.3-.4 2.1 0 2 .6 2-.2 1.8 .1 1.7-2 1.6-1.7 1.4-.4 1.3-1.7 1.2-.9 1-1.7 .8-1.2 .7-1.4 .5-1.4 .4-.5 .1 .4 0 .5 -.1 .9 -.4 1.5 -.5 2.4 -.7 2.1 -.8 3.4 -1 2.7 -1.2 2.5 -1.3 3.1 -1.4 3.1 -1.6 1.3 -1.7 1 -1.8 1.9 -2 .4 -2 .2 -2.1-1.6 -2.3-.8 -2.2-.7 -2.4-2.1 -2.4-1.9 -2.4-2.4 -2.4-.6 -2.5-1.2 -2.5-1.1 -2.4-1.1 -2.4 0 -2.4 .2 -2.4-.5 -2.2 1 -2.3-1.5 -2.1 .2 -2-.5 -2-1.4 -1.8-1.3 -1.7-1.4 -1.6-1 -1.4-2.4 -1.3-1.4 -1.2-1.1 -1-3 -.8-1.4 -.7-1.2 -.5-.9 -.4-1.2 -.1 .6 0 .3 .1 1 .4 2.1 .5 1.9 .7 3.3 .8 2.9 1 3.7 1.2 3.3 1.3 3.1 1.4 2.4 1.6 2.6 1.7 2.7 1.8 1.2 2 1.2 2-.7 2.1 .8 2.3-1.4 2.2-.8 2.4-4.1 2.4-1.4 2.4-2.8 2.4 0z" fill="none" stroke="#4000ff" stroke-width="0.8" stroke-linejoin="round"/>
</g>
<text x="313.2" y="86.6" class="nm" text-anchor="middle">3</text>
<text x="342.3" y="115.7" class="nm" text-anchor="middle">2</text>
<text x="369.2" y="141.4" class="nm" text-anchor="middle">1</text>
<path d="M299.70 170.60v-1.8M299.70 26.70v1.8M311.90 170.60v-3.0M311.90 26.70v3.0M324.10 170.60v-1.8M324.10 26.70v1.8M336.30 170.60v-1.8M336.30 26.70v1.8M348.50 170.60v-1.8M348.50 26.70v1.8M360.70 170.60v-3.0M360.70 26.70v3.0M372.90 170.60v-1.8M372.90 26.70v1.8M385.10 170.60v-1.8M385.10 26.70v1.8M397.30 170.60v-1.8M397.30 26.70v1.8M409.50 170.60v-3.0M409.50 26.70v3.0M421.70 170.60v-1.8M421.70 26.70v1.8M433.90 170.60v-1.8M433.90 26.70v1.8M446.10 170.60v-1.8M446.10 26.70v1.8M458.30 170.60v-3.0M458.30 26.70v3.0M470.50 170.60v-1.8M470.50 26.70v1.8M482.70 170.60v-1.8M482.70 26.70v1.8M494.90 170.60v-1.8M494.90 26.70v1.8M507.10 170.60v-3.0M507.10 26.70v3.0M519.30 170.60v-1.8M519.30 26.70v1.8M292.50 165.08h1.8M525.70 165.08h-1.8M292.50 159.30h3.0M525.70 159.30h-3.0M292.50 153.52h1.8M525.70 153.52h-1.8M292.50 147.74h1.8M525.70 147.74h-1.8M292.50 141.96h1.8M525.70 141.96h-1.8M292.50 136.18h1.8M525.70 136.18h-1.8M292.50 130.40h3.0M525.70 130.40h-3.0M292.50 124.62h1.8M525.70 124.62h-1.8M292.50 118.84h1.8M525.70 118.84h-1.8M292.50 113.06h1.8M525.70 113.06h-1.8M292.50 107.28h1.8M525.70 107.28h-1.8M292.50 101.50h3.0M525.70 101.50h-3.0M292.50 95.72h1.8M525.70 95.72h-1.8M292.50 89.94h1.8M525.70 89.94h-1.8M292.50 84.16h1.8M525.70 84.16h-1.8M292.50 78.38h1.8M525.70 78.38h-1.8M292.50 72.60h3.0M525.70 72.60h-3.0M292.50 66.82h1.8M525.70 66.82h-1.8M292.50 61.04h1.8M525.70 61.04h-1.8M292.50 55.26h1.8M525.70 55.26h-1.8M292.50 49.48h1.8M525.70 49.48h-1.8M292.50 43.70h3.0M525.70 43.70h-3.0M292.50 37.92h1.8M525.70 37.92h-1.8M292.50 32.14h1.8M525.70 32.14h-1.8" stroke="#1c1c1c" stroke-width="0.9" fill="none"/>
<path d="M409.50 26.70V170.60" stroke="#1c1c1c" stroke-width="1.1"/>
<rect x="292.50" y="26.70" width="233.20" height="143.90" fill="none" stroke="#1c1c1c" stroke-width="1.2"/>
<text x="311.20" y="185.90" text-anchor="middle" class="tk">−0.4</text>
<text x="360.00" y="185.90" text-anchor="middle" class="tk">−0.2</text>
<text x="409.50" y="185.90" text-anchor="middle" class="tk">0.0</text>
<text x="458.30" y="185.90" text-anchor="middle" class="tk">0.2</text>
<text x="507.10" y="185.90" text-anchor="middle" class="tk">0.4</text>
<text x="290.60" y="164.60" text-anchor="end" class="tk">10</text>
<text x="290.60" y="135.70" text-anchor="end" class="tk">11</text>
<text x="290.60" y="106.80" text-anchor="end" class="tk">12</text>
<text x="290.60" y="77.90" text-anchor="end" class="tk">13</text>
<text x="290.60" y="49.00" text-anchor="end" class="tk">14</text>
</g>
<g id="pf">
<clipPath id="clipf"><rect x="292.50" y="194.60" width="233.20" height="144.15"/></clipPath>
<text x="311.30" y="331.30" class="ui">U</text><text x="320.90" y="324.00" class="usup">(l)</text><text x="321.50" y="334.60" class="usub">0</text><path d="M339.00 319.40L333.40 334.00" stroke="#000" stroke-width="1"/><text x="339.60" y="331.30" class="ui">k</text><text x="346.90" y="333.30" class="usubi">B</text><text x="352.90" y="331.30" class="ui">T</text><text x="365.60" y="331.30" class="un">=</text><text x="376.40" y="331.30" class="un">33</text>
<g clip-path="url(#clipf)">
<path d="M409.50 327.50C411.53 325.83 418.28 320.42 421.70 317.50C425.12 314.58 427.23 312.63 430.00 310.00C432.77 307.37 435.80 304.48 438.30 301.70C440.80 298.92 442.77 296.08 445.00 293.30C447.23 290.52 449.87 287.13 451.70 285.00C453.53 282.87 454.62 281.92 456.00 280.50C457.38 279.08 458.33 277.48 460.00 276.50C461.67 275.52 463.92 275.02 466.00 274.60C468.08 274.18 469.33 274.31 472.50 274.00C475.67 273.69 480.83 273.58 485.00 272.75C489.17 271.92 493.33 270.67 497.50 269.00C501.67 267.33 506.88 264.62 510.00 262.75C513.12 260.88 514.93 259.11 516.25 257.75C517.57 256.39 518.11 255.43 517.90 254.60C517.69 253.77 516.32 253.10 515.00 252.75C513.68 252.40 511.88 252.29 510.00 252.50C508.12 252.71 505.83 253.43 503.75 254.00C501.67 254.57 499.58 255.38 497.50 255.90C495.42 256.42 493.33 256.68 491.25 257.10C489.17 257.52 487.08 257.98 485.00 258.40C482.92 258.82 481.25 259.13 478.75 259.60C476.25 260.07 473.96 260.67 470.00 261.20C466.04 261.73 460.00 262.43 455.00 262.80C450.00 263.17 445.00 263.27 440.00 263.40C435.00 263.53 430.08 263.58 425.00 263.60C419.92 263.62 412.08 263.52 409.50 263.50" fill="none" stroke="#ff0000" stroke-width="0.7" stroke-linejoin="round" stroke-linecap="round" />
<defs><path id="fr" d="M409.50 250.10L415.02 247.09L420.53 243.50L426.00 239.50L431.43 235.29L436.81 231.08L442.10 227.05L447.31 223.35L452.41 220.07L457.40 217.26L462.25 214.90L466.96 212.95L471.51 211.35L475.89 210.00L480.09 208.87L484.10 207.91L487.90 207.12L491.49 206.53L494.85 206.20L497.98 206.18L500.87 206.54L503.50 207.32L505.88 208.53L507.99 210.14L509.84 212.08L511.41 214.26L512.69 216.58L513.70 218.92L514.42 221.18L514.86 223.31L515.00 225.26L514.86 227.04L514.42 228.68L513.70 230.24L512.69 231.79L511.41 233.38L509.84 235.06L507.99 236.82L505.88 238.64L503.50 240.47L500.87 242.23L497.98 243.83L494.85 245.21L491.49 246.31L487.90 247.13L484.10 247.69L480.09 248.06L475.89 248.34L471.51 248.63L466.96 249.04L462.25 249.62L457.40 250.42L452.41 251.39L447.31 252.47L442.10 253.51L436.81 254.34L431.43 254.80L426.00 254.71L420.53 253.93L415.02 252.40L409.50 250.10L403.98 247.09L398.47 243.50L393.00 239.50L387.57 235.29L382.19 231.08L376.90 227.05L371.69 223.35L366.59 220.07L361.60 217.26L356.75 214.90L352.04 212.95L347.49 211.35L343.11 210.00L338.91 208.87L334.90 207.91L331.10 207.12L327.51 206.53L324.15 206.20L321.02 206.18L318.13 206.54L315.50 207.32L313.12 208.53L311.01 210.14L309.16 212.08L307.59 214.26L306.31 216.58L305.30 218.92L304.58 221.18L304.14 223.31L304.00 225.26L304.14 227.04L304.58 228.68L305.30 230.24L306.31 231.79L307.59 233.38L309.16 235.06L311.01 236.82L313.12 238.64L315.50 240.47L318.13 242.23L321.02 243.83L324.15 245.21L327.51 246.31L331.10 247.13L334.90 247.69L338.91 248.06L343.11 248.34L347.49 248.63L352.04 249.04L356.75 249.62L361.60 250.42L366.59 251.39L371.69 252.47L376.90 253.51L382.19 254.34L387.57 254.80L393.00 254.71L398.47 253.93L403.98 252.40Z"/></defs>
<g stroke="#ff0000" stroke-width="1.5" fill="none" stroke-linejoin="round"><use href="#fr" x="0.8" y="-8.9"/><use href="#fr" x="1.5" y="-8.0"/><use href="#fr" x="1.6" y="-7.4"/><use href="#fr" x="-0.1" y="-7.1"/><use href="#fr" x="0.6" y="-5.8"/><use href="#fr" x="-1.7" y="-5.1"/><use href="#fr" x="-1.1" y="-4.7"/><use href="#fr" x="0.3" y="-3.9"/><use href="#fr" x="-1.3" y="-3.5"/><use href="#fr" x="2.0" y="-2.6"/><use href="#fr" x="-1.6" y="-1.6"/><use href="#fr" x="-1.7" y="-0.9"/><use href="#fr" x="-1.8" y="-0.3"/><use href="#fr" x="1.8" y="0.1"/><use href="#fr" x="-1.4" y="0.9"/><use href="#fr" x="1.8" y="2.1"/><use href="#fr" x="2.2" y="2.4"/><use href="#fr" x="0.8" y="3.2"/><use href="#fr" x="2.0" y="3.8"/><use href="#fr" x="2.1" y="4.8"/><use href="#fr" x="-0.9" y="5.6"/><use href="#fr" x="-1.4" y="6.0"/><use href="#fr" x="-1.7" y="6.6"/><use href="#fr" x="0.4" y="7.4"/><use href="#fr" x="0.6" y="7.9"/><use href="#fr" x="-0.6" y="8.8"/><use href="#fr" x="-0.9" y="9.9" stroke-width="0.6"/><use href="#fr" x="-1.6" y="9.9" stroke-width="0.6"/><use href="#fr" x="-2.3" y="10.6" stroke-width="0.6"/></g>
<path d="M410.20 328.10C412.23 326.43 418.98 321.02 422.40 318.10C425.82 315.18 427.93 313.23 430.70 310.60C433.47 307.97 436.50 305.08 439.00 302.30C441.50 299.52 443.47 296.68 445.70 293.90C447.93 291.12 450.57 287.73 452.40 285.60C454.23 283.47 455.72 282.45 456.70 281.10C457.68 279.75 456.63 279.48 458.30 277.50C459.97 275.52 463.92 271.70 466.70 269.20C469.48 266.70 472.87 263.43 475.00 262.50C477.13 261.57 478.33 263.47 479.50 263.60C480.67 263.73 481.75 262.90 482.00 263.30C482.25 263.70 481.88 264.88 481.00 266.00C480.12 267.12 478.25 268.92 476.70 270.00C475.15 271.08 473.37 271.72 471.70 272.50C470.03 273.28 468.37 274.15 466.70 274.70C465.03 275.25 463.65 275.62 461.70 275.80C459.75 275.98 457.23 275.77 455.00 275.80C452.77 275.83 451.08 274.75 448.30 276.00C445.52 277.25 441.35 280.97 438.30 283.30C435.25 285.63 432.77 288.30 430.00 290.00C427.23 291.70 424.20 293.08 421.70 293.50C419.20 293.92 417.03 293.33 415.00 292.50C412.97 291.67 411.33 289.75 409.50 288.50C407.67 287.25 405.92 285.92 404.00 285.00C402.08 284.08 399.00 283.33 398.00 283.00" fill="none" stroke="#00ff00" stroke-width="0.7" stroke-linejoin="round" stroke-linecap="round" />
<defs><path id="fg" d="M409.50 275.54L413.15 273.96L416.80 271.83L420.42 269.21L424.01 266.19L427.57 262.89L431.07 259.41L434.51 255.89L437.89 252.42L441.19 249.09L444.40 245.98L447.52 243.12L450.53 240.55L453.43 238.26L456.21 236.27L458.86 234.55L461.37 233.11L463.74 231.93L465.97 231.02L468.04 230.37L469.95 229.99L471.69 229.88L473.27 230.02L474.66 230.42L475.88 231.06L476.92 231.92L477.77 232.96L478.44 234.16L478.92 235.51L479.20 236.96L479.30 238.52L479.20 240.16L478.92 241.88L478.44 243.68L477.77 245.55L476.92 247.48L475.88 249.45L474.66 251.44L473.27 253.42L471.69 255.34L469.95 257.18L468.04 258.88L465.97 260.43L463.74 261.82L461.37 263.05L458.86 264.14L456.21 265.14L453.43 266.09L450.53 267.05L447.52 268.07L444.40 269.18L441.19 270.38L437.89 271.67L434.51 272.99L431.07 274.27L427.57 275.42L424.01 276.32L420.42 276.87L416.80 276.97L413.15 276.54L409.50 275.54L405.85 273.96L402.20 271.83L398.58 269.21L394.99 266.19L391.43 262.89L387.93 259.41L384.49 255.89L381.11 252.42L377.81 249.09L374.60 245.98L371.48 243.12L368.47 240.55L365.57 238.26L362.79 236.27L360.14 234.55L357.63 233.11L355.26 231.93L353.03 231.02L350.96 230.37L349.05 229.99L347.31 229.88L345.73 230.02L344.34 230.42L343.12 231.06L342.08 231.92L341.23 232.96L340.56 234.16L340.08 235.51L339.80 236.96L339.70 238.52L339.80 240.16L340.08 241.88L340.56 243.68L341.23 245.55L342.08 247.48L343.12 249.45L344.34 251.44L345.73 253.42L347.31 255.34L349.05 257.18L350.96 258.88L353.03 260.43L355.26 261.82L357.63 263.05L360.14 264.14L362.79 265.14L365.57 266.09L368.47 267.05L371.48 268.07L374.60 269.18L377.81 270.38L381.11 271.67L384.49 272.99L387.93 274.27L391.43 275.42L394.99 276.32L398.58 276.87L402.20 276.97L405.85 276.54Z"/></defs>
<g stroke="#00ff00" stroke-width="1.5" fill="none" stroke-linejoin="round"><use href="#fg" x="-1.0" y="-6.6"/><use href="#fg" x="-1.4" y="-5.7"/><use href="#fg" x="-0.5" y="-5.0"/><use href="#fg" x="0.0" y="-4.5"/><use href="#fg" x="-0.3" y="-3.7"/><use href="#fg" x="-1.6" y="-2.9"/><use href="#fg" x="1.3" y="-2.0"/><use href="#fg" x="-1.2" y="-1.4"/><use href="#fg" x="1.9" y="-0.3"/><use href="#fg" x="-0.4" y="0.4"/><use href="#fg" x="-1.9" y="1.4"/><use href="#fg" x="-0.9" y="2.1"/><use href="#fg" x="-1.5" y="2.5"/><use href="#fg" x="1.2" y="3.3"/><use href="#fg" x="0.3" y="4.0"/><use href="#fg" x="-0.4" y="5.1"/><use href="#fg" x="-1.4" y="5.8"/><use href="#fg" x="-0.8" y="6.3"/><use href="#fg" x="-0.1" y="7.7" stroke-width="0.6"/><use href="#fg" x="-1.1" y="7.2" stroke-width="0.6"/><use href="#fg" x="-1.1" y="-7.6" stroke-width="0.6"/></g>
<path d="M408.90 328.30C410.93 326.63 417.68 321.22 421.10 318.30C424.52 315.38 426.63 313.43 429.40 310.80C432.17 308.17 435.20 305.28 437.70 302.50C440.20 299.72 443.32 294.80 444.40 294.10C445.48 293.40 443.97 297.87 444.20 298.30C444.43 298.73 445.62 296.58 445.80 296.70C445.98 296.82 445.85 298.03 445.30 299.00C444.75 299.97 443.93 300.95 442.50 302.50C441.07 304.05 438.78 306.50 436.70 308.30C434.62 310.10 432.23 311.85 430.00 313.30C427.77 314.75 425.10 316.38 423.30 317.00C421.50 317.62 420.45 317.47 419.20 317.00C417.95 316.53 417.00 315.20 415.80 314.20C414.60 313.20 412.63 311.53 412.00 311.00" fill="none" stroke="#4000ff" stroke-width="0.7" stroke-linejoin="round" stroke-linecap="round" />
<defs><path id="fb" d="M409.60 309.86L411.37 308.53L413.14 306.98L414.90 305.27L416.65 303.44L418.37 301.54L420.08 299.61L421.75 297.69L423.39 295.82L424.99 294.02L426.55 292.31L428.06 290.69L429.53 289.16L430.93 287.74L432.28 286.40L433.57 285.14L434.79 283.96L435.95 282.86L437.03 281.83L438.03 280.90L438.96 280.08L439.81 279.37L440.57 278.82L441.25 278.43L441.84 278.23L442.34 278.23L442.76 278.45L443.08 278.89L443.31 279.55L443.45 280.41L443.50 281.45L443.45 282.64L443.31 283.96L443.08 285.36L442.76 286.81L442.34 288.29L441.84 289.76L441.25 291.20L440.57 292.61L439.81 293.98L438.96 295.30L438.03 296.60L437.03 297.88L435.95 299.15L434.79 300.43L433.57 301.73L432.28 303.05L430.93 304.38L429.53 305.71L428.06 307.02L426.55 308.27L424.99 309.43L423.39 310.46L421.75 311.31L420.08 311.95L418.37 312.33L416.65 312.43L414.90 312.24L413.14 311.73L411.37 310.93L409.60 309.86L407.83 308.53L406.06 306.98L404.30 305.27L402.55 303.44L400.83 301.54L399.12 299.61L397.45 297.69L395.81 295.82L394.21 294.02L392.65 292.31L391.14 290.69L389.67 289.16L388.27 287.74L386.92 286.40L385.63 285.14L384.41 283.96L383.25 282.86L382.17 281.83L381.17 280.90L380.24 280.08L379.39 279.37L378.63 278.82L377.95 278.43L377.36 278.23L376.86 278.23L376.44 278.45L376.12 278.89L375.89 279.55L375.75 280.41L375.70 281.45L375.75 282.64L375.89 283.96L376.12 285.36L376.44 286.81L376.86 288.29L377.36 289.76L377.95 291.20L378.63 292.61L379.39 293.98L380.24 295.30L381.17 296.60L382.17 297.88L383.25 299.15L384.41 300.43L385.63 301.73L386.92 303.05L388.27 304.38L389.67 305.71L391.14 307.02L392.65 308.27L394.21 309.43L395.81 310.46L397.45 311.31L399.12 311.95L400.83 312.33L402.55 312.43L404.30 312.24L406.06 311.73L407.83 310.93Z"/></defs>
<g stroke="#4000ff" stroke-width="1.6" fill="none" stroke-linejoin="round"><use href="#fb" x="-0.2" y="-1.5"/><use href="#fb" x="0.7" y="-1.2"/><use href="#fb" x="0.0" y="-0.8"/><use href="#fb" x="-0.8" y="0.2"/><use href="#fb" x="0.2" y="0.5"/><use href="#fb" x="-0.2" y="0.7"/><use href="#fb" x="-0.1" y="1.6"/><use href="#fb" x="-0.5" y="1.7" stroke-width="0.6"/></g>
</g>
<text x="313.3" y="267.0" class="nm" text-anchor="middle">3</text>
<text x="347.3" y="286.3" class="nm" text-anchor="middle">2</text>
<text x="380.5" y="315.7" class="nm" text-anchor="middle">1</text>
<path d="M299.70 338.75v-1.8M299.70 194.60v1.8M311.90 338.75v-3.0M311.90 194.60v3.0M324.10 338.75v-1.8M324.10 194.60v1.8M336.30 338.75v-1.8M336.30 194.60v1.8M348.50 338.75v-1.8M348.50 194.60v1.8M360.70 338.75v-3.0M360.70 194.60v3.0M372.90 338.75v-1.8M372.90 194.60v1.8M385.10 338.75v-1.8M385.10 194.60v1.8M397.30 338.75v-1.8M397.30 194.60v1.8M409.50 338.75v-3.0M409.50 194.60v3.0M421.70 338.75v-1.8M421.70 194.60v1.8M433.90 338.75v-1.8M433.90 194.60v1.8M446.10 338.75v-1.8M446.10 194.60v1.8M458.30 338.75v-3.0M458.30 194.60v3.0M470.50 338.75v-1.8M470.50 194.60v1.8M482.70 338.75v-1.8M482.70 194.60v1.8M494.90 338.75v-1.8M494.90 194.60v1.8M507.10 338.75v-3.0M507.10 194.60v3.0M519.30 338.75v-1.8M519.30 194.60v1.8M292.50 338.04h1.8M525.70 338.04h-1.8M292.50 331.80h3.0M525.70 331.80h-3.0M292.50 325.56h1.8M525.70 325.56h-1.8M292.50 319.33h1.8M525.70 319.33h-1.8M292.50 313.10h1.8M525.70 313.10h-1.8M292.50 306.86h3.0M525.70 306.86h-3.0M292.50 300.62h1.8M525.70 300.62h-1.8M292.50 294.39h1.8M525.70 294.39h-1.8M292.50 288.16h1.8M525.70 288.16h-1.8M292.50 281.92h3.0M525.70 281.92h-3.0M292.50 275.69h1.8M525.70 275.69h-1.8M292.50 269.45h1.8M525.70 269.45h-1.8M292.50 263.22h1.8M525.70 263.22h-1.8M292.50 256.98h3.0M525.70 256.98h-3.0M292.50 250.75h1.8M525.70 250.75h-1.8M292.50 244.51h1.8M525.70 244.51h-1.8M292.50 238.28h1.8M525.70 238.28h-1.8M292.50 232.04h3.0M525.70 232.04h-3.0M292.50 225.81h1.8M525.70 225.81h-1.8M292.50 219.57h1.8M525.70 219.57h-1.8M292.50 213.34h1.8M525.70 213.34h-1.8M292.50 207.10h3.0M525.70 207.10h-3.0M292.50 200.87h1.8M525.70 200.87h-1.8" stroke="#1c1c1c" stroke-width="0.9" fill="none"/>
<path d="M409.50 194.60V338.75" stroke="#1c1c1c" stroke-width="1.1"/>
<rect x="292.50" y="194.60" width="233.20" height="144.15" fill="none" stroke="#1c1c1c" stroke-width="1.2"/>
<text x="311.20" y="354.05" text-anchor="middle" class="tk">−0.4</text>
<text x="360.00" y="354.05" text-anchor="middle" class="tk">−0.2</text>
<text x="409.50" y="354.05" text-anchor="middle" class="tk">0.0</text>
<text x="458.30" y="354.05" text-anchor="middle" class="tk">0.2</text>
<text x="507.10" y="354.05" text-anchor="middle" class="tk">0.4</text>
<text x="290.60" y="337.10" text-anchor="end" class="tk">10</text>
<text x="290.60" y="312.16" text-anchor="end" class="tk">12</text>
<text x="290.60" y="287.22" text-anchor="end" class="tk">14</text>
<text x="290.60" y="262.28" text-anchor="end" class="tk">16</text>
<text x="290.60" y="237.34" text-anchor="end" class="tk">18</text>
<text x="290.60" y="212.40" text-anchor="end" class="tk">20</text>
</g>
<g id="pg">
<clipPath id="clipg"><rect x="292.50" y="362.90" width="233.20" height="143.60"/></clipPath>
<text x="310.40" y="498.70" class="ui">U</text><text x="320.00" y="491.40" class="usup">(l)</text><text x="320.60" y="502.00" class="usub">0</text><path d="M338.10 486.80L332.50 501.40" stroke="#000" stroke-width="1"/><text x="338.70" y="498.70" class="ui">k</text><text x="346.00" y="500.70" class="usubi">B</text><text x="352.00" y="498.70" class="ui">T</text><text x="364.70" y="498.70" class="un">=</text><text x="375.50" y="498.70" class="un">37</text>
<g clip-path="url(#clipg)">
<path d="M409.50 494.50C410.42 493.58 413.08 491.42 415.00 489.00C416.92 486.58 418.92 482.83 421.00 480.00C423.08 477.17 425.42 474.42 427.50 472.00C429.58 469.58 431.42 467.75 433.50 465.50C435.58 463.25 437.92 460.67 440.00 458.50C442.08 456.33 443.83 454.58 446.00 452.50C448.17 450.42 450.50 448.33 453.00 446.00C455.50 443.67 458.42 440.33 461.00 438.50C463.58 436.67 465.58 434.54 468.50 435.00C471.42 435.46 475.17 439.38 478.50 441.25C481.83 443.12 485.58 445.29 488.50 446.25C491.42 447.21 493.08 447.62 496.00 447.00C498.92 446.38 503.08 444.29 506.00 442.50C508.92 440.71 511.29 438.54 513.50 436.25C515.71 433.96 518.12 430.71 519.25 428.75C520.38 426.79 520.79 425.33 520.25 424.50C519.71 423.67 517.96 423.67 516.00 423.75C514.04 423.83 511.00 424.38 508.50 425.00C506.00 425.62 503.50 426.75 501.00 427.50C498.50 428.25 497.00 428.92 493.50 429.50C490.00 430.08 484.75 430.92 480.00 431.00C475.25 431.08 470.00 430.75 465.00 430.00C460.00 429.25 455.00 427.75 450.00 426.50C445.00 425.25 440.00 423.75 435.00 422.50C430.00 421.25 424.25 419.92 420.00 419.00C415.75 418.08 411.25 417.33 409.50 417.00" fill="none" stroke="#ff0000" stroke-width="0.8" stroke-linejoin="round" stroke-linecap="round" />
<path d="M409.5 414.3l6.2-2.4 6.1-4.3 6.1-4 6.1-4.3 6-3.9 5.8-3.9 5.8-3.8 5.6-2.9 5.5-2.3 5.2-1.6 5.1-1.2 4.9-.5 4.7-.6 4.4 .8 4.2-.2 3.9 .8 3.6 .3 3.4 1.2 3 .9 2.7 1.4 2.4 1.8 2.1 1 1.7 1.9 1.4 1.5 1.1 2.6 .7 2.8 .3 2.6 0 3.1 -.3 2.9 -.7 2.8 -1.1 3.3 -1.4 2.5 -1.7 3.2 -2.1 1.8 -2.4 2.5 -2.7 1.9 -3 2.2 -3.4 1.5 -3.6 1.9 -3.9 .8 -4.2 .8 -4.4-.4 -4.7-.9 -4.9-1.5 -5.1-.8 -5.2-1.2 -5.5-.5 -5.6-1 -5.8 .1 -5.8 .1 -6 0 -6.1-.2 -6.1-.5 -6.1-1.4 -6.2-1.9 -6.2-5.1 -6.1-3.3 -6.1-3.7 -6.1-4 -6-4.2 -5.8-4 -5.8-3.8 -5.6-3.2 -5.5-2.7 -5.2-1.9 -5.1-1.3 -4.9-.7 -4.7-.2 -4.4 0 -4.2 .3 -3.9 .4 -3.6 .4 -3.4 .4 -3 .6 -2.7 .8 -2.4 1 -2.1 1.4 -1.7 1.8 -1.4 2.2 -1.1 2.5 -.7 2.9 -.3 3 0 5.7 .3 3.1 .7 1.9 1.1 2.8 1.4 2.3 1.7 2 2.1 1.9 2.4 2.4 2.7 2.5 3 2.2 3.4 2.4 3.6 1.3 3.9 2.1 4.2 1.7 4.4 1 4.7 .2 4.9 1.1 5.1 .2 5.2-1.2 5.5-1.9 5.6-1.8 5.8-2 5.8-1.9 6-2.8 6.1-2.3 6.1-1.9 6.1-2.7zM409.5 414.8l6.2-2.7 6.2-3.2 6.1-4 6.1-4.1 6-4.5 5.9-3.4 5.8-3.9 5.7-3.4 5.5-2.7 5.3-1.9 5.1-1.3 4.9-.5 4.7-.1 4.5 .3 4.2 .6 3.9 .7 3.6 .7 3.4 .8 3.1 1 2.7 1.1 2.4 1.3 2.1 1.7 1.8 2.1 1.4 1.9 1 2 .7 1.7 .4 2.8 0 1.8 -.4 2.5 -.7 1.3 -1 2.6 -1.4 2.3 -1.8 2.2 -2.1 2.2 -2.4 2 -2.7 2 -3.1 1.9 -3.4 1.8 -3.6 1.5 -3.9 1.3 -4.2 .8 -4.5 .4 -4.7-.1 -4.9-.5 -5.1-.3 -5.3-.4 -5.5-.2 -5.7-.7 -5.8-.3 -5.9-.9 -6-.8 -6.1-.3 -6.1-1 -6.2-1.7 -6.2-1.6 -6.2-2.5 -6.2-3 -6.1-3.1 -6.1-4 -6-4.4 -5.9-4.3 -5.8-3.7 -5.7-2.9 -5.5-2.6 -5.3-2.2 -5.1-1 -4.9-1.4 -4.7-.7 -4.5-.2 -4.2-.6 -3.9-.3 -3.6 .8 -3.4-.2 -3.1 .7 -2.7 .3 -2.4 1.1 -2.1 1.3 -1.8 1 -1.4 2.7 -1 1.9 -.7 2.5 -.4 2.8 0 3.5 .4 3.5 .7 3.6 1 2.8 1.4 3.5 1.8 2.7 2.1 3.5 2.4 3.2 2.7 2.5 3.1 3 3.4 2.3 3.6 2 3.9 .7 4.2 .7 4.5 .1 4.7 .1 4.9-1.2 5.1-1.8 5.3-1.8 5.5-1.7 5.7-1.4 5.8-1.1 5.9-.7 6-.8 6.1-.8 6.1-.7 6.2-2.1zM409.5 413.4l6.2-2.7 6.1-4.1 6.1-4.6 6.1-5.1 6-4.7 5.8-4.1 5.8-3.8 5.6-2.7 5.5-1.7 5.2-1.3 5.1-1.3 4.9-.5 4.7-1.1 4.4-.6 4.2 .7 3.9 .4 3.6 1.9 3.4 1.9 3 1.4 2.7 2 2.4 2.2 2.1 1.7 1.7 2.1 1.4 2.4 1.1 2.7 .7 2.6 .4 3 0 3.5 -.4 3.6 -.7 2.8 -1.1 2.6 -1.4 1.2 -1.7 1 -2.1 .8 -2.4 1.3 -2.7 1.3 -3 2.7 -3.4 3.6 -3.6 2.8 -3.9 2.6 -4.2 .4 -4.4-.7 -4.7-.8 -4.9-1.9 -5.1-2.4 -5.2-1.5 -5.5-1.2 -5.6-.5 -5.8-.2 -5.8-.3 -6-.5 -6.1-1.7 -6.1-2.3 -6.1-2.1 -6.2-3.1 -6.2-2.5 -6.1-2.9 -6.1-2.3 -6.1-2.8 -6-4.4 -5.8-3.6 -5.8-4.6 -5.6-3.6 -5.5-3.1 -5.2-2 -5.1-.8 -4.9-.6 -4.7 .9 -4.4 .3 -4.2 .8 -3.9 1 -3.6-.4 -3.4-.3 -3-.3 -2.7-.4 -2.4-.5 -2.1 1.9 -1.7 2.6 -1.4 2.7 -1.1 2.6 -.7 2.7 -.4 2.6 0 2.4 .4 3 .7 3.2 1.1 3.6 1.4 4.2 1.7 3.5 2.1 3.4 2.4 4 2.7 2.2 3 2 3.4 .9 3.6 .2 3.9-.2 4.2 .6 4.4 1.7 4.7 .7 4.9 1.3 5.1 .6 5.2-1.1 5.5-2.1 5.6-2.7 5.8-3.2 5.8-1.7 6-1.1 6.1-1 6.1-.9 6.1-1.8zM409.5 410.3l6.3-2.7 6.2-2.5 6.2-3.7 6.1-3.8 6.1-4.1 5.9-3.9 5.8-4.2 5.7-2.9 5.6-1.7 5.3-2.2 5.2-1 4.9-1.4 4.8-.6 4.4-.5 4.3 1.3 3.9 .9 3.7 1.3 3.4 2.2 3.1 1 2.7 2 2.5 .8 2.1 1.8 1.7 2.5 1.4 2.9 1.1 2.1 .7 2.5 .4 2.3 0 2.2 -.4 3 -.7 2.5 -1.1 1.9 -1.4 2 -1.7 1 -2.1 1.4 -2.5 2 -2.7 2 -3.1 3.5 -3.4 2.9 -3.7 1.8 -3.9 1.6 -4.3 .2 -4.4 .6 -4.8 .1 -4.9-.2 -5.2-.7 -5.3-1.2 -5.6-1.7 -5.7-1.1 -5.8-.8 -5.9-.5 -6.1-.6 -6.1-1.3 -6.2-1.9 -6.2-3.7 -6.3-2.1 -6.3-3 -6.2-2.3 -6.2-3.6 -6.1-4.6 -6.1-4 -5.9-4.8 -5.8-3.7 -5.7-3.8 -5.6-2 -5.3-1.3 -5.2-.8 -4.9-.4 -4.8-.3 -4.4 .9 -4.3 .8 -3.9 .3 -3.7 .2 -3.4 .3 -3.1-.2 -2.7-.2 -2.5 .6 -2.1 1.8 -1.7 1.6 -1.4 2.8 -1.1 2.4 -.7 3.1 -.4 2.8 0 3.2 .4 3.8 .7 4.7 1.1 3.4 1.4 3.5 1.7 3.4 2.1 1.9 2.5 1.9 2.7 2.8 3.1 1.6 3.4 2 3.7-.1 3.9 .3 4.3-.1 4.4 .7 4.8 .2 4.9 .3 5.2-.8 5.3-1.8 5.6-2 5.7-1.3 5.8-1.2 5.9-1.2 6.1-1.2 6.1-1.3 6.2-1.6 6.2-1.9zM409.5 412l6.2-3.9 6.2-3.7 6.2-4 6.1-3.3 6-4.8 5.9-3.8 5.8-3.5 5.7-3.7 5.5-2 5.3-1.8 5.2-.4 4.9 .1 4.7 .2 4.5 .5 4.2 1.2 3.9-.2 3.7 .2 3.3 .4 3.1 .3 2.8 .8 2.4 .7 2.1 1.6 1.7 2.4 1.4 2.3 1.1 2.7 .7 3.2 .4 2.5 0 2.5 -.4 2.3 -.7 2.6 -1.1 2.6 -1.4 3.3 -1.7 2.9 -2.1 3 -2.4 2.5 -2.8 2.3 -3.1 2.3 -3.3 2.2 -3.7 1.3 -3.9 2.4 -4.2 .6 -4.5 .2 -4.7 .1 -4.9-1.7 -5.2-1.2 -5.3-2.5 -5.5-2.8 -5.7-1.1 -5.8-1.1 -5.9-.9 -6-1 -6.1-1 -6.2-1.2 -6.2-1.5 -6.2-2 -6.2-3.2 -6.2-3 -6.2-3.5 -6.1-3.9 -6-3.9 -5.9-3.8 -5.8-3.8 -5.7-3.7 -5.5-2.9 -5.3-2.5 -5.2-1.1 -4.9-1.3 -4.7-.4 -4.5-.6 -4.2 .2 -3.9 .7 -3.7 .6 -3.3 2.1 -3.1 .6 -2.8 1 -2.4 .7 -2.1 1.5 -1.7 1.1 -1.4 1.6 -1.1 2.1 -.7 3.2 -.4 3.5 0 3.7 .4 2.8 .7 2.8 1.1 2.7 1.4 2.6 1.7 2.5 2.1 2.4 2.4 2.4 2.8 2.4 3.1 2.2 3.3 2.2 3.7 1.8 3.9 1.6 4.2 1.1 4.5 .6 4.7 .1 4.9-.3 5.2-.7 5.3-1 5.5 .4 5.7-.2 5.8-.1 5.9-.9 6-.9 6.1-1.9 6.2-2.2 6.2-3.1zM409.5 413.2l6.1-1.5 6-1.7 6-4.1 6-4.3 5.9-4.4 5.8-4.3 5.6-3.9 5.6-3.6 5.3-3.4 5.2-2.4 5.1-1 4.8-.4 4.6 .4 4.3 .7 4.1 .2 3.9 .1 3.6 0 3.2 0 3 1.1 2.7 1.5 2.4 1.6 2 2.9 1.7 2.1 1.4 2.4 1 1.8 .7 1.3 .4 2.1 0 1.5 -.4 2.9 -.7 2.6 -1 2.6 -1.4 3.3 -1.7 4 -2 3.8 -2.4 2.9 -2.7 1 -3 1.2 -3.2 1 -3.6 .4 -3.9 1.5 -4.1 .9 -4.3 1.7 -4.6 .8 -4.8 .3 -5.1-1 -5.2-1.8 -5.3-1 -5.6-1.7 -5.6 0 -5.8 .4 -5.9 .4 -6 .3 -6 .2 -6-1.6 -6.1-3.2 -6.1-5.8 -6-3.3 -6-5.1 -6-5 -5.9-4.7 -5.8-4.2 -5.6-2.8 -5.6-2.4 -5.3-2.3 -5.2-2.1 -5.1-2.2 -4.8-.5 -4.6-1.1 -4.3-.3 -4.1 .1 -3.9-.1 -3.6 .5 -3.2 .7 -3 .6 -2.7-.8 -2.4 .4 -2 .1 -1.7 1.2 -1.4 2.1 -1 2.4 -.7 3.7 -.4 4.7 0 4.4 .4 3.6 .7 3.6 1 1.7 1.4 1.8 1.7 .8 2 2.4 2.4 2.4 2.7 3.4 3 3.1 3.2 4.7 3.6 2.9 3.9 2.2 4.1 1.7 4.3 .7 4.6-.4 4.8-.2 5.1-.1 5.2-.3 5.3-1.1 5.6-.2 5.6-1.4 5.8-2.4 5.9-2.7 6-3.5 6-2 6-2.8zM409.5 412.3l6.1-2.7 6.1-3.7 6-4.1 5.9-4.1 5.9-4.5 5.8-3.3 5.7-3.5 5.5-3.2 5.4-2.1 5.2-1.2 5.1-1.2 4.8-.7 4.6-.3 4.3 .7 4.2 .4 3.8 .6 3.6 1 3.3 .2 3 .6 2.7 .5 2.3 .6 2.1 .9 1.7 .8 1.4 2.2 1 1.2 .7 2.7 .4 3.6 0 4.2 -.4 2.9 -.7 2.6 -1 2.6 -1.4 2.7 -1.7 3.5 -2.1 3.1 -2.3 2.7 -2.7 2.9 -3 2.6 -3.3 2.1 -3.6 2.2 -3.8 1.9 -4.2 1.8 -4.3 .5 -4.6-.7 -4.8-1.1 -5.1-1.1 -5.2-1.4 -5.4-.6 -5.5-1.5 -5.7-.7 -5.8-1.6 -5.9-1.8 -5.9-1.8 -6-2 -6.1-1.6 -6.1-2.1 -6.1-3.3 -6.1-3.3 -6-4.2 -5.9-3.9 -5.9-4.4 -5.8-3.8 -5.7-4.3 -5.5-3.6 -5.4-3.4 -5.2-2.6 -5.1-1.2 -4.8-.2 -4.6 .2 -4.3-.2 -4.2 .6 -3.8 .4 -3.6 .3 -3.3 .3 -3 1.5 -2.7 1.2 -2.3 2.5 -2.1 2.1 -1.7 2.5 -1.4 2.3 -1 3.3 -.7 2.9 -.4 3 0 5 .4 2.3 .7 2.3 1 2.1 1.4 2.4 1.7 2.7 2.1 3.2 2.3 1.2 2.7 1.4 3 1 3.3 1.1 3.6 1.3 3.8 1.3 4.2 1.6 4.3 .3 4.6 .3 4.8-1.1 5.1-.3 5.2-1.3 5.4-1.1 5.5-1.6 5.7-1.8 5.8-1.1 5.9-1.7 5.9-1.3 6-1.2 6.1-1.1zM409.5 411.8l6.1-3.7 6.1-3.9 6-4.6 6-5.2 5.9-4.1 5.8-3.4 5.6-3.4 5.6-2.8 5.4-2.7 5.2-1.3 5-.9 4.9-.8 4.6 .4 4.3 .8 4.2 1.6 3.8 .6 3.6 .5 3.3 1.2 3 .9 2.7 1.2 2.3 .9 2.1 2 1.7 2.1 1.4 1.7 1 3.4 .7 3.6 .4 4 0 3.6 -.4 3.7 -.7 3.6 -1 2.6 -1.4 2.7 -1.7 2.7 -2.1 2.6 -2.3 2.7 -2.7 1.8 -3 2.1 -3.3 1.3 -3.6-.1 -3.8 .5 -4.2 .6 -4.3-.4 -4.6-1.5 -4.9-1.5 -5-2 -5.2-.8 -5.4-1.9 -5.6-.5 -5.6-.7 -5.8-1.3 -5.9-1.6 -6-1.4 -6-1.9 -6.1-.8 -6.1-1.3 -6.1-1.6 -6.1-2 -6-4.6 -6-3.5 -5.9-4.4 -5.8-3.1 -5.6-3.5 -5.6-3.6 -5.4-2.1 -5.2-2.6 -5-1.2 -4.9-.8 -4.6-.2 -4.3 .5 -4.2 .5 -3.8 .5 -3.6 .2 -3.3 1.1 -3 .4 -2.7 1.2 -2.3 1 -2.1 1.4 -1.7 1.8 -1.4 2.2 -1 2.5 -.7 2.9 -.4 3 0 5.2 .4 3 .7 2.3 1 2.1 1.4 1.9 1.7 2.6 2.1 2.5 2.3 2.7 2.7 2 3 1.9 3.3 1.7 3.6 1.8 3.8 2 4.2 2 4.3 1.8 4.6-.2 4.9-1 5-1.2 5.2-2 5.4-1.5 5.6-1.1 5.6-1.9 5.8-2.2 5.9-1.3 6-2.1 6-3 6.1-2.2z" fill="none" stroke="#ff0000" stroke-width="0.8" stroke-linejoin="round"/>
<path d="M410.00 495.20C410.92 494.28 413.58 492.12 415.50 489.70C417.42 487.28 419.42 483.53 421.50 480.70C423.58 477.87 425.92 475.12 428.00 472.70C430.08 470.28 433.50 466.65 434.00 466.20C434.50 465.75 429.00 469.78 431.00 470.00C433.00 470.22 441.42 469.17 446.00 467.50C450.58 465.83 454.33 462.92 458.50 460.00C462.67 457.08 467.25 452.50 471.00 450.00C474.75 447.50 479.04 446.17 481.00 445.00C482.96 443.83 483.17 443.62 482.75 443.00C482.33 442.38 480.46 441.12 478.50 441.25C476.54 441.38 473.50 442.71 471.00 443.75C468.50 444.79 466.67 446.04 463.50 447.50C460.33 448.96 455.92 451.25 452.00 452.50C448.08 453.75 444.00 454.92 440.00 455.00C436.00 455.08 431.58 454.50 428.00 453.00C424.42 451.50 421.58 447.58 418.50 446.00C415.42 444.42 411.00 443.92 409.50 443.50" fill="none" stroke="#00ff00" stroke-width="0.8" stroke-linejoin="round" stroke-linecap="round" />
<path d="M409.50 443.00C411.00 443.12 415.75 442.58 418.50 443.75C421.25 444.92 423.50 448.33 426.00 450.00C428.50 451.67 431.00 452.92 433.50 453.75C436.00 454.58 438.50 455.21 441.00 455.00C443.50 454.79 447.25 452.92 448.50 452.50" fill="none" stroke="#00ff00" stroke-width="0.7" stroke-linejoin="round" stroke-linecap="round" />
<path d="M409.5 440.6l4.1-3.9 4.1-4.1 4.1-3.6 4-3.7 4-3.9 3.9-3.2 3.8-3.7 3.7-3.2 3.7-1.9 3.5-2 3.4-1.2 3.2-.4 3.1 .3 3-.9 2.8 0 2.6-.1 2.4 0 2.2 0 2-.4 1.8-.3 1.6-.2 1.4-.1 1.2 .8 .9 1.4 .7 1.1 .5 2.3 .2 1.8 0 2.7 -.2 2.1 -.5 2.8 -.7 3 -.9 2.6 -1.2 4 -1.4 2 -1.6 1.9 -1.8 2.1 -2 1.5 -2.2 1.6 -2.4 2.3 -2.6 1.6 -2.8 1.7 -3 2 -3.1 1.9 -3.2 1.6 -3.4 1.4 -3.5 1.2 -3.7 .7 -3.7 .7 -3.8-.5 -3.9-.5 -4-1.6 -4-.7 -4.1-1.9 -4.1-2.6 -4.1-3.3 -4.1-3.6 -4.1-4.2 -4.1-4.1 -4-4 -4-3.2 -3.9-3.7 -3.8-3.5 -3.7-3.1 -3.7-2.2 -3.5-2.5 -3.4-.5 -3.2-1.7 -3.1-.2 -3-.6 -2.8-.4 -2.6-.9 -2.4 .5 -2.2 .4 -2 .2 -1.8 1.3 -1.6 .4 -1.4 .7 -1.2 .8 -.9 1.6 -.7 1.7 -.5 2.1 -.2 1.3 0 2.4 .2 .6 .5 1.8 .7 2.4 .9 2.3 1.2 2.4 1.4 2.4 1.6 2.4 1.8 2.4 2 2.4 2.2 2.6 2.4 4 2.6 3.2 2.8 3.3 3 1.6 3.1 1.5 3.2 1.3 3.4 1.8 3.5 .1 3.7 .8 3.7-1.6 3.8-.8 3.9-1.4 4-1.4 4-1.9 4.1-2.2 4.1-3.1zM409.5 443.7l4.1-3.7 4-3.9 4-4.8 4-5 3.9-3.8 3.8-4.5 3.8-3.1 3.7-3.5 3.6-1.5 3.5-2.4 3.3-1.4 3.2-.5 3.1-.6 2.9-.2 2.7-.3 2.6 .3 2.4 .4 2.2-.2 2 .2 1.8 .9 1.5 1 1.4 .8 1.1 .6 1 .7 .6 1.4 .5 1.7 .2 1.5 0 2.8 -.2 2.2 -.5 2.6 -.6 2.2 -1 2.7 -1.1 1.7 -1.4 1.6 -1.5 2.6 -1.8 1.8 -2 2.6 -2.2 2 -2.4 2.2 -2.6 2.5 -2.7 2 -2.9 1.8 -3.1 1.8 -3.2 1.4 -3.3 .5 -3.5 .5 -3.6 .4 -3.7 .5 -3.8 .1 -3.8-.1 -3.9-1.1 -4-1.1 -4-3.1 -4-2.2 -4.1-2.8 -4.1-3.1 -4-3.9 -4-3.3 -4-3.1 -3.9-3 -3.8-3.5 -3.8-3.3 -3.7-2.6 -3.6-2.2 -3.5-2 -3.3-1.8 -3.2-1 -3.1-.8 -2.9 .3 -2.7-.5 -2.6-.1 -2.4-.4 -2.2-.2 -2-.6 -1.8-.3 -1.5 .3 -1.4 .5 -1.1 1 -1 1.2 -.6 1.8 -.5 1.5 -.2 2.1 0 2.1 .2 2 .5 2.7 .6 1.8 1 2.1 1.1 3.4 1.4 2.7 1.5 2.6 1.8 3.3 2 2.7 2.2 2.4 2.4 1.9 2.6 2.6 2.7 2.1 2.9 2.5 3.1 2.4 3.2 2 3.3 2 3.5 .7 3.6 .8 3.7-.3 3.8-.9 3.8-1.1 3.9-1.8 4-2.2 4-3 4-2.6zM409.5 443.9l4.2-3.7 4.1-4 4.2-4 4-4.1 4.1-4 3.9-3.7 3.9-3.4 3.8-2.8 3.7-2.4 3.6-1.9 3.4-1.3 3.3-.9 3.2-.6 3-1.1 2.8-.5 2.6-.7 2.5-.5 2.3-.4 2-.2 1.8 .6 1.7 0 1.4 .2 1.1 .9 1 .4 .7 1.6 .5 1.3 .2 2.9 0 2.6 -.2 2.1 -.5 2.5 -.7 2.2 -1 3 -1.1 3.4 -1.4 2.9 -1.7 3 -1.8 2.3 -2 2.3 -2.3 2.1 -2.5 2.3 -2.6 2.1 -2.8 2.4 -3 1.7 -3.2 .7 -3.3 1.2 -3.4 1.8 -3.6 .6 -3.7 1.1 -3.8 .5 -3.9 .2 -3.9-.1 -4.1-1.8 -4-1.4 -4.2-2.1 -4.1-2.7 -4.2-3 -4.2-3.5 -4.1-4.1 -4.2-4.3 -4-4.9 -4.1-3.8 -3.9-2.7 -3.9-3.7 -3.8-2.5 -3.7-2.8 -3.6-2 -3.4-.5 -3.3-1.5 -3.2-.1 -3 .4 -2.8-.2 -2.6-.5 -2.5 .3 -2.3 .3 -2-.3 -1.8 .6 -1.7 .9 -1.4 .7 -1.1-.2 -1 1.4 -.7 1.6 -.5 1.6 -.2 2 0 2.2 .2 2.1 .5 1.4 .7 2.3 1 2 1.1 2.3 1.4 2.6 1.7 2 1.8 2.5 2 2.7 2.3 2.8 2.5 2.9 2.6 2.9 2.8 3.2 3 2.7 3.2 2.6 3.3 1.7 3.4 1.6 3.6 1.2 3.7 1 3.8 .1 3.9-.9 3.9-1.7 4.1-1.7 4-2.2 4.2-2.4 4.1-2.9zM409.5 442.1l4.1-3.3 4.1-3.3 4-4.1 4-3.6 4-4.6 3.9-3.8 3.8-3.7 3.7-2.7 3.6-2 3.5-1.7 3.4-1.1 3.2-1.6 3.1-.6 3-.7 2.7-.1 2.6 .3 2.4-.4 2.2-.8 2.1 0 1.8 .1 1.5 0 1.4 .6 1.2 1.3 .9 1.2 .7 1.5 .5 1.1 .2 2 0 2.3 -.2 2.9 -.5 2.1 -.7 2.3 -.9 3.1 -1.2 1.8 -1.4 2.1 -1.5 2.9 -1.8 2.3 -2.1 2.7 -2.2 2.4 -2.4 1.5 -2.6 1.7 -2.7 2 -3 2.1 -3.1 2 -3.2 1.9 -3.4 1.2 -3.5 .2 -3.6 .1 -3.7 .2 -3.8-.3 -3.9-.7 -4-1.2 -4-1.6 -4-2.1 -4.1-2.6 -4.1-3 -4.1-3.4 -4.1-3.2 -4-3.4 -4-3.8 -4-4.6 -3.9-3.9 -3.8-2.7 -3.7-2.2 -3.6-1.5 -3.5-1.7 -3.4-1.6 -3.2-1.1 -3.1-.7 -3 .2 -2.7-.3 -2.6 .7 -2.4 .3 -2.2 .6 -2.1-.2 -1.8 0 -1.5 .8 -1.4 .6 -1.2 .8 -.9 1 -.7 1.3 -.5 1.6 -.2 .9 0 2.3 .2 2.7 .5 2.7 .7 1.7 .9 2 1.2 1.6 1.4 2 1.5 2 1.8 2.5 2.1 2.8 2.2 3 2.4 2.4 2.6 1.9 2.7 1.7 3 2.4 3.1 2.8 3.2 1.8 3.4 1.1 3.5 1 3.6 .3 3.7 .3 3.8 .1 3.9-.5 4-1.3 4-2.1 4-3.2 4.1-3.5zM409.5 438.2l4.2-3.3 4.2-3.9 4.1-3.4 4.1-3.6 4.1-3.6 3.9-3.1 3.9-2.4 3.8-2.4 3.7-2.4 3.6-1.4 3.5-1.8 3.3-.9 3.2-1.4 3 .1 2.8 .1 2.7-.3 2.4 .5 2.3 0 2 .6 1.9 .3 1.6 .3 1.4 1.3 1.2-.1 .9 .7 .8 1.6 .4 1.5 .3 1.7 0 1.8 -.3 2.3 -.4 2.3 -.8 2 -.9 1.8 -1.2 2.9 -1.4 1.9 -1.6 1.9 -1.9 3.1 -2 2.2 -2.3 2.4 -2.4 2.6 -2.7 1.2 -2.8 2.1 -3 2 -3.2 1.9 -3.3 1.6 -3.5 1.3 -3.6 1 -3.7 .5 -3.8 .2 -3.9-.3 -3.9-.7 -4.1-1.2 -4.1-1.6 -4.1-2 -4.2-2.7 -4.2-1.9 -4.2-3.7 -4.2-3.5 -4.1-3.8 -4.1-3.4 -4.1-3.7 -3.9-4 -3.9-3 -3.8-2.8 -3.7-1.9 -3.6-1.6 -3.5-.7 -3.3-1.1 -3.2 .9 -3-.6 -2.8 0 -2.7-.1 -2.4-.1 -2.3 0 -2 0 -1.9 .1 -1.6 .3 -1.4 .5 -1.2 .8 -.9 1 -.8 1.4 -.4 1.7 -.3 1.9 0 2.8 .3 2.1 .4 1.9 .8 1.8 .9 2.4 1.2 1.8 1.4 2.5 1.6 1.5 1.9 1.2 2 1.8 2.3 2.5 2.4 2.4 2.7 2.4 2.8 2.3 3 2.1 3.2 2.1 3.3 2 3.5 1.8 3.6 .5 3.7 .7 3.8-1 3.9-.4 3.9-1 4.1-1.4 4.1-1.9 4.1-2.4 4.2-2.9zM409.5 441.2l4-3.5 4.1-3.7 4-3 3.9-3.9 3.9-4.4 3.9-3.7 3.7-4.1 3.7-2.9 3.6-2.3 3.4-.5 3.4-1.8 3.2-1.2 3-1.1 2.9 .1 2.7-.5 2.6 .7 2.4 .2 2.2-.1 1.9-.4 1.8 0 1.6 0 1.4 .6 1.1 1.5 .9 2.6 .7 .7 .5 2.2 .2 1.8 0 .7 -.2 3.1 -.5 2.9 -.7 2.5 -.9 2.1 -1.1 2.3 -1.4 2.4 -1.6 1.7 -1.8 2.7 -1.9 2.8 -2.2 2.6 -2.4 2.1 -2.6 2.2 -2.7 1.1 -2.9 2 -3 3.3 -3.2 2 -3.4 1.7 -3.4 .4 -3.6 .1 -3.7-.5 -3.7-.1 -3.9-.4 -3.9-.9 -3.9-1 -4-2.6 -4.1-3.6 -4-3.2 -4-3.2 -4.1-3.6 -4-3.7 -3.9-3.7 -3.9-4.5 -3.9-4.1 -3.7-3.1 -3.7-2.7 -3.6-1.9 -3.4-1.2 -3.4-1.4 -3.2-1.2 -3-1.2 -2.9-.9 -2.7 0 -2.6 .2 -2.4 .6 -2.2-.1 -1.9 0 -1.8-.4 -1.6 0 -1.4 .4 -1.1 1.1 -.9 1.6 -.7 1.3 -.5 .6 -.2 1 0 2.9 .2 2.1 .5 3.4 .7 2.8 .9 2.5 1.1 1.4 1.4 1.9 1.6 2.3 1.8 3.2 1.9 3 2.2 3.4 2.4 2.3 2.6 2.1 2.7 1.2 2.9 2 3 2.2 3.2 2 3.4 1.2 3.4 .7 3.6 0 3.7-.3 3.7-.2 3.9-1 3.9-.8 3.9-1.8 4-2.9 4.1-3.7zM409.5 443.9l4.1-3.7 4.1-4.1 4.1-3.9 4-4.3 4-3.9 3.9-4 3.8-3 3.7-3.5 3.7-2.3 3.5-1.8 3.4-1.5 3.2-1.1 3.1 0 3-1 2.8-.1 2.6 .5 2.4-.4 2.2 .2 2-.9 1.8 .1 1.6 .2 1.4 .1 1.2 .6 .9 .9 .7 .9 .5 1.5 .2 1.4 0 3.4 -.2 2.1 -.5 2.3 -.7 2.2 -.9 2.3 -1.2 2.2 -1.4 2.3 -1.6 2.2 -1.8 2.9 -2 1.9 -2.2 3.1 -2.4 3.3 -2.6 1.5 -2.8 3.3 -3 1.8 -3.1 2.5 -3.2 1.9 -3.4 1.2 -3.5 .9 -3.7 .8 -3.7-.1 -3.8-.2 -3.9-.2 -4-1.6 -4-1.1 -4.1-2.3 -4.1-2.6 -4.1-3.1 -4.1-3.3 -4.1-3.6 -4.1-3.8 -4-3.8 -4-3.7 -3.9-3.5 -3.8-3.2 -3.7-2.7 -3.7-2.2 -3.5-1.8 -3.4-1.4 -3.2-1.5 -3.1-1 -3-1.1 -2.8 0 -2.6-.7 -2.4-.1 -2.2 .3 -2-.5 -1.8 0 -1.6 .2 -1.4 .2 -1.2 .9 -.9 1 -.7 1.6 -.5 1.8 -.2 1.9 0 2 .2 2.1 .5 2.2 .7 2.6 .9 2.4 1.2 1.6 1.4 2.6 1.6 1.9 1.8 2.4 2 2.5 2.2 2.4 2.4 2.5 2.6 2.6 2.8 2.2 3 2.8 3.1 2.2 3.2 2 3.4 1.2 3.5 1.4 3.7 .6 3.7 .4 3.8 0 3.9-.8 4-.9 4-1.5 4.1-2.6 4.1-2.7z" fill="none" stroke="#00ff00" stroke-width="0.8" stroke-linejoin="round"/>
<path d="M409.00 495.10C409.92 494.18 412.58 492.02 414.50 489.60C416.42 487.18 418.42 483.43 420.50 480.60C422.58 477.77 424.83 473.95 427.00 472.60C429.17 471.25 431.17 472.85 433.50 472.50C435.83 472.15 438.92 470.92 441.00 470.50C443.08 470.08 445.08 469.58 446.00 470.00C446.92 470.42 446.92 471.33 446.50 473.00C446.08 474.67 444.83 477.83 443.50 480.00C442.17 482.17 440.58 484.42 438.50 486.00C436.42 487.58 433.08 489.17 431.00 489.50C428.92 489.83 427.67 489.00 426.00 488.00C424.33 487.00 422.67 485.17 421.00 483.50C419.33 481.83 417.92 479.75 416.00 478.00C414.08 476.25 410.58 473.83 409.50 473.00" fill="none" stroke="#4000ff" stroke-width="0.8" stroke-linejoin="round" stroke-linecap="round" />
<path d="M409.5 471.8l2.8-2.2 2.7-2.6 2.7-1.8 2.7-1.7 2.6-2.1 2.5-2.2 2.5-.7 2.3-1.6 2.1-.1 2.1-1.5 1.9-.9 1.7-.2 1.5-1.2 1.4 .4 1.1-.2 1 .7 .7 .9 .6 1.2 .3 1.6 .1 2 -.1 3.4 -.3 1.9 -.6 3.5 -.7 2.2 -1 2 -1.1 2.1 -1.4 2.2 -1.5 1.6 -1.7 .8 -1.9 .9 -2.1 .2 -2.1 .2 -2.3-.4 -2.5-.2 -2.5-1.3 -2.6-.8 -2.7-1.2 -2.7-1.5 -2.7-1.8 -2.8-2 -2.8-2.5 -2.7-2.2 -2.7-2 -2.7-2.2 -2.6-1.9 -2.5-2.1 -2.5-1.3 -2.3-1.4 -2.1 0 -2.1-.8 -1.9-.6 -1.7-1 -1.5 .1 -1.4-.2 -1.1-.5 -1 .6 -.7 .6 -.6 .7 -.3 1.8 -.1 1.9 .1 2.3 .3 3.2 .6 3.1 .7 2.9 1 1.6 1.1 2.3 1.4 2.4 1.5 2.3 1.7 1 1.9 1.3 2.1 .7 2.1 1.2 2.3 0 2.5 .3 2.5-.7 2.6-1.2 2.7-1.9 2.7-2 2.7-2.1zM409.5 473.5l2.8-2.2 2.8-2.5 2.8-3.1 2.7-2 2.6-2.3 2.6-1.3 2.5-1.6 2.3-1.8 2.2-1.3 2.1-1.7 1.9-1 1.8-2 1.5-1 1.4-.2 1.2-.1 1 .1 .7 .3 .6 .5 .3 1.4 .1 2.5 -.1 5.2 -.3 2.4 -.6 2.5 -.7 2.5 -1 2.7 -1.2 2.8 -1.4 2.2 -1.5 2.2 -1.8 2 -1.9 1.7 -2.1 1.1 -2.2 .6 -2.3-.8 -2.5-.3 -2.6-.8 -2.6-.4 -2.7-1.4 -2.8-2.4 -2.8-2.6 -2.8-2 -2.8-3.1 -2.8-2.2 -2.8-2.4 -2.7-2 -2.6-1.6 -2.6-.9 -2.5-1.1 -2.3-2.4 -2.2 0 -2.1-.4 -1.9 .3 -1.8-.7 -1.5-.8 -1.4-.5 -1.2-.3 -1 .1 -.7 .6 -.6 1 -.3 1.5 -.1 1.9 .1 2.9 .3 2 .6 1.5 .7 2.7 1 2.3 1.2 2.7 1.4 1 1.5 2 1.8 1.6 1.9 1.3 2.1 1.1 2.2 .6 2.3 .3 2.5-.1 2.6-.5 2.6-.9 2.7-1 2.8-1.6 2.8-1.7zM409.5 472.8l2.8-1.9 2.7-2.1 2.8-2.4 2.6-2.2 2.6-2 2.6-1.7 2.4-1.7 2.3-.9 2.2-1.9 2-1.1 1.9-.5 1.7-.4 1.6-.3 1.3 0 1.2 0 1 .4 .7 .7 .6 1.1 .3 1.6 .1 .9 -.1 1.7 -.3 2.7 -.6 2.2 -.7 3.4 -1 2.3 -1.2 2.6 -1.3 2.2 -1.6 2.3 -1.7 1 -1.9 .8 -2 .6 -2.2 .2 -2.3 .3 -2.4 0 -2.6-.6 -2.6-.4 -2.6-.3 -2.8-1.6 -2.7-2.2 -2.8-2 -2.8-2.3 -2.7-2 -2.8-2.8 -2.6-2.2 -2.6-1.6 -2.6-1.4 -2.4-1 -2.3-1.3 -2.2-1.1 -2-1.1 -1.9-1 -1.7-.9 -1.6-.7 -1.3-1.2 -1.2-1 -1 .2 -.7 .8 -.6 1.7 -.3 1.7 -.1 1.9 .1 2.5 .3 2.6 .6 2.9 .7 2.4 1 1.9 1.2 1.9 1.3 2.8 1.6 1.5 1.7 2.4 1.9 1.3 2 1.4 2.2 .6 2.3 .9 2.4-.8 2.6-.7 2.6-1.5 2.6-1.3 2.8-1.7 2.7-1.7zM409.5 472.3l2.8-2.7 2.8-2.7 2.8-1.7 2.7-2.1 2.7-1.6 2.5-2.1 2.5-2.1 2.4-.4 2.2-1 2.1-1.6 1.9-.2 1.7 .1 1.6-.6 1.4 .1 1.2-.1 .9-.3 .8 .3 .5 .9 .4 .9 .1 2.4 -.1 1.6 -.4 2.4 -.5 2.5 -.8 2.5 -.9 2.4 -1.2 2.2 -1.4 2 -1.6 1.6 -1.7 1.6 -1.9 .9 -2.1 .9 -2.2 .5 -2.4 1.1 -2.5 .2 -2.5-.1 -2.7-.8 -2.7-1.6 -2.8-1 -2.8-1.7 -2.8-2.2 -2.8-2 -2.8-2.3 -2.8-1.3 -2.7-2 -2.7-1.8 -2.5-1.7 -2.5-1.4 -2.4-1.3 -2.2-1.1 -2.1-1.1 -1.9-1 -1.7-1.5 -1.6-.9 -1.4-.3 -1.2-.5 -.9 .4 -.8-.1 -.5 1.8 -.4 1.8 -.1 1.9 .1 2.5 .4 2.4 .5 2.8 .8 2.8 .9 1.9 1.2 1.7 1.4 2 1.6 1.8 1.7 1.9 1.9 1.5 2.1 .5 2.2 .7 2.4 .1 2.5-.4 2.5-.8 2.7-.7 2.7-1.4 2.8-1.1 2.8-2zM409.5 472.9l2.9-2.6 2.8-2.1 2.8-1.8 2.8-2.3 2.7-2.2 2.6-1.7 2.5-1.1 2.4-1.2 2.3-1.1 2.1-.9 1.9-.7 1.8-.7 1.6-.5 1.4-.3 1.2 0 1 .4 .8 .7 .5 1.2 .4 1.6 .1 2 -.1 2.2 -.4 3.2 -.5 2.2 -.8 2.6 -1 2.2 -1.2 1.3 -1.4 1.6 -1.6 2 -1.8 1.4 -1.9 .5 -2.1 1.3 -2.3 .1 -2.4 .3 -2.5-.2 -2.6-.9 -2.7-.9 -2.8-1.8 -2.8-.8 -2.8-1.7 -2.9-2.7 -2.9-2.7 -2.8-2.5 -2.8-1.6 -2.8-2 -2.7-1.8 -2.6-1.9 -2.5-1.1 -2.4-.9 -2.3-1.4 -2.1-.6 -1.9-1.2 -1.8-.8 -1.6 0 -1.4-.4 -1.2-.6 -1-.3 -.8 .8 -.5 1 -.4 1.7 -.1 2.5 .1 2.3 .4 2.6 .5 3 .8 2.4 1 1.8 1.2 2.4 1.4 2.8 1.6 1.8 1.8 1.5 1.9 .9 2.1 .6 2.3 .3 2.4 .9 2.5 .2 2.6-1.3 2.7-.3 2.8-1.3 2.8-1.9 2.8-1.2zM409.5 473.8l2.8-2.5 2.7-2.5 2.7-2.4 2.7-2.2 2.6-2 2.5-1.7 2.4-1.4 2.3-1.2 2.2-1.1 2-1.2 1.9-1.4 1.7-1.2 1.5-.1 1.4-.1 1.1 .9 1 .4 .7 .1 .6 .2 .3 1.3 .1 2.1 -.1 2 -.3 2.9 -.6 2.1 -.7 2 -1 2.4 -1.1 2.2 -1.4 2 -1.5 1.6 -1.7 1.4 -1.9 1.1 -2 .9 -2.2 .5 -2.3 .3 -2.4-.1 -2.5-.4 -2.6-.8 -2.7-1.2 -2.7-1.5 -2.7-1.8 -2.8-2 -2.8-4.6 -2.7-1.8 -2.7-1.9 -2.7-1.4 -2.6-2 -2.5-2.2 -2.4-1 -2.3-1.7 -2.2-.9 -2-.1 -1.9-.2 -1.7-.6 -1.5-1.6 -1.4-1.4 -1.1 0 -1 .4 -.7 .6 -.6 1.7 -.3 1.9 -.1 1.9 .1 2.1 .3 2.8 .6 2.3 .7 3.1 1 4 1.1 3.1 1.4 2 1.5 .9 1.7 1.4 1.9 1.4 2 2 2.2 1.1 2.3 1.2 2.4 .4 2.5-1.5 2.6-.8 2.7-2.1 2.7-2.3 2.7-.9zM409.5 473.8l2.9-3.9 2.8-2.5 2.9-2.7 2.7-2.2 2.7-2.3 2.7-1.7 2.5-.9 2.4-1 2.2-1.2 2.2-.9 1.9-.4 1.8-.2 1.6 .1 1.4-.3 1.2-.7 1-1 .8 .8 .5 .8 .4 2 .1 1.7 -.1 2.4 -.4 2.5 -.5 3 -.8 2.8 -1 2.2 -1.2 2.2 -1.4 3.1 -1.6 2.8 -1.8 .7 -1.9 .8 -2.2 .9 -2.2 .3 -2.4 .1 -2.5-.1 -2.7-1.2 -2.7-.6 -2.7-1.6 -2.9-2.4 -2.8-1.4 -2.9-2 -2.9-1.7 -2.8-1.6 -2.9-1.3 -2.7-2.1 -2.7-1.7 -2.7-1.8 -2.5-1.5 -2.4-1.1 -2.2-1.1 -2.2-1.8 -1.9-1.4 -1.8-.9 -1.6-.9 -1.4-.7 -1.2-.5 -1 .4 -.8 1.9 -.5 1 -.4 1.5 -.1 1.5 .1 1.8 .4 2.9 .5 3.1 .8 2.5 1 1.7 1.2 2 1.4 1.5 1.6 2 1.8 1.6 1.9 1.3 2.2 1.1 2.2 1.5 2.4 .4 2.5 .2 2.7-.9 2.7-.5 2.7-.9 2.9-.6 2.8-2.5zM409.5 473.1l2.8-2.1 2.7-2.9 2.7-2.9 2.6-2.8 2.6-1.7 2.5-1.7 2.4-1.4 2.3-1.1 2.2-1.2 2-.5 1.9-.5 1.7-.9 1.5-.9 1.4-.3 1.1 .1 1 .8 .7 1 .6 0 .3 1.7 .1 2.4 -.1 2.3 -.3 3.4 -.6 1.9 -.7 2.6 -1 2.7 -1.1 3 -1.4 2.4 -1.5 1.5 -1.7 .6 -1.9 1.1 -2 1.5 -2.2 .5 -2.3-.9 -2.4-1.1 -2.5-.6 -2.6-1 -2.6-1.4 -2.7-1.5 -2.7-1.8 -2.8-2 -2.8-2.7 -2.7-1.8 -2.7-2.5 -2.6-2.1 -2.6-1.7 -2.5-1.2 -2.4-1.3 -2.3-1.3 -2.2-1.3 -2-.5 -1.9-.2 -1.7-1.3 -1.5-.7 -1.4 0 -1.1-.2 -1 .8 -.7 .6 -.6 1 -.3 1.5 -.1 1.9 .1 3.8 .3 3.2 .6 2.6 .7 1.8 1 2.8 1.1 3.2 1.4 1.2 1.5 1.7 1.7 .5 1.9 1.8 2 1.2 2.2 .6 2.3 0 2.4 .4 2.5-.4 2.6-.8 2.6-.8 2.7-2.8 2.7-2.7z" fill="none" stroke="#4000ff" stroke-width="0.85" stroke-linejoin="round"/>
</g>
<text x="314" y="444.0" class="nm" text-anchor="middle" style="font-size:18px">3</text>
<text x="341.2" y="455.6" class="nm" text-anchor="middle">2</text>
<text x="365.5" y="474.5" class="nm" text-anchor="middle">1</text>
<path d="M299.70 506.50v-1.8M299.70 362.90v1.8M311.90 506.50v-3.0M311.90 362.90v3.0M324.10 506.50v-1.8M324.10 362.90v1.8M336.30 506.50v-1.8M336.30 362.90v1.8M348.50 506.50v-1.8M348.50 362.90v1.8M360.70 506.50v-3.0M360.70 362.90v3.0M372.90 506.50v-1.8M372.90 362.90v1.8M385.10 506.50v-1.8M385.10 362.90v1.8M397.30 506.50v-1.8M397.30 362.90v1.8M409.50 506.50v-3.0M409.50 362.90v3.0M421.70 506.50v-1.8M421.70 362.90v1.8M433.90 506.50v-1.8M433.90 362.90v1.8M446.10 506.50v-1.8M446.10 362.90v1.8M458.30 506.50v-3.0M458.30 362.90v3.0M470.50 506.50v-1.8M470.50 362.90v1.8M482.70 506.50v-1.8M482.70 362.90v1.8M494.90 506.50v-1.8M494.90 362.90v1.8M507.10 506.50v-3.0M507.10 362.90v3.0M519.30 506.50v-1.8M519.30 362.90v1.8M292.50 500.94h1.8M525.70 500.94h-1.8M292.50 494.90h3.0M525.70 494.90h-3.0M292.50 488.85h1.8M525.70 488.85h-1.8M292.50 482.81h1.8M525.70 482.81h-1.8M292.50 476.76h1.8M525.70 476.76h-1.8M292.50 470.72h3.0M525.70 470.72h-3.0M292.50 464.67h1.8M525.70 464.67h-1.8M292.50 458.63h1.8M525.70 458.63h-1.8M292.50 452.58h1.8M525.70 452.58h-1.8M292.50 446.54h3.0M525.70 446.54h-3.0M292.50 440.50h1.8M525.70 440.50h-1.8M292.50 434.45h1.8M525.70 434.45h-1.8M292.50 428.40h1.8M525.70 428.40h-1.8M292.50 422.36h3.0M525.70 422.36h-3.0M292.50 416.31h1.8M525.70 416.31h-1.8M292.50 410.27h1.8M525.70 410.27h-1.8M292.50 404.22h1.8M525.70 404.22h-1.8M292.50 398.18h3.0M525.70 398.18h-3.0M292.50 392.13h1.8M525.70 392.13h-1.8M292.50 386.09h1.8M525.70 386.09h-1.8M292.50 380.04h1.8M525.70 380.04h-1.8M292.50 374.00h3.0M525.70 374.00h-3.0M292.50 367.95h1.8M525.70 367.95h-1.8" stroke="#1c1c1c" stroke-width="0.9" fill="none"/>
<path d="M409.50 362.90V506.50" stroke="#1c1c1c" stroke-width="1.1"/>
<rect x="292.50" y="362.90" width="233.20" height="143.60" fill="none" stroke="#1c1c1c" stroke-width="1.2"/>
<text x="311.20" y="521.80" text-anchor="middle" class="tk">−0.4</text>
<text x="360.00" y="521.80" text-anchor="middle" class="tk">−0.2</text>
<text x="409.50" y="521.80" text-anchor="middle" class="tk">0.0</text>
<text x="458.30" y="521.80" text-anchor="middle" class="tk">0.2</text>
<text x="507.10" y="521.80" text-anchor="middle" class="tk">0.4</text>
<text x="290.60" y="500.20" text-anchor="end" class="tk">16</text>
<text x="290.60" y="476.02" text-anchor="end" class="tk">18</text>
<text x="290.60" y="451.84" text-anchor="end" class="tk">20</text>
<text x="290.60" y="427.66" text-anchor="end" class="tk">22</text>
<text x="290.60" y="403.48" text-anchor="end" class="tk">24</text>
<text x="290.60" y="379.30" text-anchor="end" class="tk">26</text>
</g>
<g id="ph">
<clipPath id="cliph"><rect x="292.50" y="529.75" width="233.20" height="143.75"/></clipPath>
<text x="309.40" y="665.00" class="ui">U</text><text x="319.00" y="657.70" class="usup">(l)</text><text x="319.60" y="668.30" class="usub">0</text><path d="M337.10 653.10L331.50 667.70" stroke="#000" stroke-width="1"/><text x="337.70" y="665.00" class="ui">k</text><text x="345.00" y="667.00" class="usubi">B</text><text x="351.00" y="665.00" class="ui">T</text><text x="363.70" y="665.00" class="un">=</text><text x="374.50" y="665.00" class="un">37</text>
<g clip-path="url(#cliph)">
<path d="M409.50 670.00C410.08 669.92 411.08 670.46 413.00 669.50C414.92 668.54 417.58 666.67 421.00 664.25C424.42 661.83 429.33 657.92 433.50 655.00C437.67 652.08 441.83 649.25 446.00 646.75C450.17 644.25 454.33 642.08 458.50 640.00C462.67 637.92 466.83 635.92 471.00 634.25C475.17 632.58 479.33 631.12 483.50 630.00C487.67 628.88 491.83 628.33 496.00 627.50C500.17 626.67 504.54 625.67 508.50 625.00C512.46 624.33 519.75 623.60 519.75 623.50C519.75 623.40 512.46 624.15 508.50 624.40C504.54 624.65 502.25 624.73 496.00 625.00C489.75 625.27 479.33 625.78 471.00 626.00C462.67 626.22 454.33 626.30 446.00 626.30C437.67 626.30 427.08 626.10 421.00 626.00C414.92 625.90 413.00 626.41 409.50 625.70C406.00 624.99 403.25 623.45 400.00 621.75C396.75 620.05 393.33 617.58 390.00 615.50C386.67 613.42 383.33 611.33 380.00 609.25C376.67 607.17 373.75 605.29 370.00 603.00C366.25 600.71 361.67 597.58 357.50 595.50C353.33 593.42 349.58 592.17 345.00 590.50C340.42 588.83 335.00 586.96 330.00 585.50C325.00 584.04 320.08 583.21 315.00 581.75C309.92 580.29 302.08 577.58 299.50 576.75" fill="none" stroke="#ff0000" stroke-width="0.8" stroke-linejoin="round" stroke-linecap="round" />
<path d="M409.20 669.30C409.78 669.22 410.78 669.76 412.70 668.80C414.62 667.84 417.28 665.97 420.70 663.55C424.12 661.13 429.03 657.22 433.20 654.30C437.37 651.38 441.48 648.52 445.70 646.05C449.92 643.58 454.28 641.58 458.50 639.50C462.72 637.42 467.04 634.73 471.00 633.60C474.96 632.47 482.25 632.65 482.25 632.70C482.25 632.75 477.04 633.55 471.00 633.90C464.96 634.25 454.33 634.62 446.00 634.80C437.67 634.98 427.08 635.17 421.00 635.00C414.92 634.83 412.58 634.55 409.50 633.80C406.42 633.05 404.92 631.67 402.50 630.50C400.08 629.33 397.92 628.42 395.00 626.75C392.08 625.08 388.75 622.79 385.00 620.50C381.25 618.21 376.67 615.29 372.50 613.00C368.33 610.71 364.17 608.62 360.00 606.75C355.83 604.88 351.54 603.54 347.50 601.75C343.46 599.96 337.71 596.96 335.75 596.00" fill="none" stroke="#00ff00" stroke-width="0.8" stroke-linejoin="round" stroke-linecap="round" />
<path d="M408.90 668.80C409.48 668.72 410.48 669.26 412.40 668.30C414.32 667.34 416.98 665.47 420.40 663.05C423.82 660.63 428.63 656.14 432.90 653.80C437.17 651.46 445.90 649.55 446.00 649.00C446.10 648.45 437.67 650.12 433.50 650.50C429.33 650.88 425.00 651.07 421.00 651.25C417.00 651.43 413.00 651.93 409.50 651.60C406.00 651.27 403.25 650.48 400.00 649.25C396.75 648.02 393.33 646.33 390.00 644.25C386.67 642.17 382.92 639.04 380.00 636.75C377.08 634.46 373.75 631.54 372.50 630.50" fill="none" stroke="#4000ff" stroke-width="0.8" stroke-linejoin="round" stroke-linecap="round" />
<path d="M299.50 577.78C303.17 578.20 314.18 579.56 321.52 580.32C328.87 581.07 336.21 581.75 343.55 582.34C350.89 582.92 358.23 583.42 365.57 583.83C372.92 584.23 380.26 584.55 387.60 584.77C394.94 584.98 402.28 585.14 409.62 585.11C416.97 585.08 424.31 584.91 431.65 584.58C438.99 584.25 446.33 583.76 453.68 583.15C461.02 582.53 468.36 581.77 475.70 580.88C483.04 579.99 490.38 578.96 497.73 577.81C505.07 576.65 516.08 574.60 519.75 573.96M299.50 576.57C303.17 577.02 314.18 578.43 321.52 579.22C328.87 580.02 336.21 580.73 343.55 581.34C350.89 581.95 358.23 582.47 365.57 582.90C372.92 583.32 380.26 583.66 387.60 583.88C394.94 584.10 402.28 584.26 409.62 584.24C416.97 584.21 424.31 584.04 431.65 583.73C438.99 583.42 446.33 582.96 453.68 582.37C461.02 581.78 468.36 581.06 475.70 580.21C483.04 579.36 490.38 578.39 497.73 577.29C505.07 576.19 516.08 574.24 519.75 573.63M299.50 576.10C303.17 576.53 314.18 577.88 321.52 578.64C328.87 579.40 336.21 580.08 343.55 580.67C350.89 581.25 358.23 581.75 365.57 582.16C372.92 582.57 380.26 582.89 387.60 583.10C394.94 583.32 402.28 583.46 409.62 583.44C416.97 583.42 424.31 583.27 431.65 582.98C438.99 582.69 446.33 582.26 453.68 581.71C461.02 581.17 468.36 580.50 475.70 579.71C483.04 578.93 490.38 578.02 497.73 577.00C505.07 575.99 516.08 574.17 519.75 573.61M299.50 575.16C303.17 575.56 314.18 576.82 321.52 577.53C328.87 578.24 336.21 578.87 343.55 579.41C350.89 579.96 358.23 580.43 365.57 580.81C372.92 581.18 380.26 581.48 387.60 581.68C394.94 581.88 402.28 582.02 409.62 582.00C416.97 581.98 424.31 581.83 431.65 581.55C438.99 581.26 446.33 580.84 453.68 580.31C461.02 579.78 468.36 579.12 475.70 578.35C483.04 577.59 490.38 576.70 497.73 575.71C505.07 574.71 516.08 572.94 519.75 572.39M299.50 574.11C303.17 574.50 314.18 575.73 321.52 576.42C328.87 577.11 336.21 577.73 343.55 578.26C350.89 578.79 358.23 579.25 365.57 579.62C372.92 579.99 380.26 580.28 387.60 580.47C394.94 580.67 402.28 580.80 409.62 580.79C416.97 580.77 424.31 580.63 431.65 580.37C438.99 580.11 446.33 579.72 453.68 579.24C461.02 578.75 468.36 578.15 475.70 577.45C483.04 576.75 490.38 575.93 497.73 575.02C505.07 574.11 516.08 572.49 519.75 571.99M299.50 573.43C303.17 573.82 314.18 575.08 321.52 575.78C328.87 576.49 336.21 577.12 343.55 577.66C350.89 578.21 358.23 578.67 365.57 579.05C372.92 579.42 380.26 579.72 387.60 579.92C394.94 580.12 402.28 580.25 409.62 580.24C416.97 580.23 424.31 580.09 431.65 579.84C438.99 579.60 446.33 579.23 453.68 578.76C461.02 578.30 468.36 577.73 475.70 577.06C483.04 576.39 490.38 575.61 497.73 574.75C505.07 573.88 516.08 572.33 519.75 571.85M299.50 573.00C303.17 573.35 314.18 574.47 321.52 575.10C328.87 575.72 336.21 576.28 343.55 576.77C350.89 577.25 358.23 577.67 365.57 578.00C372.92 578.34 380.26 578.60 387.60 578.78C394.94 578.95 402.28 579.08 409.62 579.06C416.97 579.04 424.31 578.91 431.65 578.66C438.99 578.42 446.33 578.05 453.68 577.59C461.02 577.12 468.36 576.55 475.70 575.89C483.04 575.22 490.38 574.45 497.73 573.58C505.07 572.72 516.08 571.17 519.75 570.69M299.50 571.39C303.17 571.75 314.18 572.91 321.52 573.56C328.87 574.21 336.21 574.79 343.55 575.29C350.89 575.79 358.23 576.22 365.57 576.56C372.92 576.91 380.26 577.18 387.60 577.37C394.94 577.55 402.28 577.67 409.62 577.66C416.97 577.65 424.31 577.52 431.65 577.30C438.99 577.08 446.33 576.74 453.68 576.32C461.02 575.90 468.36 575.38 475.70 574.78C483.04 574.17 490.38 573.47 497.73 572.69C505.07 571.90 516.08 570.50 519.75 570.07M299.50 570.47C303.17 570.82 314.18 571.94 321.52 572.56C328.87 573.19 336.21 573.75 343.55 574.23C350.89 574.72 358.23 575.13 365.57 575.47C372.92 575.80 380.26 576.07 387.60 576.24C394.94 576.42 402.28 576.53 409.62 576.52C416.97 576.52 424.31 576.41 431.65 576.21C438.99 576.02 446.33 575.73 453.68 575.37C461.02 575.01 468.36 574.56 475.70 574.04C483.04 573.52 490.38 572.91 497.73 572.24C505.07 571.56 516.08 570.35 519.75 569.98M299.50 569.73C303.17 570.08 314.18 571.17 321.52 571.79C328.87 572.40 336.21 572.95 343.55 573.42C350.89 573.90 358.23 574.30 365.57 574.63C372.92 574.96 380.26 575.22 387.60 575.39C394.94 575.57 402.28 575.67 409.62 575.67C416.97 575.67 424.31 575.56 431.65 575.38C438.99 575.20 446.33 574.94 453.68 574.60C461.02 574.26 468.36 573.85 475.70 573.36C483.04 572.88 490.38 572.32 497.73 571.69C505.07 571.06 516.08 569.94 519.75 569.59M299.50 568.65C303.17 568.98 314.18 570.05 321.52 570.66C328.87 571.26 336.21 571.80 343.55 572.26C350.89 572.73 358.23 573.12 365.57 573.44C372.92 573.77 380.26 574.02 387.60 574.19C394.94 574.36 402.28 574.46 409.62 574.46C416.97 574.46 424.31 574.36 431.65 574.19C438.99 574.02 446.33 573.76 453.68 573.44C461.02 573.12 468.36 572.73 475.70 572.26C483.04 571.80 490.38 571.27 497.73 570.67C505.07 570.07 516.08 569.00 519.75 568.67M299.50 568.65C303.17 568.96 314.18 569.94 321.52 570.49C328.87 571.05 336.21 571.54 343.55 571.96C350.89 572.39 358.23 572.75 365.57 573.04C372.92 573.34 380.26 573.57 387.60 573.73C394.94 573.88 402.28 573.98 409.62 573.97C416.97 573.97 424.31 573.88 431.65 573.72C438.99 573.56 446.33 573.33 453.68 573.03C461.02 572.73 468.36 572.36 475.70 571.93C483.04 571.50 490.38 571.01 497.73 570.45C505.07 569.90 516.08 568.90 519.75 568.60M299.50 567.43C303.17 567.73 314.18 568.67 321.52 569.19C328.87 569.72 336.21 570.19 343.55 570.60C350.89 571.00 358.23 571.35 365.57 571.63C372.92 571.91 380.26 572.13 387.60 572.28C394.94 572.43 402.28 572.52 409.62 572.52C416.97 572.52 424.31 572.44 431.65 572.30C438.99 572.17 446.33 571.96 453.68 571.71C461.02 571.46 468.36 571.14 475.70 570.77C483.04 570.41 490.38 569.98 497.73 569.51C505.07 569.03 516.08 568.18 519.75 567.92M299.50 566.42C303.17 566.72 314.18 567.68 321.52 568.21C328.87 568.75 336.21 569.23 343.55 569.64C350.89 570.05 358.23 570.41 365.57 570.69C372.92 570.98 380.26 571.21 387.60 571.36C394.94 571.51 402.28 571.60 409.62 571.60C416.97 571.60 424.31 571.51 431.65 571.37C438.99 571.22 446.33 571.01 453.68 570.74C461.02 570.47 468.36 570.13 475.70 569.74C483.04 569.35 490.38 568.90 497.73 568.39C505.07 567.89 516.08 566.99 519.75 566.70M299.50 564.38C303.17 564.67 314.18 565.59 321.52 566.11C328.87 566.63 336.21 567.09 343.55 567.49C350.89 567.88 358.23 568.23 365.57 568.50C372.92 568.78 380.26 569.00 387.60 569.14C394.94 569.29 402.28 569.37 409.62 569.37C416.97 569.38 424.31 569.29 431.65 569.16C438.99 569.03 446.33 568.83 453.68 568.58C461.02 568.32 468.36 568.01 475.70 567.65C483.04 567.29 490.38 566.87 497.73 566.40C505.07 565.93 516.08 565.09 519.75 564.83M299.50 562.00C303.17 562.28 314.18 563.16 321.52 563.65C328.87 564.15 336.21 564.59 343.55 564.97C350.89 565.35 358.23 565.68 365.57 565.94C372.92 566.21 380.26 566.42 387.60 566.56C394.94 566.69 402.28 566.78 409.62 566.78C416.97 566.78 424.31 566.70 431.65 566.56C438.99 566.43 446.33 566.23 453.68 565.97C461.02 565.72 468.36 565.40 475.70 565.04C483.04 564.67 490.38 564.25 497.73 563.77C505.07 563.30 516.08 562.46 519.75 562.19M299.50 558.99C303.17 559.28 314.18 560.22 321.52 560.75C328.87 561.28 336.21 561.75 343.55 562.16C350.89 562.56 358.23 562.91 365.57 563.19C372.92 563.48 380.26 563.70 387.60 563.85C394.94 564.00 402.28 564.08 409.62 564.09C416.97 564.09 424.31 564.01 431.65 563.88C438.99 563.76 446.33 563.57 453.68 563.34C461.02 563.10 468.36 562.81 475.70 562.47C483.04 562.14 490.38 561.74 497.73 561.31C505.07 560.87 516.08 560.08 519.75 559.84M299.50 556.04C303.17 556.33 314.18 557.23 321.52 557.73C328.87 558.24 336.21 558.69 343.55 559.08C350.89 559.47 358.23 559.80 365.57 560.07C372.92 560.34 380.26 560.55 387.60 560.70C394.94 560.84 402.28 560.92 409.62 560.92C416.97 560.92 424.31 560.84 431.65 560.69C438.99 560.55 446.33 560.34 453.68 560.07C461.02 559.80 468.36 559.47 475.70 559.09C483.04 558.70 490.38 558.25 497.73 557.75C505.07 557.25 516.08 556.36 519.75 556.08M299.50 553.22C303.17 553.52 314.18 554.45 321.52 554.98C328.87 555.51 336.21 555.97 343.55 556.38C350.89 556.79 358.23 557.13 365.57 557.41C372.92 557.69 380.26 557.92 387.60 558.07C394.94 558.21 402.28 558.30 409.62 558.30C416.97 558.31 424.31 558.22 431.65 558.10C438.99 557.97 446.33 557.78 453.68 557.54C461.02 557.30 468.36 557.00 475.70 556.65C483.04 556.31 490.38 555.91 497.73 555.46C505.07 555.01 516.08 554.21 519.75 553.96M299.50 550.99C303.17 551.25 314.18 552.11 321.52 552.60C328.87 553.08 336.21 553.51 343.55 553.88C350.89 554.25 358.23 554.57 365.57 554.83C372.92 555.08 380.26 555.29 387.60 555.42C394.94 555.56 402.28 555.64 409.62 555.64C416.97 555.64 424.31 555.55 431.65 555.41C438.99 555.27 446.33 555.07 453.68 554.80C461.02 554.54 468.36 554.22 475.70 553.84C483.04 553.46 490.38 553.02 497.73 552.53C505.07 552.04 516.08 551.16 519.75 550.89M299.50 548.19C303.17 548.47 314.18 549.38 321.52 549.88C328.87 550.39 336.21 550.84 343.55 551.23C350.89 551.63 358.23 551.96 365.57 552.23C372.92 552.50 380.26 552.72 387.60 552.86C394.94 553.00 402.28 553.09 409.62 553.09C416.97 553.09 424.31 553.00 431.65 552.87C438.99 552.73 446.33 552.53 453.68 552.27C461.02 552.01 468.36 551.70 475.70 551.32C483.04 550.95 490.38 550.53 497.73 550.05C505.07 549.56 516.08 548.71 519.75 548.44M299.50 544.63C303.17 544.94 314.18 545.92 321.52 546.47C328.87 547.03 336.21 547.52 343.55 547.94C350.89 548.37 358.23 548.73 365.57 549.02C372.92 549.32 380.26 549.55 387.60 549.71C394.94 549.86 402.28 549.95 409.62 549.95C416.97 549.96 424.31 549.87 431.65 549.72C438.99 549.58 446.33 549.37 453.68 549.10C461.02 548.83 468.36 548.50 475.70 548.11C483.04 547.72 490.38 547.27 497.73 546.77C505.07 546.26 516.08 545.37 519.75 545.09M299.50 542.15C303.17 542.46 314.18 543.46 321.52 544.02C328.87 544.58 336.21 545.07 343.55 545.51C350.89 545.94 358.23 546.30 365.57 546.60C372.92 546.90 380.26 547.14 387.60 547.29C394.94 547.45 402.28 547.54 409.62 547.55C416.97 547.55 424.31 547.46 431.65 547.31C438.99 547.17 446.33 546.96 453.68 546.69C461.02 546.42 468.36 546.09 475.70 545.70C483.04 545.31 490.38 544.86 497.73 544.36C505.07 543.85 516.08 542.96 519.75 542.68M299.50 540.23C303.17 540.54 314.18 541.52 321.52 542.07C328.87 542.62 336.21 543.11 343.55 543.53C350.89 543.95 358.23 544.32 365.57 544.61C372.92 544.90 380.26 545.14 387.60 545.29C394.94 545.45 402.28 545.53 409.62 545.54C416.97 545.54 424.31 545.46 431.65 545.32C438.99 545.19 446.33 545.00 453.68 544.75C461.02 544.50 468.36 544.19 475.70 543.83C483.04 543.47 490.38 543.06 497.73 542.60C505.07 542.13 516.08 541.30 519.75 541.05M299.50 539.45C303.17 539.72 314.18 540.61 321.52 541.11C328.87 541.60 336.21 542.05 343.55 542.43C350.89 542.81 358.23 543.14 365.57 543.41C372.92 543.67 380.26 543.88 387.60 544.02C394.94 544.16 402.28 544.25 409.62 544.24C416.97 544.24 424.31 544.16 431.65 544.02C438.99 543.88 446.33 543.67 453.68 543.40C461.02 543.13 468.36 542.81 475.70 542.42C483.04 542.04 490.38 541.60 497.73 541.10C505.07 540.60 516.08 539.72 519.75 539.44M299.50 539.02C303.17 539.29 314.18 540.15 321.52 540.63C328.87 541.11 336.21 541.54 343.55 541.91C350.89 542.28 358.23 542.60 365.57 542.86C372.92 543.12 380.26 543.32 387.60 543.46C394.94 543.59 402.28 543.67 409.62 543.67C416.97 543.67 424.31 543.59 431.65 543.45C438.99 543.31 446.33 543.10 453.68 542.84C461.02 542.58 468.36 542.25 475.70 541.87C483.04 541.49 490.38 541.06 497.73 540.57C505.07 540.08 516.08 539.20 519.75 538.93M299.50 537.45C303.17 537.73 314.18 538.66 321.52 539.17C328.87 539.69 336.21 540.15 343.55 540.55C350.89 540.95 358.23 541.29 365.57 541.56C372.92 541.84 380.26 542.06 387.60 542.20C394.94 542.35 402.28 542.43 409.62 542.43C416.97 542.43 424.31 542.35 431.65 542.21C438.99 542.07 446.33 541.86 453.68 541.59C461.02 541.33 468.36 541.00 475.70 540.62C483.04 540.24 490.38 539.80 497.73 539.31C505.07 538.82 516.08 537.94 519.75 537.66M299.50 537.04C303.17 537.31 314.18 538.20 321.52 538.70C328.87 539.20 336.21 539.64 343.55 540.03C350.89 540.41 358.23 540.74 365.57 541.00C372.92 541.27 380.26 541.48 387.60 541.62C394.94 541.76 402.28 541.84 409.62 541.84C416.97 541.85 424.31 541.77 431.65 541.64C438.99 541.51 446.33 541.32 453.68 541.08C461.02 540.84 468.36 540.55 475.70 540.20C483.04 539.85 490.38 539.46 497.73 539.01C505.07 538.56 516.08 537.76 519.75 537.51M299.50 535.77C303.17 536.04 314.18 536.92 321.52 537.41C328.87 537.90 336.21 538.33 343.55 538.71C350.89 539.09 358.23 539.42 365.57 539.68C372.92 539.94 380.26 540.15 387.60 540.28C394.94 540.42 402.28 540.50 409.62 540.50C416.97 540.51 424.31 540.43 431.65 540.31C438.99 540.19 446.33 540.00 453.68 539.77C461.02 539.54 468.36 539.26 475.70 538.93C483.04 538.60 490.38 538.21 497.73 537.78C505.07 537.35 516.08 536.59 519.75 536.35M299.50 534.23C303.17 534.54 314.18 535.52 321.52 536.07C328.87 536.62 336.21 537.12 343.55 537.54C350.89 537.96 358.23 538.33 365.57 538.62C372.92 538.92 380.26 539.15 387.60 539.30C394.94 539.46 402.28 539.55 409.62 539.55C416.97 539.56 424.31 539.46 431.65 539.32C438.99 539.18 446.33 538.96 453.68 538.69C461.02 538.42 468.36 538.09 475.70 537.70C483.04 537.31 490.38 536.86 497.73 536.35C505.07 535.85 516.08 534.95 519.75 534.67M299.50 533.44C303.17 533.73 314.18 534.65 321.52 535.17C328.87 535.68 336.21 536.14 343.55 536.54C350.89 536.94 358.23 537.28 365.57 537.56C372.92 537.83 380.26 538.05 387.60 538.20C394.94 538.34 402.28 538.42 409.62 538.43C416.97 538.43 424.31 538.35 431.65 538.22C438.99 538.10 446.33 537.91 453.68 537.67C461.02 537.43 468.36 537.14 475.70 536.80C483.04 536.45 490.38 536.06 497.73 535.61C505.07 535.17 516.08 534.37 519.75 534.13M299.50 531.85C303.17 532.14 314.18 533.07 321.52 533.59C328.87 534.11 336.21 534.57 343.55 534.97C350.89 535.38 358.23 535.72 365.57 536.00C372.92 536.27 380.26 536.49 387.60 536.64C394.94 536.79 402.28 536.87 409.62 536.87C416.97 536.88 424.31 536.79 431.65 536.65C438.99 536.51 446.33 536.31 453.68 536.05C461.02 535.79 468.36 535.47 475.70 535.10C483.04 534.72 490.38 534.29 497.73 533.81C505.07 533.32 516.08 532.46 519.75 532.19" fill="none" stroke="#ff0000" stroke-width="1.15" stroke-linecap="butt"/>
<path d="M337.01 591.81C340.02 592.18 349.04 593.40 355.06 594.07C361.07 594.73 367.09 595.31 373.11 595.79C379.12 596.27 385.14 596.67 391.16 596.94C397.17 597.21 403.19 597.41 409.21 597.41C415.22 597.42 421.24 597.23 427.26 596.96C433.27 596.69 439.29 596.28 445.31 595.79C451.32 595.31 457.34 594.71 463.36 594.04C469.37 593.36 478.40 592.12 481.41 591.73M336.62 593.13C339.64 593.48 348.68 594.59 354.71 595.20C360.74 595.81 366.77 596.34 372.80 596.78C378.83 597.22 384.86 597.59 390.89 597.84C396.92 598.09 402.94 598.28 408.97 598.28C415.00 598.28 421.03 598.10 427.06 597.83C433.09 597.57 439.12 597.17 445.15 596.68C451.18 596.20 457.21 595.61 463.24 594.94C469.27 594.27 478.31 593.03 481.33 592.65M336.90 593.58C339.94 593.95 349.04 595.14 355.11 595.79C361.18 596.44 367.25 597.01 373.32 597.48C379.39 597.94 385.46 598.33 391.53 598.59C397.60 598.85 403.67 599.04 409.74 599.03C415.81 599.02 421.88 598.82 427.95 598.53C434.02 598.25 440.09 597.82 446.16 597.31C452.23 596.80 458.30 596.18 464.37 595.47C470.44 594.77 479.55 593.47 482.58 593.07M336.64 594.18C339.66 594.55 348.72 595.76 354.76 596.42C360.81 597.08 366.85 597.66 372.89 598.14C378.93 598.62 384.97 599.01 391.01 599.28C397.05 599.55 403.10 599.75 409.14 599.76C415.18 599.76 421.22 599.57 427.26 599.30C433.30 599.03 439.34 598.63 445.39 598.14C451.43 597.66 457.47 597.07 463.51 596.39C469.55 595.71 478.61 594.47 481.63 594.09M336.36 595.00C339.38 595.38 348.43 596.59 354.46 597.26C360.49 597.92 366.53 598.50 372.56 598.98C378.59 599.46 384.63 599.86 390.66 600.14C396.69 600.41 402.73 600.61 408.76 600.63C414.79 600.64 420.83 600.46 426.86 600.21C432.89 599.96 438.93 599.59 444.96 599.13C450.99 598.68 457.03 598.12 463.06 597.48C469.09 596.85 478.15 595.68 481.16 595.32M335.89 596.12C338.95 596.47 348.11 597.62 354.22 598.24C360.34 598.86 366.45 599.41 372.56 599.86C378.67 600.31 384.78 600.68 390.89 600.94C397.00 601.19 403.12 601.38 409.23 601.38C415.34 601.38 421.45 601.20 427.56 600.95C433.67 600.70 439.78 600.32 445.89 599.86C452.01 599.41 458.12 598.85 464.23 598.22C470.34 597.59 479.51 596.42 482.56 596.07M336.73 597.08C339.77 597.44 348.87 598.60 354.94 599.24C361.01 599.87 367.08 600.43 373.15 600.88C379.22 601.34 385.29 601.72 391.36 601.97C397.43 602.23 403.50 602.41 409.57 602.41C415.64 602.41 421.71 602.22 427.78 601.96C433.85 601.70 439.92 601.31 445.99 600.84C452.06 600.37 458.13 599.80 464.20 599.16C470.27 598.51 479.38 597.32 482.41 596.95" fill="none" stroke="#00ff00" stroke-width="1.3"/>
<path d="M400.00 603.90C402.11 603.95 408.44 604.18 412.67 604.19C416.89 604.21 421.11 604.12 425.33 604.01C429.56 603.89 433.78 603.73 438.00 603.50C442.22 603.27 446.44 602.99 450.67 602.63C454.89 602.28 459.11 601.86 463.33 601.37C467.56 600.88 473.89 599.98 476.00 599.70" fill="none" stroke="#00ff00" stroke-width="0.7" stroke-linejoin="round" stroke-linecap="round" />
<path d="M420.00 604.84C421.67 604.80 426.67 604.72 430.00 604.62C433.33 604.52 436.67 604.40 440.00 604.24C443.33 604.07 446.67 603.88 450.00 603.66C453.33 603.43 456.67 603.18 460.00 602.88C463.33 602.59 468.33 602.06 470.00 601.90" fill="none" stroke="#00ff00" stroke-width="0.6" stroke-linejoin="round" stroke-linecap="round" />
<path d="M372.72 628.39C374.77 628.67 380.91 629.59 385.01 630.05C389.10 630.52 393.20 630.90 397.29 631.16C401.39 631.42 405.48 631.61 409.58 631.60C413.67 631.59 417.77 631.39 421.86 631.11C425.96 630.82 430.05 630.40 434.15 629.90C438.24 629.39 444.39 628.38 446.43 628.07M373.05 628.87C375.09 629.17 381.22 630.20 385.30 630.70C389.38 631.21 393.47 631.64 397.55 631.92C401.63 632.20 405.72 632.40 409.80 632.39C413.89 632.38 417.97 632.16 422.05 631.85C426.14 631.54 430.22 631.08 434.30 630.54C438.39 629.99 444.51 628.90 446.55 628.57M373.29 629.78C375.33 630.07 381.44 631.06 385.51 631.54C389.58 632.03 393.65 632.44 397.72 632.71C401.80 632.98 405.87 633.16 409.94 633.15C414.01 633.15 418.09 632.94 422.16 632.67C426.23 632.40 430.30 632.00 434.38 631.53C438.45 631.05 444.56 630.10 446.59 629.82M372.68 630.65C374.71 630.93 380.81 631.86 384.88 632.33C388.94 632.79 393.01 633.18 397.08 633.44C401.15 633.71 405.21 633.91 409.28 633.90C413.35 633.90 417.42 633.70 421.48 633.40C425.55 633.10 429.62 632.66 433.69 632.12C437.75 631.58 443.85 630.51 445.89 630.18M372.54 631.28C374.59 631.56 380.73 632.50 384.82 632.97C388.91 633.45 393.01 633.84 397.10 634.10C401.19 634.37 405.28 634.57 409.38 634.56C413.47 634.55 417.56 634.35 421.65 634.04C425.75 633.73 429.84 633.27 433.93 632.72C438.03 632.16 444.16 631.05 446.21 630.72" fill="none" stroke="#4000ff" stroke-width="1.3"/>
</g>
<text x="307" y="590.5" class="nm" text-anchor="middle">3</text>
<text x="340.5" y="613.0" class="nm" text-anchor="middle">2</text>
<text x="366.5" y="639.5" class="nm" text-anchor="middle">1</text>
<path d="M299.70 673.50v-1.8M299.70 529.75v1.8M311.90 673.50v-3.0M311.90 529.75v3.0M324.10 673.50v-1.8M324.10 529.75v1.8M336.30 673.50v-1.8M336.30 529.75v1.8M348.50 673.50v-1.8M348.50 529.75v1.8M360.70 673.50v-3.0M360.70 529.75v3.0M372.90 673.50v-1.8M372.90 529.75v1.8M385.10 673.50v-1.8M385.10 529.75v1.8M397.30 673.50v-1.8M397.30 529.75v1.8M409.50 673.50v-3.0M409.50 529.75v3.0M421.70 673.50v-1.8M421.70 529.75v1.8M433.90 673.50v-1.8M433.90 529.75v1.8M446.10 673.50v-1.8M446.10 529.75v1.8M458.30 673.50v-3.0M458.30 529.75v3.0M470.50 673.50v-1.8M470.50 529.75v1.8M482.70 673.50v-1.8M482.70 529.75v1.8M494.90 673.50v-1.8M494.90 529.75v1.8M507.10 673.50v-3.0M507.10 529.75v3.0M519.30 673.50v-1.8M519.30 529.75v1.8M292.50 670.76h1.8M525.70 670.76h-1.8M292.50 664.57h1.8M525.70 664.57h-1.8M292.50 658.38h1.8M525.70 658.38h-1.8M292.50 652.19h1.8M525.70 652.19h-1.8M292.50 646.00h3.0M525.70 646.00h-3.0M292.50 639.81h1.8M525.70 639.81h-1.8M292.50 633.62h1.8M525.70 633.62h-1.8M292.50 627.43h1.8M525.70 627.43h-1.8M292.50 621.24h1.8M525.70 621.24h-1.8M292.50 615.05h3.0M525.70 615.05h-3.0M292.50 608.86h1.8M525.70 608.86h-1.8M292.50 602.67h1.8M525.70 602.67h-1.8M292.50 596.48h1.8M525.70 596.48h-1.8M292.50 590.29h1.8M525.70 590.29h-1.8M292.50 584.10h3.0M525.70 584.10h-3.0M292.50 577.91h1.8M525.70 577.91h-1.8M292.50 571.72h1.8M525.70 571.72h-1.8M292.50 565.53h1.8M525.70 565.53h-1.8M292.50 559.34h1.8M525.70 559.34h-1.8M292.50 553.15h3.0M525.70 553.15h-3.0M292.50 546.96h1.8M525.70 546.96h-1.8M292.50 540.77h1.8M525.70 540.77h-1.8M292.50 534.58h1.8M525.70 534.58h-1.8" stroke="#1c1c1c" stroke-width="0.9" fill="none"/>
<path d="M409.50 529.75V673.50" stroke="#1c1c1c" stroke-width="1.1"/>
<rect x="292.50" y="529.75" width="233.20" height="143.75" fill="none" stroke="#1c1c1c" stroke-width="1.2"/>
<text x="311.20" y="688.80" text-anchor="middle" class="tk">−0.4</text>
<text x="360.00" y="688.80" text-anchor="middle" class="tk">−0.2</text>
<text x="409.50" y="688.80" text-anchor="middle" class="tk">0.0</text>
<text x="458.30" y="688.80" text-anchor="middle" class="tk">0.2</text>
<text x="507.10" y="688.80" text-anchor="middle" class="tk">0.4</text>
<text x="290.60" y="651.30" text-anchor="end" class="tk">20</text>
<text x="290.60" y="620.35" text-anchor="end" class="tk">25</text>
<text x="290.60" y="589.40" text-anchor="end" class="tk">30</text>
<text x="290.60" y="558.45" text-anchor="end" class="tk">35</text>
</g>
<text x="131.5" y="45.1" class="pl" text-anchor="middle">(a)</text>
<text x="131.5" y="213.1" class="pl" text-anchor="middle">(b)</text>
<text x="131.5" y="380.6" class="pl" text-anchor="middle">(c)</text>
<text x="131.5" y="548.6" class="pl" text-anchor="middle">(d)</text>
<text x="396.0" y="43.6" class="pl" text-anchor="middle">(e)</text>
<text x="396.0" y="211.6" class="pl" text-anchor="middle">(f)</text>
<text x="396.0" y="379.6" class="pl" text-anchor="middle">(g)</text>
<text x="396.0" y="547.1" class="pl" text-anchor="middle">(h)</text>
<text x="163.70" y="157.50" class="om">ω</text><path d="M181.30 146.50L175.90 162.60" stroke="#000" stroke-width="1"/><text x="182.90" y="157.50" class="om">ω</text><text x="194.90" y="161.70" class="sub">0</text><text x="204.00" y="157.50" class="tk">≈</text><text x="217.20" y="157.50" class="tk">0.3</text>
<text x="164.00" y="325.50" class="om">ω</text><path d="M181.60 314.50L176.20 330.60" stroke="#000" stroke-width="1"/><text x="183.20" y="325.50" class="om">ω</text><text x="195.20" y="329.70" class="sub">0</text><text x="204.30" y="325.50" class="tk">≈</text><text x="217.50" y="325.50" class="tk">3.</text>
<text x="161.30" y="490.10" class="om">ω</text><path d="M178.90 479.10L173.50 495.20" stroke="#000" stroke-width="1"/><text x="180.50" y="490.10" class="om">ω</text><text x="192.50" y="494.30" class="sub">0</text><text x="201.60" y="490.10" class="tk">≈</text><text x="214.80" y="490.10" class="tk">3.3</text>
<text x="165.50" y="655.90" class="om">ω</text><path d="M183.10 644.90L177.70 661.00" stroke="#000" stroke-width="1"/><text x="184.70" y="655.90" class="om">ω</text><text x="196.70" y="660.10" class="sub">0</text><text x="205.80" y="655.90" class="tk">≈</text><text x="219.00" y="655.90" class="tk">33</text>
<text x="125" y="17.2" class="ti">F</text><path d="M141 12.8h6.6" stroke="#000" stroke-width="1.2"/>
<g transform="translate(157.90,7.30)" fill="none" stroke="#000" stroke-linecap="round"><path d="M0.5 3.6C1.0 1.6 2.3 0.4 3.5 0.5C5.0 0.7 5.0 4.3 5.3 7.2" stroke-width="1.25"/><path d="M10.6 0.1L5.3 7.4" stroke-width="1.1"/><path d="M5.2 7.5L1.8 12.9" stroke-width="1.9"/></g>
<text x="355.3" y="17.8" class="ti">N</text><text x="368.7" y="10.0" class="tsup">(l)</text><text x="371.3" y="22.7" class="tsub">b</text><path d="M391.8 2.4L382.0 22.6" stroke="#000" stroke-width="1.1"/><text x="389.7" y="17.8" class="ti">N</text><text x="404.6" y="21.6" class="tsubi">PGN</text><path d="M430.3 12.8h7.2" stroke="#000" stroke-width="1.2"/>
<g transform="translate(447.60,7.30)" fill="none" stroke="#000" stroke-linecap="round"><path d="M0.5 3.6C1.0 1.6 2.3 0.4 3.5 0.5C5.0 0.7 5.0 4.3 5.3 7.2" stroke-width="1.25"/><path d="M10.6 0.1L5.3 7.4" stroke-width="1.1"/><path d="M5.2 7.5L1.8 12.9" stroke-width="1.9"/></g>
</svg></body></html>
